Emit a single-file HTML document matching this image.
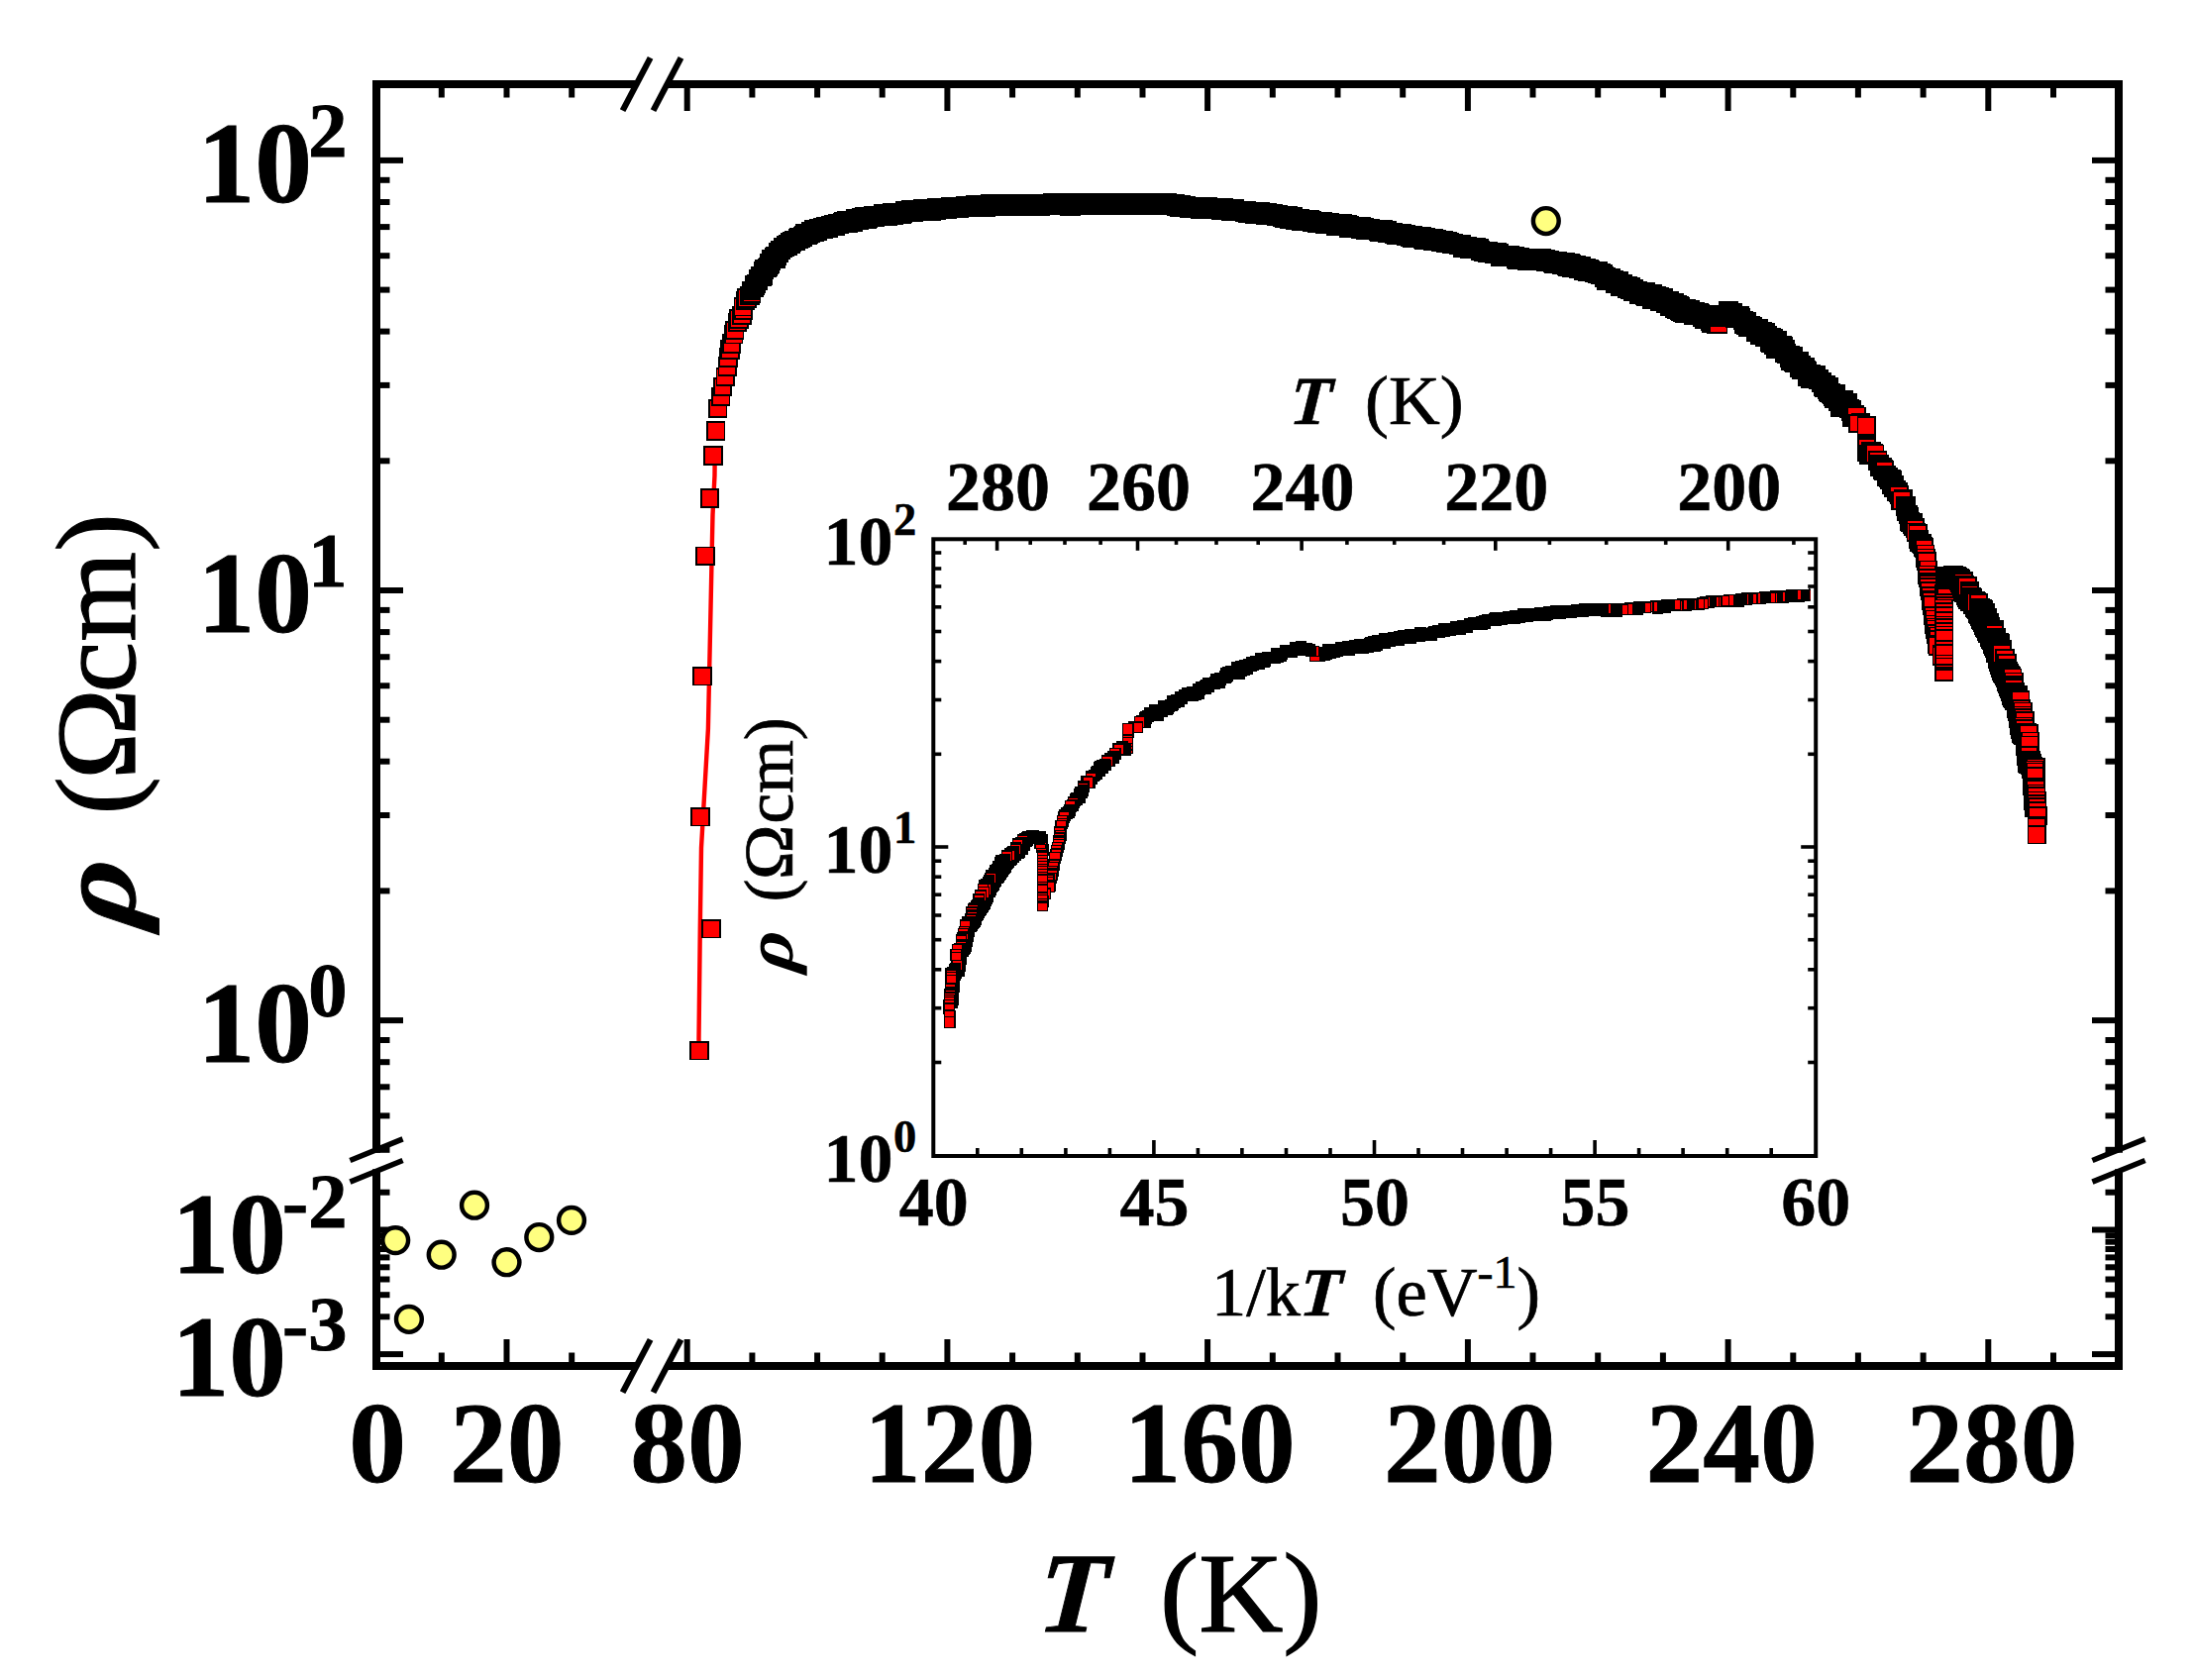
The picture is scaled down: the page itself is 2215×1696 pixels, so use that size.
<!DOCTYPE html>
<html lang="en"><head><meta charset="utf-8"><title>Resistivity versus temperature</title>
<style>html,body{margin:0;padding:0;background:#fff}svg{display:block}text{font-family:"Liberation Serif",serif;fill:#000}.b{font-weight:bold;stroke:#000;stroke-width:0.9px}.b2{font-weight:bold;stroke:#000;stroke-width:0.55px}.bi{font-weight:bold;font-style:italic}</style></head><body>
<svg width="2215" height="1696" viewBox="0 0 2215 1696">
<rect width="2215" height="1696" fill="#fff"/>
<g id="main-data">
<polyline fill="none" stroke="#f00" stroke-width="4.4" points="721.6,470 721.5,480 719.5,520 717.6,610 714.9,736 708,856 706.8,937 705.5,1049 705.8,1060"/>
<g fill="#f00" stroke="#000" stroke-width="1.8" shape-rendering="crispEdges">
<rect x="697.2" y="1052" width="17.5" height="17.5"/>
<rect x="709.2" y="929" width="17.5" height="17.5"/>
<rect x="698.2" y="816" width="17.5" height="17.5"/>
<rect x="700.2" y="674" width="17.5" height="17.5"/>
<rect x="703.2" y="552.4" width="17.5" height="17.5"/>
<rect x="707.8" y="494.1" width="17.5" height="17.5"/>
<rect x="711.2" y="451.2" width="17.5" height="17.5"/>
<rect x="714.1" y="426.1" width="17.5" height="17.5"/>
<rect x="716.1" y="403.6" width="17.5" height="17.5"/>
<rect x="719.1" y="391.9" width="17.5" height="17.5"/>
<rect x="720.7" y="381.9" width="17.5" height="17.5"/>
<rect x="723.5" y="371.8" width="17.5" height="17.5"/>
<rect x="725.5" y="361.4" width="17.5" height="17.5"/>
<rect x="726.5" y="352.3" width="17.5" height="17.5"/>
<rect x="728.2" y="344.4" width="17.5" height="17.5"/>
<rect x="729.8" y="338.3" width="17.5" height="17.5"/>
<rect x="732.1" y="329" width="17.5" height="17.5"/>
<rect x="732.9" y="324.9" width="17.5" height="17.5"/>
<rect x="735.7" y="316.8" width="17.5" height="17.5"/>
<rect x="737.3" y="313.4" width="17.5" height="17.5"/>
<rect x="740.2" y="309.7" width="17.5" height="17.5"/>
<rect x="741.7" y="304.3" width="17.5" height="17.5"/>
<rect x="741.6" y="301" width="17.5" height="17.5"/>
<rect x="743.7" y="294.9" width="17.5" height="17.5"/>
<rect x="745.2" y="292.3" width="17.5" height="17.5"/>
<rect x="748.3" y="289.8" width="17.5" height="17.5"/>
<rect x="749.9" y="287.7" width="17.5" height="17.5"/>
<rect x="750" y="284.8" width="17.5" height="17.5" fill="#000"/>
<rect x="752.9" y="281.8" width="17.5" height="17.5" fill="#000"/>
<rect x="753.3" y="279.1" width="17.5" height="17.5" fill="#000"/>
<rect x="754.9" y="277.8" width="17.5" height="17.5" fill="#000"/>
<rect x="757.1" y="274.3" width="17.5" height="17.5" fill="#000"/>
<rect x="756.9" y="272.5" width="17.5" height="17.5" fill="#000"/>
<rect x="758.7" y="270.1" width="17.5" height="17.5" fill="#000"/>
<rect x="760.3" y="270.4" width="17.5" height="17.5" fill="#000"/>
<rect x="762" y="269.4" width="17.5" height="17.5" fill="#000"/>
<rect x="761.6" y="265.9" width="17.5" height="17.5" fill="#000"/>
<rect x="761.9" y="265.3" width="17.5" height="17.5" fill="#000"/>
<rect x="762.7" y="263.2" width="17.5" height="17.5" fill="#000"/>
<rect x="765.6" y="261.8" width="17.5" height="17.5" fill="#000"/>
<rect x="767" y="261" width="17.5" height="17.5" fill="#000"/>
<rect x="767.5" y="258.5" width="17.5" height="17.5" fill="#000"/>
<rect x="768.3" y="257.3" width="17.5" height="17.5" fill="#000"/>
<rect x="770" y="254.1" width="17.5" height="17.5" fill="#000"/>
<rect x="770.1" y="253.5" width="17.5" height="17.5" fill="#000"/>
<rect x="770.1" y="252.5" width="17.5" height="17.5" fill="#000"/>
<rect x="772.7" y="250.7" width="17.5" height="17.5" fill="#000"/>
<rect x="774.2" y="252.1" width="17.5" height="17.5" fill="#000"/>
<rect x="774.1" y="250" width="17.5" height="17.5" fill="#000"/>
<rect x="774.2" y="249.7" width="17.5" height="17.5" fill="#000"/>
<rect x="775.6" y="249.5" width="17.5" height="17.5" fill="#000"/>
<rect x="776.4" y="246.3" width="17.5" height="17.5" fill="#000"/>
<rect x="777.6" y="246.7" width="17.5" height="17.5" fill="#000"/>
<rect x="779.3" y="243.6" width="17.5" height="17.5" fill="#000"/>
<rect x="779.6" y="243.7" width="17.5" height="17.5" fill="#000"/>
<rect x="781.9" y="241.3" width="17.5" height="17.5" fill="#000"/>
<rect x="783.6" y="240.4" width="17.5" height="17.5" fill="#000"/>
<rect x="783.3" y="240.9" width="17.5" height="17.5" fill="#000"/>
<rect x="784.5" y="238.4" width="17.5" height="17.5" fill="#000"/>
<rect x="787.1" y="239.7" width="17.5" height="17.5" fill="#000"/>
<rect x="786.1" y="238.8" width="17.5" height="17.5" fill="#000"/>
<rect x="787.3" y="237.4" width="17.5" height="17.5" fill="#000"/>
<rect x="789.3" y="237.4" width="17.5" height="17.5" fill="#000"/>
<rect x="788.8" y="236.3" width="17.5" height="17.5" fill="#000"/>
<rect x="790.8" y="235.2" width="17.5" height="17.5" fill="#000"/>
<rect x="793.4" y="234.2" width="17.5" height="17.5" fill="#000"/>
<rect x="793.3" y="233.8" width="17.5" height="17.5" fill="#000"/>
<rect x="794.8" y="234.9" width="17.5" height="17.5" fill="#000"/>
<rect x="796.4" y="232" width="17.5" height="17.5" fill="#000"/>
<rect x="797.4" y="231.4" width="17.5" height="17.5" fill="#000"/>
<rect x="797.2" y="232.1" width="17.5" height="17.5" fill="#000"/>
<rect x="797.5" y="230.8" width="17.5" height="17.5" fill="#000"/>
<rect x="798.4" y="232" width="17.5" height="17.5" fill="#000"/>
<rect x="799.9" y="231.1" width="17.5" height="17.5" fill="#000"/>
<rect x="801.3" y="230.9" width="17.5" height="17.5" fill="#000"/>
<rect x="801.4" y="230" width="17.5" height="17.5" fill="#000"/>
<rect x="802.7" y="228.9" width="17.5" height="17.5" fill="#000"/>
<rect x="803.6" y="226.8" width="17.5" height="17.5" fill="#000"/>
<rect x="806.2" y="228.6" width="17.5" height="17.5" fill="#000"/>
<rect x="806.3" y="227.5" width="17.5" height="17.5" fill="#000"/>
<rect x="807.6" y="227.7" width="17.5" height="17.5" fill="#000"/>
<rect x="809.9" y="224.5" width="17.5" height="17.5" fill="#000"/>
<rect x="810" y="225.6" width="17.5" height="17.5" fill="#000"/>
<rect x="810" y="226.3" width="17.5" height="17.5" fill="#000"/>
<rect x="811.8" y="225.3" width="17.5" height="17.5" fill="#000"/>
<rect x="814.1" y="225.3" width="17.5" height="17.5" fill="#000"/>
<rect x="813" y="222.5" width="17.5" height="17.5" fill="#000"/>
<rect x="815.4" y="224.8" width="17.5" height="17.5" fill="#000"/>
<rect x="816.5" y="224.9" width="17.5" height="17.5" fill="#000"/>
<rect x="817.5" y="221.6" width="17.5" height="17.5" fill="#000"/>
<rect x="819.4" y="222.2" width="17.5" height="17.5" fill="#000"/>
<rect x="818.9" y="222.9" width="17.5" height="17.5" fill="#000"/>
<rect x="819.7" y="221.4" width="17.5" height="17.5" fill="#000"/>
<rect x="821.7" y="221.1" width="17.5" height="17.5" fill="#000"/>
<rect x="822.2" y="222.5" width="17.5" height="17.5" fill="#000"/>
<rect x="824.6" y="219.9" width="17.5" height="17.5" fill="#000"/>
<rect x="825.7" y="220.2" width="17.5" height="17.5" fill="#000"/>
<rect x="826.7" y="220.1" width="17.5" height="17.5" fill="#000"/>
<rect x="826.2" y="220.5" width="17.5" height="17.5" fill="#000"/>
<rect x="827.6" y="221.7" width="17.5" height="17.5" fill="#000"/>
<rect x="827.7" y="220.7" width="17.5" height="17.5" fill="#000"/>
<rect x="829.4" y="219.1" width="17.5" height="17.5" fill="#000"/>
<rect x="832.3" y="219.6" width="17.5" height="17.5" fill="#000"/>
<rect x="833.3" y="217.6" width="17.5" height="17.5" fill="#000"/>
<rect x="834.4" y="219.3" width="17.5" height="17.5" fill="#000"/>
<rect x="833.5" y="219.4" width="17.5" height="17.5" fill="#000"/>
<rect x="834.5" y="219.3" width="17.5" height="17.5" fill="#000"/>
<rect x="836.7" y="216.8" width="17.5" height="17.5" fill="#000"/>
<rect x="838.3" y="217.9" width="17.5" height="17.5" fill="#000"/>
<rect x="838.8" y="216.6" width="17.5" height="17.5" fill="#000"/>
<rect x="838.4" y="216.8" width="17.5" height="17.5" fill="#000"/>
<rect x="841.6" y="216.1" width="17.5" height="17.5" fill="#000"/>
<rect x="842.2" y="216.8" width="17.5" height="17.5" fill="#000"/>
<rect x="841.8" y="215.5" width="17.5" height="17.5" fill="#000"/>
<rect x="843.2" y="215.2" width="17.5" height="17.5" fill="#000"/>
<rect x="846" y="216.2" width="17.5" height="17.5" fill="#000"/>
<rect x="845.5" y="214.3" width="17.5" height="17.5" fill="#000"/>
<rect x="847.4" y="216.4" width="17.5" height="17.5" fill="#000"/>
<rect x="846.9" y="216.2" width="17.5" height="17.5" fill="#000"/>
<rect x="850" y="213.9" width="17.5" height="17.5" fill="#000"/>
<rect x="849.1" y="213.6" width="17.5" height="17.5" fill="#000"/>
<rect x="852.3" y="213.8" width="17.5" height="17.5" fill="#000"/>
<rect x="851.7" y="213.9" width="17.5" height="17.5" fill="#000"/>
<rect x="852.2" y="215.3" width="17.5" height="17.5" fill="#000"/>
<rect x="855.4" y="213" width="17.5" height="17.5" fill="#000"/>
<rect x="855.3" y="211.9" width="17.5" height="17.5" fill="#000"/>
<rect x="856.1" y="211.8" width="17.5" height="17.5" fill="#000"/>
<rect x="858.2" y="213.6" width="17.5" height="17.5" fill="#000"/>
<rect x="857.7" y="213.1" width="17.5" height="17.5" fill="#000"/>
<rect x="858.8" y="211.9" width="17.5" height="17.5" fill="#000"/>
<rect x="859.9" y="212.1" width="17.5" height="17.5" fill="#000"/>
<rect x="860.6" y="210.4" width="17.5" height="17.5" fill="#000"/>
<rect x="862.2" y="211.7" width="17.5" height="17.5" fill="#000"/>
<rect x="863.9" y="210.1" width="17.5" height="17.5" fill="#000"/>
<rect x="864.5" y="209.9" width="17.5" height="17.5" fill="#000"/>
<rect x="865.7" y="211" width="17.5" height="17.5" fill="#000"/>
<rect x="866.8" y="212.4" width="17.5" height="17.5" fill="#000"/>
<rect x="867.7" y="211.8" width="17.5" height="17.5" fill="#000"/>
<rect x="867.6" y="209.7" width="17.5" height="17.5" fill="#000"/>
<rect x="869.1" y="210.6" width="17.5" height="17.5" fill="#000"/>
<rect x="871.6" y="210.1" width="17.5" height="17.5" fill="#000"/>
<rect x="871.6" y="210.1" width="17.5" height="17.5" fill="#000"/>
<rect x="873.2" y="209.1" width="17.5" height="17.5" fill="#000"/>
<rect x="873.1" y="209.7" width="17.5" height="17.5" fill="#000"/>
<rect x="874.5" y="210.4" width="17.5" height="17.5" fill="#000"/>
<rect x="876.9" y="209.5" width="17.5" height="17.5" fill="#000"/>
<rect x="877.4" y="208.6" width="17.5" height="17.5" fill="#000"/>
<rect x="879.4" y="209.4" width="17.5" height="17.5" fill="#000"/>
<rect x="879.7" y="209.1" width="17.5" height="17.5" fill="#000"/>
<rect x="880.5" y="208.4" width="17.5" height="17.5" fill="#000"/>
<rect x="881.4" y="208.7" width="17.5" height="17.5" fill="#000"/>
<rect x="882.5" y="207.3" width="17.5" height="17.5" fill="#000"/>
<rect x="884.1" y="207.3" width="17.5" height="17.5" fill="#000"/>
<rect x="885.8" y="209.1" width="17.5" height="17.5" fill="#000"/>
<rect x="885.8" y="206.8" width="17.5" height="17.5" fill="#000"/>
<rect x="887.6" y="209.2" width="17.5" height="17.5" fill="#000"/>
<rect x="886.8" y="208.1" width="17.5" height="17.5" fill="#000"/>
<rect x="887.7" y="208.6" width="17.5" height="17.5" fill="#000"/>
<rect x="888.8" y="207.1" width="17.5" height="17.5" fill="#000"/>
<rect x="891.7" y="206.2" width="17.5" height="17.5" fill="#000"/>
<rect x="891.1" y="206.6" width="17.5" height="17.5" fill="#000"/>
<rect x="893.5" y="208.3" width="17.5" height="17.5" fill="#000"/>
<rect x="895.1" y="205.5" width="17.5" height="17.5" fill="#000"/>
<rect x="894.4" y="205.4" width="17.5" height="17.5" fill="#000"/>
<rect x="895.9" y="206.7" width="17.5" height="17.5" fill="#000"/>
<rect x="898.5" y="205.5" width="17.5" height="17.5" fill="#000"/>
<rect x="897.4" y="206.6" width="17.5" height="17.5" fill="#000"/>
<rect x="899.4" y="206.7" width="17.5" height="17.5" fill="#000"/>
<rect x="899.6" y="206.7" width="17.5" height="17.5" fill="#000"/>
<rect x="902" y="207.4" width="17.5" height="17.5" fill="#000"/>
<rect x="902.6" y="206" width="17.5" height="17.5" fill="#000"/>
<rect x="902.3" y="206.2" width="17.5" height="17.5" fill="#000"/>
<rect x="904.9" y="205.4" width="17.5" height="17.5" fill="#000"/>
<rect x="904.5" y="203.8" width="17.5" height="17.5" fill="#000"/>
<rect x="907.4" y="203.7" width="17.5" height="17.5" fill="#000"/>
<rect x="906.7" y="205.8" width="17.5" height="17.5" fill="#000"/>
<rect x="907.6" y="204" width="17.5" height="17.5" fill="#000"/>
<rect x="909.2" y="205.9" width="17.5" height="17.5" fill="#000"/>
<rect x="910.7" y="203.3" width="17.5" height="17.5" fill="#000"/>
<rect x="912.8" y="205.2" width="17.5" height="17.5" fill="#000"/>
<rect x="912.1" y="203.1" width="17.5" height="17.5" fill="#000"/>
<rect x="914.2" y="203.7" width="17.5" height="17.5" fill="#000"/>
<rect x="914" y="205.6" width="17.5" height="17.5" fill="#000"/>
<rect x="916.6" y="204.3" width="17.5" height="17.5" fill="#000"/>
<rect x="916.1" y="202.7" width="17.5" height="17.5" fill="#000"/>
<rect x="918.6" y="203" width="17.5" height="17.5" fill="#000"/>
<rect x="918.2" y="202.7" width="17.5" height="17.5" fill="#000"/>
<rect x="919.2" y="202.6" width="17.5" height="17.5" fill="#000"/>
<rect x="921.3" y="204.2" width="17.5" height="17.5" fill="#000"/>
<rect x="922.6" y="202.2" width="17.5" height="17.5" fill="#000"/>
<rect x="922.9" y="204.6" width="17.5" height="17.5" fill="#000"/>
<rect x="924.6" y="204.2" width="17.5" height="17.5" fill="#000"/>
<rect x="924.6" y="204.4" width="17.5" height="17.5" fill="#000"/>
<rect x="925.5" y="204.1" width="17.5" height="17.5" fill="#000"/>
<rect x="927.2" y="203.7" width="17.5" height="17.5" fill="#000"/>
<rect x="929.4" y="203.7" width="17.5" height="17.5" fill="#000"/>
<rect x="929.8" y="203.9" width="17.5" height="17.5" fill="#000"/>
<rect x="930.4" y="204.4" width="17.5" height="17.5" fill="#000"/>
<rect x="931.2" y="204.3" width="17.5" height="17.5" fill="#000"/>
<rect x="933.5" y="202.5" width="17.5" height="17.5" fill="#000"/>
<rect x="933.2" y="202.7" width="17.5" height="17.5" fill="#000"/>
<rect x="936.2" y="203.7" width="17.5" height="17.5" fill="#000"/>
<rect x="936.9" y="202.6" width="17.5" height="17.5" fill="#000"/>
<rect x="937.1" y="201.3" width="17.5" height="17.5" fill="#000"/>
<rect x="937.9" y="202.2" width="17.5" height="17.5" fill="#000"/>
<rect x="939.7" y="200.6" width="17.5" height="17.5" fill="#000"/>
<rect x="939.9" y="201" width="17.5" height="17.5" fill="#000"/>
<rect x="941.9" y="201.5" width="17.5" height="17.5" fill="#000"/>
<rect x="942.1" y="202.3" width="17.5" height="17.5" fill="#000"/>
<rect x="942.3" y="202.9" width="17.5" height="17.5" fill="#000"/>
<rect x="943.4" y="200.9" width="17.5" height="17.5" fill="#000"/>
<rect x="944.9" y="202.6" width="17.5" height="17.5" fill="#000"/>
<rect x="945.5" y="200.4" width="17.5" height="17.5" fill="#000"/>
<rect x="948.6" y="200.9" width="17.5" height="17.5" fill="#000"/>
<rect x="948.1" y="202.1" width="17.5" height="17.5" fill="#000"/>
<rect x="949.2" y="201.4" width="17.5" height="17.5" fill="#000"/>
<rect x="949.9" y="201.3" width="17.5" height="17.5" fill="#000"/>
<rect x="951.2" y="199.6" width="17.5" height="17.5" fill="#000"/>
<rect x="954.1" y="200.8" width="17.5" height="17.5" fill="#000"/>
<rect x="953.3" y="199.4" width="17.5" height="17.5" fill="#000"/>
<rect x="954.5" y="201.2" width="17.5" height="17.5" fill="#000"/>
<rect x="954.7" y="201.1" width="17.5" height="17.5" fill="#000"/>
<rect x="957" y="200.6" width="17.5" height="17.5" fill="#000"/>
<rect x="957.3" y="200.5" width="17.5" height="17.5" fill="#000"/>
<rect x="957.9" y="201.1" width="17.5" height="17.5" fill="#000"/>
<rect x="959.2" y="200.6" width="17.5" height="17.5" fill="#000"/>
<rect x="960.1" y="201.7" width="17.5" height="17.5" fill="#000"/>
<rect x="961.8" y="201" width="17.5" height="17.5" fill="#000"/>
<rect x="963.6" y="200" width="17.5" height="17.5" fill="#000"/>
<rect x="965.1" y="199.6" width="17.5" height="17.5" fill="#000"/>
<rect x="966" y="198.8" width="17.5" height="17.5" fill="#000"/>
<rect x="966.2" y="200.5" width="17.5" height="17.5" fill="#000"/>
<rect x="968.9" y="201" width="17.5" height="17.5" fill="#000"/>
<rect x="969.2" y="199.4" width="17.5" height="17.5" fill="#000"/>
<rect x="968.5" y="198.7" width="17.5" height="17.5" fill="#000"/>
<rect x="971.8" y="199.3" width="17.5" height="17.5" fill="#000"/>
<rect x="972.4" y="198.7" width="17.5" height="17.5" fill="#000"/>
<rect x="971.9" y="199.5" width="17.5" height="17.5" fill="#000"/>
<rect x="973.9" y="198.5" width="17.5" height="17.5" fill="#000"/>
<rect x="975.7" y="198.5" width="17.5" height="17.5" fill="#000"/>
<rect x="976.2" y="198.2" width="17.5" height="17.5" fill="#000"/>
<rect x="977.5" y="198.8" width="17.5" height="17.5" fill="#000"/>
<rect x="977.4" y="200.8" width="17.5" height="17.5" fill="#000"/>
<rect x="978.2" y="199.7" width="17.5" height="17.5" fill="#000"/>
<rect x="979.1" y="198.2" width="17.5" height="17.5" fill="#000"/>
<rect x="981.4" y="198.8" width="17.5" height="17.5" fill="#000"/>
<rect x="982.6" y="198.5" width="17.5" height="17.5" fill="#000"/>
<rect x="983.3" y="200.6" width="17.5" height="17.5" fill="#000"/>
<rect x="985.2" y="198.2" width="17.5" height="17.5" fill="#000"/>
<rect x="985.4" y="198.8" width="17.5" height="17.5" fill="#000"/>
<rect x="986.9" y="200.2" width="17.5" height="17.5" fill="#000"/>
<rect x="988.2" y="199.6" width="17.5" height="17.5" fill="#000"/>
<rect x="987.5" y="199.5" width="17.5" height="17.5" fill="#000"/>
<rect x="990.2" y="199.6" width="17.5" height="17.5" fill="#000"/>
<rect x="991.3" y="197.2" width="17.5" height="17.5" fill="#000"/>
<rect x="991.7" y="199" width="17.5" height="17.5" fill="#000"/>
<rect x="992.7" y="198" width="17.5" height="17.5" fill="#000"/>
<rect x="994.5" y="198.1" width="17.5" height="17.5" fill="#000"/>
<rect x="995.3" y="199.8" width="17.5" height="17.5" fill="#000"/>
<rect x="995" y="199.2" width="17.5" height="17.5" fill="#000"/>
<rect x="997.6" y="199.1" width="17.5" height="17.5" fill="#000"/>
<rect x="998.2" y="200" width="17.5" height="17.5" fill="#000"/>
<rect x="997.9" y="199.2" width="17.5" height="17.5" fill="#000"/>
<rect x="1000.6" y="197.8" width="17.5" height="17.5" fill="#000"/>
<rect x="1001.6" y="199.1" width="17.5" height="17.5" fill="#000"/>
<rect x="1002.3" y="198.5" width="17.5" height="17.5" fill="#000"/>
<rect x="1003.2" y="199.6" width="17.5" height="17.5" fill="#000"/>
<rect x="1005.4" y="199.3" width="17.5" height="17.5" fill="#000"/>
<rect x="1006.6" y="197" width="17.5" height="17.5" fill="#000"/>
<rect x="1005.2" y="198.5" width="17.5" height="17.5" fill="#000"/>
<rect x="1008.3" y="196.9" width="17.5" height="17.5" fill="#000"/>
<rect x="1008.4" y="199" width="17.5" height="17.5" fill="#000"/>
<rect x="1008.8" y="196.9" width="17.5" height="17.5" fill="#000"/>
<rect x="1009.9" y="198" width="17.5" height="17.5" fill="#000"/>
<rect x="1010.7" y="198.2" width="17.5" height="17.5" fill="#000"/>
<rect x="1013.9" y="199.4" width="17.5" height="17.5" fill="#000"/>
<rect x="1014.6" y="198.2" width="17.5" height="17.5" fill="#000"/>
<rect x="1015.8" y="197.6" width="17.5" height="17.5" fill="#000"/>
<rect x="1015.2" y="197" width="17.5" height="17.5" fill="#000"/>
<rect x="1016.9" y="199.7" width="17.5" height="17.5" fill="#000"/>
<rect x="1016.7" y="198.2" width="17.5" height="17.5" fill="#000"/>
<rect x="1018.9" y="198.8" width="17.5" height="17.5" fill="#000"/>
<rect x="1019.1" y="198.6" width="17.5" height="17.5" fill="#000"/>
<rect x="1020.6" y="197.1" width="17.5" height="17.5" fill="#000"/>
<rect x="1020.9" y="197.3" width="17.5" height="17.5" fill="#000"/>
<rect x="1024.1" y="199.3" width="17.5" height="17.5" fill="#000"/>
<rect x="1025.4" y="197.4" width="17.5" height="17.5" fill="#000"/>
<rect x="1026.4" y="198.7" width="17.5" height="17.5" fill="#000"/>
<rect x="1026" y="198.4" width="17.5" height="17.5" fill="#000"/>
<rect x="1028.7" y="197.8" width="17.5" height="17.5" fill="#000"/>
<rect x="1028.1" y="198.3" width="17.5" height="17.5" fill="#000"/>
<rect x="1028.9" y="199.4" width="17.5" height="17.5" fill="#000"/>
<rect x="1029.5" y="197" width="17.5" height="17.5" fill="#000"/>
<rect x="1031.1" y="196.6" width="17.5" height="17.5" fill="#000"/>
<rect x="1032" y="198.7" width="17.5" height="17.5" fill="#000"/>
<rect x="1033.8" y="198.9" width="17.5" height="17.5" fill="#000"/>
<rect x="1034.4" y="196.5" width="17.5" height="17.5" fill="#000"/>
<rect x="1036.8" y="197" width="17.5" height="17.5" fill="#000"/>
<rect x="1037.2" y="196.6" width="17.5" height="17.5" fill="#000"/>
<rect x="1039.1" y="197.7" width="17.5" height="17.5" fill="#000"/>
<rect x="1039.6" y="199.3" width="17.5" height="17.5" fill="#000"/>
<rect x="1040.6" y="198" width="17.5" height="17.5" fill="#000"/>
<rect x="1041.7" y="197.4" width="17.5" height="17.5" fill="#000"/>
<rect x="1041.6" y="199.3" width="17.5" height="17.5" fill="#000"/>
<rect x="1044.3" y="199" width="17.5" height="17.5" fill="#000"/>
<rect x="1044.2" y="198.3" width="17.5" height="17.5" fill="#000"/>
<rect x="1044.8" y="197.1" width="17.5" height="17.5" fill="#000"/>
<rect x="1047.6" y="198.5" width="17.5" height="17.5" fill="#000"/>
<rect x="1047.8" y="198.4" width="17.5" height="17.5" fill="#000"/>
<rect x="1048.6" y="198.1" width="17.5" height="17.5" fill="#000"/>
<rect x="1048.6" y="198.8" width="17.5" height="17.5" fill="#000"/>
<rect x="1049.8" y="196.5" width="17.5" height="17.5" fill="#000"/>
<rect x="1051.6" y="198.6" width="17.5" height="17.5" fill="#000"/>
<rect x="1053.7" y="196.1" width="17.5" height="17.5" fill="#000"/>
<rect x="1053.6" y="198.8" width="17.5" height="17.5" fill="#000"/>
<rect x="1053.9" y="198.9" width="17.5" height="17.5" fill="#000"/>
<rect x="1055.4" y="198.9" width="17.5" height="17.5" fill="#000"/>
<rect x="1056.1" y="198.4" width="17.5" height="17.5" fill="#000"/>
<rect x="1058.1" y="196.4" width="17.5" height="17.5" fill="#000"/>
<rect x="1059.6" y="197.9" width="17.5" height="17.5" fill="#000"/>
<rect x="1059.8" y="197.6" width="17.5" height="17.5" fill="#000"/>
<rect x="1060.7" y="198.1" width="17.5" height="17.5" fill="#000"/>
<rect x="1060.9" y="198.3" width="17.5" height="17.5" fill="#000"/>
<rect x="1064.4" y="198.8" width="17.5" height="17.5" fill="#000"/>
<rect x="1064.2" y="197.2" width="17.5" height="17.5" fill="#000"/>
<rect x="1066.2" y="198.5" width="17.5" height="17.5" fill="#000"/>
<rect x="1065.7" y="198.4" width="17.5" height="17.5" fill="#000"/>
<rect x="1067.1" y="197.7" width="17.5" height="17.5" fill="#000"/>
<rect x="1069.6" y="196.5" width="17.5" height="17.5" fill="#000"/>
<rect x="1070.4" y="199.1" width="17.5" height="17.5" fill="#000"/>
<rect x="1069.3" y="196.9" width="17.5" height="17.5" fill="#000"/>
<rect x="1072.6" y="197.6" width="17.5" height="17.5" fill="#000"/>
<rect x="1072.8" y="199.1" width="17.5" height="17.5" fill="#000"/>
<rect x="1073.3" y="196.2" width="17.5" height="17.5" fill="#000"/>
<rect x="1075.5" y="196.4" width="17.5" height="17.5" fill="#000"/>
<rect x="1077" y="198.3" width="17.5" height="17.5" fill="#000"/>
<rect x="1075.8" y="198.6" width="17.5" height="17.5" fill="#000"/>
<rect x="1077.9" y="196.9" width="17.5" height="17.5" fill="#000"/>
<rect x="1080" y="196.8" width="17.5" height="17.5" fill="#000"/>
<rect x="1080.3" y="196.7" width="17.5" height="17.5" fill="#000"/>
<rect x="1080.9" y="197.3" width="17.5" height="17.5" fill="#000"/>
<rect x="1080.8" y="196.6" width="17.5" height="17.5" fill="#000"/>
<rect x="1082.4" y="196.2" width="17.5" height="17.5" fill="#000"/>
<rect x="1084.5" y="198.1" width="17.5" height="17.5" fill="#000"/>
<rect x="1084.2" y="198.2" width="17.5" height="17.5" fill="#000"/>
<rect x="1086.6" y="196.8" width="17.5" height="17.5" fill="#000"/>
<rect x="1086.3" y="198.8" width="17.5" height="17.5" fill="#000"/>
<rect x="1088.4" y="197.2" width="17.5" height="17.5" fill="#000"/>
<rect x="1089.1" y="198.3" width="17.5" height="17.5" fill="#000"/>
<rect x="1090.7" y="199" width="17.5" height="17.5" fill="#000"/>
<rect x="1091" y="197.5" width="17.5" height="17.5" fill="#000"/>
<rect x="1093.7" y="197" width="17.5" height="17.5" fill="#000"/>
<rect x="1094.6" y="197.5" width="17.5" height="17.5" fill="#000"/>
<rect x="1093.9" y="198.2" width="17.5" height="17.5" fill="#000"/>
<rect x="1096.9" y="196.8" width="17.5" height="17.5" fill="#000"/>
<rect x="1096.2" y="198.9" width="17.5" height="17.5" fill="#000"/>
<rect x="1097.8" y="196.8" width="17.5" height="17.5" fill="#000"/>
<rect x="1098.6" y="198.1" width="17.5" height="17.5" fill="#000"/>
<rect x="1100.3" y="196" width="17.5" height="17.5" fill="#000"/>
<rect x="1100.2" y="198.8" width="17.5" height="17.5" fill="#000"/>
<rect x="1101.6" y="197.6" width="17.5" height="17.5" fill="#000"/>
<rect x="1103.5" y="198.3" width="17.5" height="17.5" fill="#000"/>
<rect x="1104.9" y="196.6" width="17.5" height="17.5" fill="#000"/>
<rect x="1105.1" y="198.3" width="17.5" height="17.5" fill="#000"/>
<rect x="1107.4" y="197.9" width="17.5" height="17.5" fill="#000"/>
<rect x="1108.1" y="198.2" width="17.5" height="17.5" fill="#000"/>
<rect x="1107.6" y="196.5" width="17.5" height="17.5" fill="#000"/>
<rect x="1108.8" y="195.9" width="17.5" height="17.5" fill="#000"/>
<rect x="1110.4" y="198.3" width="17.5" height="17.5" fill="#000"/>
<rect x="1110.7" y="197.6" width="17.5" height="17.5" fill="#000"/>
<rect x="1112.9" y="195.9" width="17.5" height="17.5" fill="#000"/>
<rect x="1112.6" y="197.6" width="17.5" height="17.5" fill="#000"/>
<rect x="1113.8" y="195.8" width="17.5" height="17.5" fill="#000"/>
<rect x="1114.7" y="198.7" width="17.5" height="17.5" fill="#000"/>
<rect x="1115.5" y="197.6" width="17.5" height="17.5" fill="#000"/>
<rect x="1118.8" y="196.1" width="17.5" height="17.5" fill="#000"/>
<rect x="1119.4" y="195.7" width="17.5" height="17.5" fill="#000"/>
<rect x="1121" y="197.8" width="17.5" height="17.5" fill="#000"/>
<rect x="1120.1" y="195.9" width="17.5" height="17.5" fill="#000"/>
<rect x="1122.6" y="198.7" width="17.5" height="17.5" fill="#000"/>
<rect x="1123.4" y="197.6" width="17.5" height="17.5" fill="#000"/>
<rect x="1123.7" y="197.8" width="17.5" height="17.5" fill="#000"/>
<rect x="1124.2" y="198.8" width="17.5" height="17.5" fill="#000"/>
<rect x="1125.6" y="197.7" width="17.5" height="17.5" fill="#000"/>
<rect x="1128.4" y="198.4" width="17.5" height="17.5" fill="#000"/>
<rect x="1129.5" y="198.2" width="17.5" height="17.5" fill="#000"/>
<rect x="1128.9" y="196.2" width="17.5" height="17.5" fill="#000"/>
<rect x="1131.2" y="197.5" width="17.5" height="17.5" fill="#000"/>
<rect x="1130.2" y="197.3" width="17.5" height="17.5" fill="#000"/>
<rect x="1132.1" y="195.9" width="17.5" height="17.5" fill="#000"/>
<rect x="1132.7" y="197.7" width="17.5" height="17.5" fill="#000"/>
<rect x="1135.6" y="198.7" width="17.5" height="17.5" fill="#000"/>
<rect x="1135.3" y="196.3" width="17.5" height="17.5" fill="#000"/>
<rect x="1137.3" y="198.7" width="17.5" height="17.5" fill="#000"/>
<rect x="1136.5" y="198.6" width="17.5" height="17.5" fill="#000"/>
<rect x="1139.8" y="198" width="17.5" height="17.5" fill="#000"/>
<rect x="1140.4" y="196" width="17.5" height="17.5" fill="#000"/>
<rect x="1140.4" y="198" width="17.5" height="17.5" fill="#000"/>
<rect x="1143.1" y="196.9" width="17.5" height="17.5" fill="#000"/>
<rect x="1142.3" y="196.6" width="17.5" height="17.5" fill="#000"/>
<rect x="1143.5" y="198" width="17.5" height="17.5" fill="#000"/>
<rect x="1143.7" y="196.5" width="17.5" height="17.5" fill="#000"/>
<rect x="1147.2" y="196.8" width="17.5" height="17.5" fill="#000"/>
<rect x="1148.3" y="198.7" width="17.5" height="17.5" fill="#000"/>
<rect x="1147.5" y="197.3" width="17.5" height="17.5" fill="#000"/>
<rect x="1150.4" y="195.8" width="17.5" height="17.5" fill="#000"/>
<rect x="1150" y="198" width="17.5" height="17.5" fill="#000"/>
<rect x="1151.1" y="197.3" width="17.5" height="17.5" fill="#000"/>
<rect x="1153.5" y="198.2" width="17.5" height="17.5" fill="#000"/>
<rect x="1154.2" y="196.5" width="17.5" height="17.5" fill="#000"/>
<rect x="1155.3" y="196.4" width="17.5" height="17.5" fill="#000"/>
<rect x="1155.8" y="197.8" width="17.5" height="17.5" fill="#000"/>
<rect x="1156.1" y="197.7" width="17.5" height="17.5" fill="#000"/>
<rect x="1158.4" y="198.6" width="17.5" height="17.5" fill="#000"/>
<rect x="1157.9" y="196.5" width="17.5" height="17.5" fill="#000"/>
<rect x="1159.1" y="198.6" width="17.5" height="17.5" fill="#000"/>
<rect x="1159.6" y="197.1" width="17.5" height="17.5" fill="#000"/>
<rect x="1161.4" y="195.7" width="17.5" height="17.5" fill="#000"/>
<rect x="1163.9" y="195.7" width="17.5" height="17.5" fill="#000"/>
<rect x="1163.3" y="198.5" width="17.5" height="17.5" fill="#000"/>
<rect x="1163.9" y="197.3" width="17.5" height="17.5" fill="#000"/>
<rect x="1166.6" y="197.4" width="17.5" height="17.5" fill="#000"/>
<rect x="1166.4" y="197.5" width="17.5" height="17.5" fill="#000"/>
<rect x="1168.4" y="196.7" width="17.5" height="17.5" fill="#000"/>
<rect x="1169.8" y="196.2" width="17.5" height="17.5" fill="#000"/>
<rect x="1170.7" y="198.7" width="17.5" height="17.5" fill="#000"/>
<rect x="1172.2" y="198.3" width="17.5" height="17.5" fill="#000"/>
<rect x="1172.5" y="198.2" width="17.5" height="17.5" fill="#000"/>
<rect x="1174" y="198.9" width="17.5" height="17.5" fill="#000"/>
<rect x="1173.8" y="199" width="17.5" height="17.5" fill="#000"/>
<rect x="1174.6" y="197.1" width="17.5" height="17.5" fill="#000"/>
<rect x="1176.7" y="199" width="17.5" height="17.5" fill="#000"/>
<rect x="1177.3" y="197.1" width="17.5" height="17.5" fill="#000"/>
<rect x="1178.7" y="199.7" width="17.5" height="17.5" fill="#000"/>
<rect x="1180.5" y="198.5" width="17.5" height="17.5" fill="#000"/>
<rect x="1182" y="200.4" width="17.5" height="17.5" fill="#000"/>
<rect x="1181.7" y="198.3" width="17.5" height="17.5" fill="#000"/>
<rect x="1183.7" y="198.1" width="17.5" height="17.5" fill="#000"/>
<rect x="1182.7" y="200.1" width="17.5" height="17.5" fill="#000"/>
<rect x="1183.9" y="200.5" width="17.5" height="17.5" fill="#000"/>
<rect x="1187.2" y="199.3" width="17.5" height="17.5" fill="#000"/>
<rect x="1188.2" y="200.1" width="17.5" height="17.5" fill="#000"/>
<rect x="1189" y="199.9" width="17.5" height="17.5" fill="#000"/>
<rect x="1188.5" y="199" width="17.5" height="17.5" fill="#000"/>
<rect x="1191.4" y="201.1" width="17.5" height="17.5" fill="#000"/>
<rect x="1191.5" y="199.6" width="17.5" height="17.5" fill="#000"/>
<rect x="1191.5" y="200.5" width="17.5" height="17.5" fill="#000"/>
<rect x="1192.4" y="201.1" width="17.5" height="17.5" fill="#000"/>
<rect x="1193.7" y="199.9" width="17.5" height="17.5" fill="#000"/>
<rect x="1195.8" y="201.2" width="17.5" height="17.5" fill="#000"/>
<rect x="1195.2" y="200.9" width="17.5" height="17.5" fill="#000"/>
<rect x="1198" y="201.4" width="17.5" height="17.5" fill="#000"/>
<rect x="1198.1" y="201.5" width="17.5" height="17.5" fill="#000"/>
<rect x="1200.4" y="200.5" width="17.5" height="17.5" fill="#000"/>
<rect x="1199.5" y="201.9" width="17.5" height="17.5" fill="#000"/>
<rect x="1201.5" y="200.6" width="17.5" height="17.5" fill="#000"/>
<rect x="1203.1" y="202.1" width="17.5" height="17.5" fill="#000"/>
<rect x="1202.9" y="200.3" width="17.5" height="17.5" fill="#000"/>
<rect x="1204.6" y="201.7" width="17.5" height="17.5" fill="#000"/>
<rect x="1205.4" y="199.7" width="17.5" height="17.5" fill="#000"/>
<rect x="1206.5" y="200.9" width="17.5" height="17.5" fill="#000"/>
<rect x="1207.7" y="201.5" width="17.5" height="17.5" fill="#000"/>
<rect x="1210" y="199.7" width="17.5" height="17.5" fill="#000"/>
<rect x="1209.8" y="202.3" width="17.5" height="17.5" fill="#000"/>
<rect x="1211.8" y="202.4" width="17.5" height="17.5" fill="#000"/>
<rect x="1210.9" y="200.3" width="17.5" height="17.5" fill="#000"/>
<rect x="1213.1" y="200.6" width="17.5" height="17.5" fill="#000"/>
<rect x="1214.1" y="200.5" width="17.5" height="17.5" fill="#000"/>
<rect x="1215.3" y="202.8" width="17.5" height="17.5" fill="#000"/>
<rect x="1215.2" y="201.7" width="17.5" height="17.5" fill="#000"/>
<rect x="1217.9" y="200.6" width="17.5" height="17.5" fill="#000"/>
<rect x="1217.5" y="201.6" width="17.5" height="17.5" fill="#000"/>
<rect x="1219.2" y="202.1" width="17.5" height="17.5" fill="#000"/>
<rect x="1219.7" y="202.8" width="17.5" height="17.5" fill="#000"/>
<rect x="1221.7" y="200.9" width="17.5" height="17.5" fill="#000"/>
<rect x="1221.7" y="202.3" width="17.5" height="17.5" fill="#000"/>
<rect x="1224.6" y="200.9" width="17.5" height="17.5" fill="#000"/>
<rect x="1224" y="203.6" width="17.5" height="17.5" fill="#000"/>
<rect x="1227" y="201" width="17.5" height="17.5" fill="#000"/>
<rect x="1226.9" y="204" width="17.5" height="17.5" fill="#000"/>
<rect x="1229.1" y="203" width="17.5" height="17.5" fill="#000"/>
<rect x="1230.1" y="202.4" width="17.5" height="17.5" fill="#000"/>
<rect x="1230.9" y="203.9" width="17.5" height="17.5" fill="#000"/>
<rect x="1231.9" y="203.8" width="17.5" height="17.5" fill="#000"/>
<rect x="1231.9" y="201.9" width="17.5" height="17.5" fill="#000"/>
<rect x="1234.1" y="204.1" width="17.5" height="17.5" fill="#000"/>
<rect x="1233.5" y="203.5" width="17.5" height="17.5" fill="#000"/>
<rect x="1235.4" y="203.6" width="17.5" height="17.5" fill="#000"/>
<rect x="1235.4" y="204.1" width="17.5" height="17.5" fill="#000"/>
<rect x="1238" y="202.1" width="17.5" height="17.5" fill="#000"/>
<rect x="1237.3" y="203.3" width="17.5" height="17.5" fill="#000"/>
<rect x="1240.2" y="205" width="17.5" height="17.5" fill="#000"/>
<rect x="1241.5" y="204.8" width="17.5" height="17.5" fill="#000"/>
<rect x="1241.9" y="203.5" width="17.5" height="17.5" fill="#000"/>
<rect x="1243" y="204.4" width="17.5" height="17.5" fill="#000"/>
<rect x="1243.5" y="203.6" width="17.5" height="17.5" fill="#000"/>
<rect x="1244.6" y="203.5" width="17.5" height="17.5" fill="#000"/>
<rect x="1245.7" y="204.3" width="17.5" height="17.5" fill="#000"/>
<rect x="1245.6" y="203.9" width="17.5" height="17.5" fill="#000"/>
<rect x="1247.9" y="205.3" width="17.5" height="17.5" fill="#000"/>
<rect x="1249.7" y="203.7" width="17.5" height="17.5" fill="#000"/>
<rect x="1249.9" y="205.7" width="17.5" height="17.5" fill="#000"/>
<rect x="1251" y="206.1" width="17.5" height="17.5" fill="#000"/>
<rect x="1251.2" y="205.2" width="17.5" height="17.5" fill="#000"/>
<rect x="1252.1" y="205.3" width="17.5" height="17.5" fill="#000"/>
<rect x="1254.3" y="206.7" width="17.5" height="17.5" fill="#000"/>
<rect x="1255.6" y="206.7" width="17.5" height="17.5" fill="#000"/>
<rect x="1256.9" y="204.7" width="17.5" height="17.5" fill="#000"/>
<rect x="1257.4" y="207.1" width="17.5" height="17.5" fill="#000"/>
<rect x="1258.4" y="206.2" width="17.5" height="17.5" fill="#000"/>
<rect x="1260.7" y="207.1" width="17.5" height="17.5" fill="#000"/>
<rect x="1261.5" y="204.6" width="17.5" height="17.5" fill="#000"/>
<rect x="1262.2" y="205.3" width="17.5" height="17.5" fill="#000"/>
<rect x="1261.8" y="204.9" width="17.5" height="17.5" fill="#000"/>
<rect x="1263.7" y="205.2" width="17.5" height="17.5" fill="#000"/>
<rect x="1265.8" y="207.8" width="17.5" height="17.5" fill="#000"/>
<rect x="1266.5" y="205.5" width="17.5" height="17.5" fill="#000"/>
<rect x="1265.7" y="207.5" width="17.5" height="17.5" fill="#000"/>
<rect x="1268.6" y="208.2" width="17.5" height="17.5" fill="#000"/>
<rect x="1270" y="208" width="17.5" height="17.5" fill="#000"/>
<rect x="1270.8" y="208.6" width="17.5" height="17.5" fill="#000"/>
<rect x="1271" y="206.3" width="17.5" height="17.5" fill="#000"/>
<rect x="1271.3" y="208.5" width="17.5" height="17.5" fill="#000"/>
<rect x="1273.1" y="208.5" width="17.5" height="17.5" fill="#000"/>
<rect x="1273" y="209" width="17.5" height="17.5" fill="#000"/>
<rect x="1274.3" y="206.8" width="17.5" height="17.5" fill="#000"/>
<rect x="1276.8" y="207.1" width="17.5" height="17.5" fill="#000"/>
<rect x="1276.5" y="207.6" width="17.5" height="17.5" fill="#000"/>
<rect x="1277.4" y="208.5" width="17.5" height="17.5" fill="#000"/>
<rect x="1279.8" y="209.2" width="17.5" height="17.5" fill="#000"/>
<rect x="1281.5" y="208.7" width="17.5" height="17.5" fill="#000"/>
<rect x="1281.7" y="207.9" width="17.5" height="17.5" fill="#000"/>
<rect x="1281.5" y="207.7" width="17.5" height="17.5" fill="#000"/>
<rect x="1284" y="209.7" width="17.5" height="17.5" fill="#000"/>
<rect x="1285.5" y="210.3" width="17.5" height="17.5" fill="#000"/>
<rect x="1287" y="209.5" width="17.5" height="17.5" fill="#000"/>
<rect x="1286.4" y="209.1" width="17.5" height="17.5" fill="#000"/>
<rect x="1287.7" y="211.1" width="17.5" height="17.5" fill="#000"/>
<rect x="1289.5" y="211.7" width="17.5" height="17.5" fill="#000"/>
<rect x="1290.8" y="211.2" width="17.5" height="17.5" fill="#000"/>
<rect x="1291.3" y="209.1" width="17.5" height="17.5" fill="#000"/>
<rect x="1292.3" y="210.3" width="17.5" height="17.5" fill="#000"/>
<rect x="1292.6" y="212.5" width="17.5" height="17.5" fill="#000"/>
<rect x="1292.9" y="212.2" width="17.5" height="17.5" fill="#000"/>
<rect x="1295.5" y="211.5" width="17.5" height="17.5" fill="#000"/>
<rect x="1296.3" y="210.3" width="17.5" height="17.5" fill="#000"/>
<rect x="1296.3" y="212.5" width="17.5" height="17.5" fill="#000"/>
<rect x="1298.7" y="213.3" width="17.5" height="17.5" fill="#000"/>
<rect x="1298.1" y="212.5" width="17.5" height="17.5" fill="#000"/>
<rect x="1299.4" y="212.6" width="17.5" height="17.5" fill="#000"/>
<rect x="1300.8" y="212.1" width="17.5" height="17.5" fill="#000"/>
<rect x="1302.8" y="213.5" width="17.5" height="17.5" fill="#000"/>
<rect x="1303.9" y="212.8" width="17.5" height="17.5" fill="#000"/>
<rect x="1303.7" y="211.5" width="17.5" height="17.5" fill="#000"/>
<rect x="1305" y="214.2" width="17.5" height="17.5" fill="#000"/>
<rect x="1305.7" y="212.8" width="17.5" height="17.5" fill="#000"/>
<rect x="1308.8" y="212.5" width="17.5" height="17.5" fill="#000"/>
<rect x="1308.6" y="214.2" width="17.5" height="17.5" fill="#000"/>
<rect x="1308.6" y="213.2" width="17.5" height="17.5" fill="#000"/>
<rect x="1311.1" y="214.3" width="17.5" height="17.5" fill="#000"/>
<rect x="1312.4" y="214.1" width="17.5" height="17.5" fill="#000"/>
<rect x="1314.2" y="213.4" width="17.5" height="17.5" fill="#000"/>
<rect x="1313.4" y="213" width="17.5" height="17.5" fill="#000"/>
<rect x="1313.9" y="214.3" width="17.5" height="17.5" fill="#000"/>
<rect x="1315.9" y="215.3" width="17.5" height="17.5" fill="#000"/>
<rect x="1316.1" y="213.8" width="17.5" height="17.5" fill="#000"/>
<rect x="1317" y="214.6" width="17.5" height="17.5" fill="#000"/>
<rect x="1320.5" y="216.1" width="17.5" height="17.5" fill="#000"/>
<rect x="1319.6" y="214.8" width="17.5" height="17.5" fill="#000"/>
<rect x="1321.5" y="214.8" width="17.5" height="17.5" fill="#000"/>
<rect x="1323.3" y="216.4" width="17.5" height="17.5" fill="#000"/>
<rect x="1323" y="216.2" width="17.5" height="17.5" fill="#000"/>
<rect x="1323.4" y="214.5" width="17.5" height="17.5" fill="#000"/>
<rect x="1326.4" y="215.1" width="17.5" height="17.5" fill="#000"/>
<rect x="1325.4" y="214.9" width="17.5" height="17.5" fill="#000"/>
<rect x="1328.4" y="216.2" width="17.5" height="17.5" fill="#000"/>
<rect x="1329.4" y="216.4" width="17.5" height="17.5" fill="#000"/>
<rect x="1329.1" y="217.6" width="17.5" height="17.5" fill="#000"/>
<rect x="1330.2" y="218" width="17.5" height="17.5" fill="#000"/>
<rect x="1331.5" y="215.9" width="17.5" height="17.5" fill="#000"/>
<rect x="1333.5" y="215.7" width="17.5" height="17.5" fill="#000"/>
<rect x="1334.6" y="217.7" width="17.5" height="17.5" fill="#000"/>
<rect x="1335.2" y="217.3" width="17.5" height="17.5" fill="#000"/>
<rect x="1336.9" y="217.2" width="17.5" height="17.5" fill="#000"/>
<rect x="1336.6" y="217" width="17.5" height="17.5" fill="#000"/>
<rect x="1339.5" y="218.4" width="17.5" height="17.5" fill="#000"/>
<rect x="1340.3" y="219.2" width="17.5" height="17.5" fill="#000"/>
<rect x="1339.7" y="218.7" width="17.5" height="17.5" fill="#000"/>
<rect x="1342" y="216.6" width="17.5" height="17.5" fill="#000"/>
<rect x="1343.1" y="218.7" width="17.5" height="17.5" fill="#000"/>
<rect x="1344.5" y="218.8" width="17.5" height="17.5" fill="#000"/>
<rect x="1343.8" y="217.1" width="17.5" height="17.5" fill="#000"/>
<rect x="1345.9" y="218" width="17.5" height="17.5" fill="#000"/>
<rect x="1347.1" y="217.2" width="17.5" height="17.5" fill="#000"/>
<rect x="1347.6" y="217.8" width="17.5" height="17.5" fill="#000"/>
<rect x="1349.3" y="217.9" width="17.5" height="17.5" fill="#000"/>
<rect x="1349.6" y="218.4" width="17.5" height="17.5" fill="#000"/>
<rect x="1351" y="219.9" width="17.5" height="17.5" fill="#000"/>
<rect x="1351.1" y="219" width="17.5" height="17.5" fill="#000"/>
<rect x="1351.8" y="218.3" width="17.5" height="17.5" fill="#000"/>
<rect x="1353" y="221.2" width="17.5" height="17.5" fill="#000"/>
<rect x="1354" y="218.5" width="17.5" height="17.5" fill="#000"/>
<rect x="1355.7" y="221.1" width="17.5" height="17.5" fill="#000"/>
<rect x="1355.9" y="221.6" width="17.5" height="17.5" fill="#000"/>
<rect x="1358.7" y="219.9" width="17.5" height="17.5" fill="#000"/>
<rect x="1359.8" y="219.7" width="17.5" height="17.5" fill="#000"/>
<rect x="1359.1" y="220.3" width="17.5" height="17.5" fill="#000"/>
<rect x="1361" y="219.7" width="17.5" height="17.5" fill="#000"/>
<rect x="1363.2" y="219.7" width="17.5" height="17.5" fill="#000"/>
<rect x="1362.3" y="219.9" width="17.5" height="17.5" fill="#000"/>
<rect x="1365.6" y="219.8" width="17.5" height="17.5" fill="#000"/>
<rect x="1364.5" y="222.2" width="17.5" height="17.5" fill="#000"/>
<rect x="1365.6" y="222.9" width="17.5" height="17.5" fill="#000"/>
<rect x="1368.5" y="220.6" width="17.5" height="17.5" fill="#000"/>
<rect x="1369" y="220.7" width="17.5" height="17.5" fill="#000"/>
<rect x="1370.1" y="222.6" width="17.5" height="17.5" fill="#000"/>
<rect x="1369.7" y="223.3" width="17.5" height="17.5" fill="#000"/>
<rect x="1372.5" y="223.2" width="17.5" height="17.5" fill="#000"/>
<rect x="1372.4" y="222.7" width="17.5" height="17.5" fill="#000"/>
<rect x="1372.7" y="223.4" width="17.5" height="17.5" fill="#000"/>
<rect x="1374.4" y="222.1" width="17.5" height="17.5" fill="#000"/>
<rect x="1375.7" y="223.5" width="17.5" height="17.5" fill="#000"/>
<rect x="1378.3" y="223.1" width="17.5" height="17.5" fill="#000"/>
<rect x="1379.1" y="223" width="17.5" height="17.5" fill="#000"/>
<rect x="1378" y="223.8" width="17.5" height="17.5" fill="#000"/>
<rect x="1380.1" y="222.8" width="17.5" height="17.5" fill="#000"/>
<rect x="1380.9" y="223.2" width="17.5" height="17.5" fill="#000"/>
<rect x="1382.4" y="224.9" width="17.5" height="17.5" fill="#000"/>
<rect x="1384.3" y="225.5" width="17.5" height="17.5" fill="#000"/>
<rect x="1385.3" y="225.4" width="17.5" height="17.5" fill="#000"/>
<rect x="1384.2" y="225.5" width="17.5" height="17.5" fill="#000"/>
<rect x="1387.2" y="223.2" width="17.5" height="17.5" fill="#000"/>
<rect x="1386.3" y="224.9" width="17.5" height="17.5" fill="#000"/>
<rect x="1388.6" y="224.2" width="17.5" height="17.5" fill="#000"/>
<rect x="1388.9" y="225.3" width="17.5" height="17.5" fill="#000"/>
<rect x="1390.3" y="224.4" width="17.5" height="17.5" fill="#000"/>
<rect x="1391.2" y="224.2" width="17.5" height="17.5" fill="#000"/>
<rect x="1392.3" y="226.7" width="17.5" height="17.5" fill="#000"/>
<rect x="1394.4" y="226" width="17.5" height="17.5" fill="#000"/>
<rect x="1393.9" y="225.7" width="17.5" height="17.5" fill="#000"/>
<rect x="1394.9" y="225.4" width="17.5" height="17.5" fill="#000"/>
<rect x="1397.6" y="225.6" width="17.5" height="17.5" fill="#000"/>
<rect x="1398.4" y="227.1" width="17.5" height="17.5" fill="#000"/>
<rect x="1398.9" y="227.2" width="17.5" height="17.5" fill="#000"/>
<rect x="1401.2" y="228.3" width="17.5" height="17.5" fill="#000"/>
<rect x="1402.3" y="228.7" width="17.5" height="17.5" fill="#000"/>
<rect x="1401.5" y="228.1" width="17.5" height="17.5" fill="#000"/>
<rect x="1404.4" y="227.6" width="17.5" height="17.5" fill="#000"/>
<rect x="1404.1" y="226.5" width="17.5" height="17.5" fill="#000"/>
<rect x="1404.7" y="228" width="17.5" height="17.5" fill="#000"/>
<rect x="1406.6" y="227.3" width="17.5" height="17.5" fill="#000"/>
<rect x="1408.2" y="227.8" width="17.5" height="17.5" fill="#000"/>
<rect x="1408.2" y="229" width="17.5" height="17.5" fill="#000"/>
<rect x="1408.7" y="227.5" width="17.5" height="17.5" fill="#000"/>
<rect x="1411.1" y="228" width="17.5" height="17.5" fill="#000"/>
<rect x="1410.9" y="229.2" width="17.5" height="17.5" fill="#000"/>
<rect x="1413.5" y="228.9" width="17.5" height="17.5" fill="#000"/>
<rect x="1412.9" y="229.4" width="17.5" height="17.5" fill="#000"/>
<rect x="1415.9" y="230.3" width="17.5" height="17.5" fill="#000"/>
<rect x="1415.1" y="230.3" width="17.5" height="17.5" fill="#000"/>
<rect x="1417.5" y="228.8" width="17.5" height="17.5" fill="#000"/>
<rect x="1417.1" y="231.1" width="17.5" height="17.5" fill="#000"/>
<rect x="1418.4" y="230.7" width="17.5" height="17.5" fill="#000"/>
<rect x="1420.2" y="231.4" width="17.5" height="17.5" fill="#000"/>
<rect x="1420.7" y="231.5" width="17.5" height="17.5" fill="#000"/>
<rect x="1423.5" y="230" width="17.5" height="17.5" fill="#000"/>
<rect x="1422.2" y="229.5" width="17.5" height="17.5" fill="#000"/>
<rect x="1423.3" y="231.4" width="17.5" height="17.5" fill="#000"/>
<rect x="1426.7" y="230.3" width="17.5" height="17.5" fill="#000"/>
<rect x="1427" y="231.6" width="17.5" height="17.5" fill="#000"/>
<rect x="1426.7" y="231.2" width="17.5" height="17.5" fill="#000"/>
<rect x="1427.5" y="232.7" width="17.5" height="17.5" fill="#000"/>
<rect x="1429.3" y="233.4" width="17.5" height="17.5" fill="#000"/>
<rect x="1430.4" y="231.2" width="17.5" height="17.5" fill="#000"/>
<rect x="1431.8" y="232.2" width="17.5" height="17.5" fill="#000"/>
<rect x="1433" y="232.8" width="17.5" height="17.5" fill="#000"/>
<rect x="1432.5" y="232.5" width="17.5" height="17.5" fill="#000"/>
<rect x="1435.2" y="232.3" width="17.5" height="17.5" fill="#000"/>
<rect x="1437.3" y="233.4" width="17.5" height="17.5" fill="#000"/>
<rect x="1437.2" y="232.5" width="17.5" height="17.5" fill="#000"/>
<rect x="1437.6" y="234.2" width="17.5" height="17.5" fill="#000"/>
<rect x="1439.1" y="232.3" width="17.5" height="17.5" fill="#000"/>
<rect x="1441.3" y="233.3" width="17.5" height="17.5" fill="#000"/>
<rect x="1442.3" y="233.5" width="17.5" height="17.5" fill="#000"/>
<rect x="1442.5" y="234.4" width="17.5" height="17.5" fill="#000"/>
<rect x="1442.3" y="234" width="17.5" height="17.5" fill="#000"/>
<rect x="1442.5" y="234.8" width="17.5" height="17.5" fill="#000"/>
<rect x="1445.1" y="234.1" width="17.5" height="17.5" fill="#000"/>
<rect x="1445.4" y="235.7" width="17.5" height="17.5" fill="#000"/>
<rect x="1445.6" y="235.2" width="17.5" height="17.5" fill="#000"/>
<rect x="1446.9" y="235.5" width="17.5" height="17.5" fill="#000"/>
<rect x="1449.1" y="234.3" width="17.5" height="17.5" fill="#000"/>
<rect x="1448.6" y="235.3" width="17.5" height="17.5" fill="#000"/>
<rect x="1450.9" y="236.3" width="17.5" height="17.5" fill="#000"/>
<rect x="1452.3" y="234.9" width="17.5" height="17.5" fill="#000"/>
<rect x="1451.8" y="236.5" width="17.5" height="17.5" fill="#000"/>
<rect x="1454.3" y="236.2" width="17.5" height="17.5" fill="#000"/>
<rect x="1457.1" y="237.1" width="17.5" height="17.5" fill="#000"/>
<rect x="1457" y="237.4" width="17.5" height="17.5" fill="#000"/>
<rect x="1458.9" y="237.1" width="17.5" height="17.5" fill="#000"/>
<rect x="1461" y="237.8" width="17.5" height="17.5" fill="#000"/>
<rect x="1463.9" y="238.6" width="17.5" height="17.5" fill="#000"/>
<rect x="1463.5" y="237.4" width="17.5" height="17.5" fill="#000"/>
<rect x="1463.7" y="238.4" width="17.5" height="17.5" fill="#000"/>
<rect x="1465" y="238.3" width="17.5" height="17.5" fill="#000"/>
<rect x="1466.3" y="238.1" width="17.5" height="17.5" fill="#000"/>
<rect x="1467.7" y="241.1" width="17.5" height="17.5" fill="#000"/>
<rect x="1468.2" y="240.2" width="17.5" height="17.5" fill="#000"/>
<rect x="1468.3" y="240.3" width="17.5" height="17.5" fill="#000"/>
<rect x="1470.1" y="239.6" width="17.5" height="17.5" fill="#000"/>
<rect x="1470.7" y="241.1" width="17.5" height="17.5" fill="#000"/>
<rect x="1471.1" y="239.7" width="17.5" height="17.5" fill="#000"/>
<rect x="1473.8" y="240.6" width="17.5" height="17.5" fill="#000"/>
<rect x="1472.6" y="239.9" width="17.5" height="17.5" fill="#000"/>
<rect x="1475.2" y="242.1" width="17.5" height="17.5" fill="#000"/>
<rect x="1475.3" y="240.5" width="17.5" height="17.5" fill="#000"/>
<rect x="1479.2" y="241.4" width="17.5" height="17.5" fill="#000"/>
<rect x="1480.4" y="242.1" width="17.5" height="17.5" fill="#000"/>
<rect x="1481.9" y="241.2" width="17.5" height="17.5" fill="#000"/>
<rect x="1483" y="242.4" width="17.5" height="17.5" fill="#000"/>
<rect x="1485" y="242" width="17.5" height="17.5" fill="#000"/>
<rect x="1486.1" y="244.2" width="17.5" height="17.5" fill="#000"/>
<rect x="1488.4" y="245.3" width="17.5" height="17.5" fill="#000"/>
<rect x="1491.2" y="245.1" width="17.5" height="17.5" fill="#000"/>
<rect x="1492" y="245.6" width="17.5" height="17.5" fill="#000"/>
<rect x="1491.5" y="245.8" width="17.5" height="17.5" fill="#000"/>
<rect x="1492.4" y="246.2" width="17.5" height="17.5" fill="#000"/>
<rect x="1493.4" y="245.1" width="17.5" height="17.5" fill="#000"/>
<rect x="1494.9" y="246.8" width="17.5" height="17.5" fill="#000"/>
<rect x="1495.7" y="246.2" width="17.5" height="17.5" fill="#000"/>
<rect x="1496.8" y="245.9" width="17.5" height="17.5" fill="#000"/>
<rect x="1499.5" y="247.3" width="17.5" height="17.5" fill="#000"/>
<rect x="1502.3" y="246.3" width="17.5" height="17.5" fill="#000"/>
<rect x="1500.8" y="246.6" width="17.5" height="17.5" fill="#000"/>
<rect x="1505.1" y="247.3" width="17.5" height="17.5" fill="#000"/>
<rect x="1503.9" y="247.3" width="17.5" height="17.5" fill="#000"/>
<rect x="1506" y="250.1" width="17.5" height="17.5" fill="#000"/>
<rect x="1505.1" y="247.3" width="17.5" height="17.5" fill="#000"/>
<rect x="1507.6" y="249.7" width="17.5" height="17.5" fill="#000"/>
<rect x="1508.2" y="250.4" width="17.5" height="17.5" fill="#000"/>
<rect x="1509.3" y="248.6" width="17.5" height="17.5" fill="#000"/>
<rect x="1510.3" y="250.7" width="17.5" height="17.5" fill="#000"/>
<rect x="1512.5" y="248.8" width="17.5" height="17.5" fill="#000"/>
<rect x="1511.3" y="248.6" width="17.5" height="17.5" fill="#000"/>
<rect x="1513.2" y="249.1" width="17.5" height="17.5" fill="#000"/>
<rect x="1515.5" y="249.1" width="17.5" height="17.5" fill="#000"/>
<rect x="1517.9" y="249.6" width="17.5" height="17.5" fill="#000"/>
<rect x="1517.1" y="250.3" width="17.5" height="17.5" fill="#000"/>
<rect x="1520.1" y="250.5" width="17.5" height="17.5" fill="#000"/>
<rect x="1520.6" y="250.1" width="17.5" height="17.5" fill="#000"/>
<rect x="1521.6" y="252.3" width="17.5" height="17.5" fill="#000"/>
<rect x="1521.6" y="252.9" width="17.5" height="17.5" fill="#000"/>
<rect x="1523" y="253.3" width="17.5" height="17.5" fill="#000"/>
<rect x="1523.7" y="253.1" width="17.5" height="17.5" fill="#000"/>
<rect x="1524.5" y="252.1" width="17.5" height="17.5" fill="#000"/>
<rect x="1525.4" y="251" width="17.5" height="17.5" fill="#000"/>
<rect x="1524.8" y="251.2" width="17.5" height="17.5" fill="#000"/>
<rect x="1526.7" y="252.3" width="17.5" height="17.5" fill="#000"/>
<rect x="1529.4" y="251.7" width="17.5" height="17.5" fill="#000"/>
<rect x="1529.4" y="253.3" width="17.5" height="17.5" fill="#000"/>
<rect x="1533.1" y="254.9" width="17.5" height="17.5" fill="#000"/>
<rect x="1534.3" y="252.9" width="17.5" height="17.5" fill="#000"/>
<rect x="1533.4" y="253" width="17.5" height="17.5" fill="#000"/>
<rect x="1535.9" y="251.8" width="17.5" height="17.5" fill="#000"/>
<rect x="1535.7" y="251.6" width="17.5" height="17.5" fill="#000"/>
<rect x="1537" y="253.3" width="17.5" height="17.5" fill="#000"/>
<rect x="1538.7" y="254.9" width="17.5" height="17.5" fill="#000"/>
<rect x="1539" y="252.8" width="17.5" height="17.5" fill="#000"/>
<rect x="1538.8" y="251.9" width="17.5" height="17.5" fill="#000"/>
<rect x="1541" y="253.2" width="17.5" height="17.5" fill="#000"/>
<rect x="1542.1" y="252.1" width="17.5" height="17.5" fill="#000"/>
<rect x="1542.1" y="253.3" width="17.5" height="17.5" fill="#000"/>
<rect x="1543.4" y="252.9" width="17.5" height="17.5" fill="#000"/>
<rect x="1545.2" y="253.8" width="17.5" height="17.5" fill="#000"/>
<rect x="1546" y="253.4" width="17.5" height="17.5" fill="#000"/>
<rect x="1547.2" y="254.2" width="17.5" height="17.5" fill="#000"/>
<rect x="1548" y="251.8" width="17.5" height="17.5" fill="#000"/>
<rect x="1549.1" y="252.6" width="17.5" height="17.5" fill="#000"/>
<rect x="1549" y="254.4" width="17.5" height="17.5" fill="#000"/>
<rect x="1549.7" y="253.6" width="17.5" height="17.5" fill="#000"/>
<rect x="1551.3" y="252.9" width="17.5" height="17.5" fill="#000"/>
<rect x="1550.5" y="253.3" width="17.5" height="17.5" fill="#000"/>
<rect x="1553.5" y="254.1" width="17.5" height="17.5" fill="#000"/>
<rect x="1552.1" y="255.1" width="17.5" height="17.5" fill="#000"/>
<rect x="1552.7" y="255.6" width="17.5" height="17.5" fill="#000"/>
<rect x="1555.9" y="254.2" width="17.5" height="17.5" fill="#000"/>
<rect x="1555.9" y="253.6" width="17.5" height="17.5" fill="#000"/>
<rect x="1557.4" y="254.4" width="17.5" height="17.5" fill="#000"/>
<rect x="1557.3" y="254.5" width="17.5" height="17.5" fill="#000"/>
<rect x="1558.3" y="254.7" width="17.5" height="17.5" fill="#000"/>
<rect x="1559" y="256.3" width="17.5" height="17.5" fill="#000"/>
<rect x="1559.7" y="255.6" width="17.5" height="17.5" fill="#000"/>
<rect x="1560.7" y="257.1" width="17.5" height="17.5" fill="#000"/>
<rect x="1559.9" y="257.5" width="17.5" height="17.5" fill="#000"/>
<rect x="1563.6" y="254.5" width="17.5" height="17.5" fill="#000"/>
<rect x="1564" y="256.8" width="17.5" height="17.5" fill="#000"/>
<rect x="1565.2" y="255.4" width="17.5" height="17.5" fill="#000"/>
<rect x="1565.3" y="257.6" width="17.5" height="17.5" fill="#000"/>
<rect x="1565.3" y="257.1" width="17.5" height="17.5" fill="#000"/>
<rect x="1566.1" y="257.2" width="17.5" height="17.5" fill="#000"/>
<rect x="1567.7" y="255.4" width="17.5" height="17.5" fill="#000"/>
<rect x="1566.9" y="257" width="17.5" height="17.5" fill="#000"/>
<rect x="1567.6" y="258.9" width="17.5" height="17.5" fill="#000"/>
<rect x="1570.4" y="257.3" width="17.5" height="17.5" fill="#000"/>
<rect x="1571.5" y="257.9" width="17.5" height="17.5" fill="#000"/>
<rect x="1569.8" y="258.3" width="17.5" height="17.5" fill="#000"/>
<rect x="1572.1" y="256.3" width="17.5" height="17.5" fill="#000"/>
<rect x="1573.9" y="258.3" width="17.5" height="17.5" fill="#000"/>
<rect x="1573.2" y="259.9" width="17.5" height="17.5" fill="#000"/>
<rect x="1574.5" y="259.7" width="17.5" height="17.5" fill="#000"/>
<rect x="1574" y="260.6" width="17.5" height="17.5" fill="#000"/>
<rect x="1575.7" y="258.4" width="17.5" height="17.5" fill="#000"/>
<rect x="1576.8" y="257.4" width="17.5" height="17.5" fill="#000"/>
<rect x="1577.5" y="257.9" width="17.5" height="17.5" fill="#000"/>
<rect x="1578.3" y="261.5" width="17.5" height="17.5" fill="#000"/>
<rect x="1580.7" y="260.8" width="17.5" height="17.5" fill="#000"/>
<rect x="1581.5" y="261.2" width="17.5" height="17.5" fill="#000"/>
<rect x="1580.4" y="258.9" width="17.5" height="17.5" fill="#000"/>
<rect x="1582.9" y="258.7" width="17.5" height="17.5" fill="#000"/>
<rect x="1585.1" y="262.4" width="17.5" height="17.5" fill="#000"/>
<rect x="1585.6" y="260" width="17.5" height="17.5" fill="#000"/>
<rect x="1587.2" y="259.7" width="17.5" height="17.5" fill="#000"/>
<rect x="1587.4" y="259.8" width="17.5" height="17.5" fill="#000"/>
<rect x="1589.4" y="264.1" width="17.5" height="17.5" fill="#000"/>
<rect x="1588.3" y="261.6" width="17.5" height="17.5" fill="#000"/>
<rect x="1592.5" y="264.7" width="17.5" height="17.5" fill="#000"/>
<rect x="1591.9" y="262.2" width="17.5" height="17.5" fill="#000"/>
<rect x="1592.3" y="261.9" width="17.5" height="17.5" fill="#000"/>
<rect x="1593.9" y="265.6" width="17.5" height="17.5" fill="#000"/>
<rect x="1594.3" y="263.6" width="17.5" height="17.5" fill="#000"/>
<rect x="1595.3" y="263.4" width="17.5" height="17.5" fill="#000"/>
<rect x="1596.6" y="263.6" width="17.5" height="17.5" fill="#000"/>
<rect x="1599.3" y="264.9" width="17.5" height="17.5" fill="#000"/>
<rect x="1600.8" y="266.1" width="17.5" height="17.5" fill="#000"/>
<rect x="1600.9" y="264.8" width="17.5" height="17.5" fill="#000"/>
<rect x="1604.5" y="265.4" width="17.5" height="17.5" fill="#000"/>
<rect x="1604.2" y="267.8" width="17.5" height="17.5" fill="#000"/>
<rect x="1605" y="265.8" width="17.5" height="17.5" fill="#000"/>
<rect x="1607.5" y="266.9" width="17.5" height="17.5" fill="#000"/>
<rect x="1607.3" y="268.4" width="17.5" height="17.5" fill="#000"/>
<rect x="1609.7" y="267.9" width="17.5" height="17.5" fill="#000"/>
<rect x="1610.8" y="271.7" width="17.5" height="17.5" fill="#000"/>
<rect x="1611.1" y="269.7" width="17.5" height="17.5" fill="#000"/>
<rect x="1611.7" y="271.1" width="17.5" height="17.5" fill="#000"/>
<rect x="1613.1" y="270.6" width="17.5" height="17.5" fill="#000"/>
<rect x="1614.4" y="273.7" width="17.5" height="17.5" fill="#000"/>
<rect x="1613" y="274.1" width="17.5" height="17.5" fill="#000"/>
<rect x="1616.2" y="273.5" width="17.5" height="17.5" fill="#000"/>
<rect x="1617.9" y="272.4" width="17.5" height="17.5" fill="#000"/>
<rect x="1616.7" y="273" width="17.5" height="17.5" fill="#000"/>
<rect x="1620.8" y="273.6" width="17.5" height="17.5" fill="#000"/>
<rect x="1622.2" y="277.2" width="17.5" height="17.5" fill="#000"/>
<rect x="1625" y="275.6" width="17.5" height="17.5" fill="#000"/>
<rect x="1625.4" y="275.4" width="17.5" height="17.5" fill="#000"/>
<rect x="1626.6" y="280.2" width="17.5" height="17.5" fill="#000"/>
<rect x="1629.2" y="277.7" width="17.5" height="17.5" fill="#000"/>
<rect x="1629" y="278.2" width="17.5" height="17.5" fill="#000"/>
<rect x="1631.7" y="281" width="17.5" height="17.5" fill="#000"/>
<rect x="1633" y="279.7" width="17.5" height="17.5" fill="#000"/>
<rect x="1633.4" y="282.3" width="17.5" height="17.5" fill="#000"/>
<rect x="1633.6" y="280" width="17.5" height="17.5" fill="#000"/>
<rect x="1635.8" y="281.7" width="17.5" height="17.5" fill="#000"/>
<rect x="1634.7" y="280.4" width="17.5" height="17.5" fill="#000"/>
<rect x="1637.2" y="283.4" width="17.5" height="17.5" fill="#000"/>
<rect x="1637.5" y="280.5" width="17.5" height="17.5" fill="#000"/>
<rect x="1639.1" y="282.6" width="17.5" height="17.5" fill="#000"/>
<rect x="1638.8" y="282.6" width="17.5" height="17.5" fill="#000"/>
<rect x="1640.1" y="285.4" width="17.5" height="17.5" fill="#000"/>
<rect x="1640.9" y="283.2" width="17.5" height="17.5" fill="#000"/>
<rect x="1643.4" y="284.7" width="17.5" height="17.5" fill="#000"/>
<rect x="1644.3" y="285.2" width="17.5" height="17.5" fill="#000"/>
<rect x="1645.7" y="288.3" width="17.5" height="17.5" fill="#000"/>
<rect x="1650" y="287.4" width="17.5" height="17.5" fill="#000"/>
<rect x="1649.7" y="286.9" width="17.5" height="17.5" fill="#000"/>
<rect x="1652.3" y="289.6" width="17.5" height="17.5" fill="#000"/>
<rect x="1652.5" y="288.9" width="17.5" height="17.5" fill="#000"/>
<rect x="1653.1" y="290.8" width="17.5" height="17.5" fill="#000"/>
<rect x="1652.5" y="286.2" width="17.5" height="17.5" fill="#000"/>
<rect x="1655.5" y="289" width="17.5" height="17.5" fill="#000"/>
<rect x="1655.4" y="290.4" width="17.5" height="17.5" fill="#000"/>
<rect x="1656.8" y="289.9" width="17.5" height="17.5" fill="#000"/>
<rect x="1657.9" y="288.4" width="17.5" height="17.5" fill="#000"/>
<rect x="1659.7" y="288.2" width="17.5" height="17.5" fill="#000"/>
<rect x="1659" y="293.2" width="17.5" height="17.5" fill="#000"/>
<rect x="1659.6" y="292.7" width="17.5" height="17.5" fill="#000"/>
<rect x="1660.1" y="293.7" width="17.5" height="17.5" fill="#000"/>
<rect x="1663.4" y="290.2" width="17.5" height="17.5" fill="#000"/>
<rect x="1663.9" y="290.1" width="17.5" height="17.5" fill="#000"/>
<rect x="1667.2" y="295.5" width="17.5" height="17.5" fill="#000"/>
<rect x="1667.2" y="294" width="17.5" height="17.5" fill="#000"/>
<rect x="1666.7" y="291.4" width="17.5" height="17.5" fill="#000"/>
<rect x="1667.8" y="293.7" width="17.5" height="17.5" fill="#000"/>
<rect x="1671" y="292.4" width="17.5" height="17.5" fill="#000"/>
<rect x="1671.8" y="295.6" width="17.5" height="17.5" fill="#000"/>
<rect x="1673.3" y="297.9" width="17.5" height="17.5" fill="#000"/>
<rect x="1676.8" y="294.5" width="17.5" height="17.5" fill="#000"/>
<rect x="1676.9" y="300.6" width="17.5" height="17.5" fill="#000"/>
<rect x="1679.1" y="300" width="17.5" height="17.5" fill="#000"/>
<rect x="1681.5" y="297.4" width="17.5" height="17.5" fill="#000"/>
<rect x="1682.1" y="302.4" width="17.5" height="17.5" fill="#000"/>
<rect x="1684.1" y="299.8" width="17.5" height="17.5" fill="#000"/>
<rect x="1684.5" y="298.7" width="17.5" height="17.5" fill="#000"/>
<rect x="1683.7" y="303.7" width="17.5" height="17.5" fill="#000"/>
<rect x="1686.3" y="299.7" width="17.5" height="17.5" fill="#000"/>
<rect x="1686.8" y="303.6" width="17.5" height="17.5" fill="#000"/>
<rect x="1687.4" y="301.4" width="17.5" height="17.5" fill="#000"/>
<rect x="1686.9" y="304.2" width="17.5" height="17.5" fill="#000"/>
<rect x="1688" y="305.7" width="17.5" height="17.5" fill="#000"/>
<rect x="1689.4" y="305.8" width="17.5" height="17.5" fill="#000"/>
<rect x="1689.5" y="306.2" width="17.5" height="17.5" fill="#000"/>
<rect x="1691.4" y="307.1" width="17.5" height="17.5" fill="#000"/>
<rect x="1692.3" y="306.3" width="17.5" height="17.5" fill="#000"/>
<rect x="1691.2" y="302.5" width="17.5" height="17.5" fill="#000"/>
<rect x="1693.8" y="303" width="17.5" height="17.5" fill="#000"/>
<rect x="1697.6" y="303.8" width="17.5" height="17.5" fill="#000"/>
<rect x="1696.4" y="306.4" width="17.5" height="17.5" fill="#000"/>
<rect x="1697.1" y="304" width="17.5" height="17.5" fill="#000"/>
<rect x="1699.8" y="305.8" width="17.5" height="17.5" fill="#000"/>
<rect x="1699.5" y="307.7" width="17.5" height="17.5" fill="#000"/>
<rect x="1701.3" y="307.1" width="17.5" height="17.5" fill="#000"/>
<rect x="1701.5" y="309.2" width="17.5" height="17.5" fill="#000"/>
<rect x="1701.2" y="309.9" width="17.5" height="17.5" fill="#000"/>
<rect x="1703.3" y="307.3" width="17.5" height="17.5" fill="#000"/>
<rect x="1702.5" y="305.8" width="17.5" height="17.5" fill="#000"/>
<rect x="1703.6" y="308.7" width="17.5" height="17.5" fill="#000"/>
<rect x="1704.1" y="309.8" width="17.5" height="17.5" fill="#000"/>
<rect x="1706.6" y="309.7" width="17.5" height="17.5" fill="#000"/>
<rect x="1705.6" y="309.1" width="17.5" height="17.5" fill="#000"/>
<rect x="1706.7" y="307" width="17.5" height="17.5" fill="#000"/>
<rect x="1707" y="306.9" width="17.5" height="17.5" fill="#000"/>
<rect x="1707.6" y="307.7" width="17.5" height="17.5" fill="#000"/>
<rect x="1709.9" y="311.9" width="17.5" height="17.5" fill="#000"/>
<rect x="1710.2" y="311.8" width="17.5" height="17.5" fill="#000"/>
<rect x="1711.7" y="313.1" width="17.5" height="17.5" fill="#000"/>
<rect x="1712.7" y="308.8" width="17.5" height="17.5" fill="#000"/>
<rect x="1716.5" y="310" width="17.5" height="17.5" fill="#000"/>
<rect x="1714.9" y="314" width="17.5" height="17.5" fill="#000"/>
<rect x="1717.8" y="315.7" width="17.5" height="17.5" fill="#000"/>
<rect x="1718.1" y="314.6" width="17.5" height="17.5" fill="#000"/>
<rect x="1719.5" y="316.5" width="17.5" height="17.5" fill="#000"/>
<rect x="1719.8" y="314.9" width="17.5" height="17.5" fill="#000"/>
<rect x="1718.8" y="317.2" width="17.5" height="17.5" fill="#000"/>
<rect x="1721.4" y="314.5" width="17.5" height="17.5" fill="#000"/>
<rect x="1720.4" y="315.3" width="17.5" height="17.5" fill="#000"/>
<rect x="1723.1" y="316.9" width="17.5" height="17.5" fill="#000"/>
<rect x="1723" y="317.7" width="17.5" height="17.5" fill="#000"/>
<rect x="1722.7" y="314.3" width="17.5" height="17.5" fill="#000"/>
<rect x="1724.8" y="318" width="17.5" height="17.5" fill="#000"/>
<rect x="1723.9" y="318.9" width="17.5" height="17.5" fill="#000"/>
<rect x="1726.1" y="316.8" width="17.5" height="17.5" fill="#000"/>
<rect x="1725.9" y="318.8" width="17.5" height="17.5"/>
<rect x="1727.1" y="311.9" width="17.5" height="17.5"/>
<rect x="1729.7" y="308.8" width="17.5" height="17.5" fill="#000"/>
<rect x="1728.9" y="311.6" width="17.5" height="17.5" fill="#000"/>
<rect x="1732.4" y="308.6" width="17.5" height="17.5" fill="#000"/>
<rect x="1734.5" y="310.3" width="17.5" height="17.5" fill="#000"/>
<rect x="1735.5" y="308.6" width="17.5" height="17.5" fill="#000"/>
<rect x="1736.3" y="305.3" width="17.5" height="17.5" fill="#000"/>
<rect x="1736.1" y="310.5" width="17.5" height="17.5" fill="#000"/>
<rect x="1739.3" y="307.8" width="17.5" height="17.5" fill="#000"/>
<rect x="1740" y="309.5" width="17.5" height="17.5" fill="#000"/>
<rect x="1740.3" y="307.1" width="17.5" height="17.5" fill="#000"/>
<rect x="1742.9" y="312.4" width="17.5" height="17.5" fill="#000"/>
<rect x="1743.6" y="310.2" width="17.5" height="17.5" fill="#000"/>
<rect x="1743.4" y="311.1" width="17.5" height="17.5" fill="#000"/>
<rect x="1745.3" y="311.6" width="17.5" height="17.5" fill="#000"/>
<rect x="1745.2" y="310.9" width="17.5" height="17.5" fill="#000"/>
<rect x="1747.8" y="310.4" width="17.5" height="17.5" fill="#000"/>
<rect x="1747.3" y="311.8" width="17.5" height="17.5" fill="#000"/>
<rect x="1748.2" y="312" width="17.5" height="17.5" fill="#000"/>
<rect x="1748.1" y="311.8" width="17.5" height="17.5" fill="#000"/>
<rect x="1751.2" y="314.6" width="17.5" height="17.5" fill="#000"/>
<rect x="1750.8" y="314.8" width="17.5" height="17.5" fill="#000"/>
<rect x="1751.6" y="318.5" width="17.5" height="17.5" fill="#000"/>
<rect x="1754.8" y="318.5" width="17.5" height="17.5" fill="#000"/>
<rect x="1753.5" y="319.7" width="17.5" height="17.5" fill="#000"/>
<rect x="1754.4" y="315.7" width="17.5" height="17.5" fill="#000"/>
<rect x="1755.9" y="321.5" width="17.5" height="17.5" fill="#000"/>
<rect x="1758.5" y="321.4" width="17.5" height="17.5" fill="#000"/>
<rect x="1758.5" y="320.1" width="17.5" height="17.5" fill="#000"/>
<rect x="1761.1" y="321" width="17.5" height="17.5" fill="#000"/>
<rect x="1763.7" y="325" width="17.5" height="17.5" fill="#000"/>
<rect x="1766.4" y="322.5" width="17.5" height="17.5" fill="#000"/>
<rect x="1764" y="327" width="17.5" height="17.5" fill="#000"/>
<rect x="1767.8" y="326.2" width="17.5" height="17.5" fill="#000"/>
<rect x="1767.7" y="329.3" width="17.5" height="17.5" fill="#000"/>
<rect x="1769" y="329.8" width="17.5" height="17.5" fill="#000"/>
<rect x="1770.5" y="325.6" width="17.5" height="17.5" fill="#000"/>
<rect x="1769.3" y="328.1" width="17.5" height="17.5" fill="#000"/>
<rect x="1772.8" y="331.4" width="17.5" height="17.5" fill="#000"/>
<rect x="1773.9" y="326.9" width="17.5" height="17.5" fill="#000"/>
<rect x="1774" y="332" width="17.5" height="17.5" fill="#000"/>
<rect x="1777" y="331.9" width="17.5" height="17.5" fill="#000"/>
<rect x="1775.5" y="329.8" width="17.5" height="17.5" fill="#000"/>
<rect x="1778.2" y="334.4" width="17.5" height="17.5" fill="#000"/>
<rect x="1777.5" y="336.1" width="17.5" height="17.5" fill="#000"/>
<rect x="1779.3" y="332.4" width="17.5" height="17.5" fill="#000"/>
<rect x="1782.1" y="333.4" width="17.5" height="17.5" fill="#000"/>
<rect x="1783" y="334.5" width="17.5" height="17.5" fill="#000"/>
<rect x="1779.3" y="337.3" width="17.5" height="17.5" fill="#000"/>
<rect x="1785.4" y="335.1" width="17.5" height="17.5" fill="#000"/>
<rect x="1781.9" y="339.1" width="17.5" height="17.5" fill="#000"/>
<rect x="1785" y="340.1" width="17.5" height="17.5" fill="#000"/>
<rect x="1785.1" y="342.7" width="17.5" height="17.5" fill="#000"/>
<rect x="1785.3" y="340.4" width="17.5" height="17.5" fill="#000"/>
<rect x="1783.4" y="343.5" width="17.5" height="17.5" fill="#000"/>
<rect x="1790.2" y="339.8" width="17.5" height="17.5" fill="#000"/>
<rect x="1790.8" y="341.3" width="17.5" height="17.5" fill="#000"/>
<rect x="1792.1" y="341.3" width="17.5" height="17.5" fill="#000"/>
<rect x="1793.3" y="347.7" width="17.5" height="17.5" fill="#000"/>
<rect x="1792.5" y="346.7" width="17.5" height="17.5" fill="#000"/>
<rect x="1793.5" y="347.3" width="17.5" height="17.5" fill="#000"/>
<rect x="1793.4" y="343.5" width="17.5" height="17.5" fill="#000"/>
<rect x="1794.6" y="348.7" width="17.5" height="17.5" fill="#000"/>
<rect x="1794.7" y="348" width="17.5" height="17.5" fill="#000"/>
<rect x="1798.3" y="349.7" width="17.5" height="17.5" fill="#000"/>
<rect x="1794.8" y="347.8" width="17.5" height="17.5" fill="#000"/>
<rect x="1794.4" y="348.8" width="17.5" height="17.5" fill="#000"/>
<rect x="1802" y="351.2" width="17.5" height="17.5" fill="#000"/>
<rect x="1798.2" y="352.2" width="17.5" height="17.5" fill="#000"/>
<rect x="1800.7" y="355" width="17.5" height="17.5" fill="#000"/>
<rect x="1798.7" y="355.8" width="17.5" height="17.5" fill="#000"/>
<rect x="1802" y="355.7" width="17.5" height="17.5" fill="#000"/>
<rect x="1802.7" y="357.5" width="17.5" height="17.5" fill="#000"/>
<rect x="1802.1" y="356.1" width="17.5" height="17.5" fill="#000"/>
<rect x="1807.8" y="356.3" width="17.5" height="17.5" fill="#000"/>
<rect x="1806.8" y="356.7" width="17.5" height="17.5" fill="#000"/>
<rect x="1805.1" y="356.9" width="17.5" height="17.5" fill="#000"/>
<rect x="1807.6" y="358.7" width="17.5" height="17.5" fill="#000"/>
<rect x="1809.4" y="359.9" width="17.5" height="17.5" fill="#000"/>
<rect x="1808.1" y="362.2" width="17.5" height="17.5" fill="#000"/>
<rect x="1808.3" y="361" width="17.5" height="17.5" fill="#000"/>
<rect x="1810.1" y="361.1" width="17.5" height="17.5" fill="#000"/>
<rect x="1809.8" y="364.6" width="17.5" height="17.5" fill="#000"/>
<rect x="1816.1" y="366.1" width="17.5" height="17.5" fill="#000"/>
<rect x="1814.9" y="365" width="17.5" height="17.5" fill="#000"/>
<rect x="1813.8" y="362.3" width="17.5" height="17.5" fill="#000"/>
<rect x="1816" y="365.7" width="17.5" height="17.5" fill="#000"/>
<rect x="1815.9" y="371.3" width="17.5" height="17.5" fill="#000"/>
<rect x="1821.3" y="369.5" width="17.5" height="17.5" fill="#000"/>
<rect x="1816.7" y="370.5" width="17.5" height="17.5" fill="#000"/>
<rect x="1820" y="368.8" width="17.5" height="17.5" fill="#000"/>
<rect x="1818.5" y="373.1" width="17.5" height="17.5" fill="#000"/>
<rect x="1824.9" y="370.2" width="17.5" height="17.5" fill="#000"/>
<rect x="1820.4" y="373.7" width="17.5" height="17.5" fill="#000"/>
<rect x="1822.4" y="372.1" width="17.5" height="17.5" fill="#000"/>
<rect x="1824.9" y="371.6" width="17.5" height="17.5" fill="#000"/>
<rect x="1827" y="374.6" width="17.5" height="17.5" fill="#000"/>
<rect x="1827.2" y="373.7" width="17.5" height="17.5" fill="#000"/>
<rect x="1829.5" y="377.6" width="17.5" height="17.5" fill="#000"/>
<rect x="1830.4" y="376.7" width="17.5" height="17.5" fill="#000"/>
<rect x="1832" y="381.4" width="17.5" height="17.5" fill="#000"/>
<rect x="1832.5" y="383" width="17.5" height="17.5" fill="#000"/>
<rect x="1833.9" y="380.8" width="17.5" height="17.5" fill="#000"/>
<rect x="1834.2" y="380" width="17.5" height="17.5" fill="#000"/>
<rect x="1835.5" y="384.5" width="17.5" height="17.5" fill="#000"/>
<rect x="1837.6" y="382" width="17.5" height="17.5" fill="#000"/>
<rect x="1837.2" y="386.1" width="17.5" height="17.5" fill="#000"/>
<rect x="1838.3" y="387.4" width="17.5" height="17.5" fill="#000"/>
<rect x="1840.8" y="389.2" width="17.5" height="17.5" fill="#000"/>
<rect x="1839.4" y="388.1" width="17.5" height="17.5" fill="#000"/>
<rect x="1841.4" y="391.5" width="17.5" height="17.5" fill="#000"/>
<rect x="1844.8" y="388.5" width="17.5" height="17.5" fill="#000"/>
<rect x="1843.7" y="392" width="17.5" height="17.5" fill="#000"/>
<rect x="1842.4" y="393.7" width="17.5" height="17.5" fill="#000"/>
<rect x="1842.9" y="392.4" width="17.5" height="17.5" fill="#000"/>
<rect x="1846.5" y="396.5" width="17.5" height="17.5" fill="#000"/>
<rect x="1850.9" y="396.7" width="17.5" height="17.5" fill="#000"/>
<rect x="1852.5" y="394.8" width="17.5" height="17.5" fill="#000"/>
<rect x="1854" y="399.8" width="17.5" height="17.5" fill="#000"/>
<rect x="1851.2" y="395.5" width="17.5" height="17.5" fill="#000"/>
<rect x="1849.3" y="402.1" width="17.5" height="17.5" fill="#000"/>
<rect x="1853.7" y="399.6" width="17.5" height="17.5" fill="#000"/>
<rect x="1856.7" y="398.3" width="17.5" height="17.5" fill="#000"/>
<rect x="1856.3" y="398.4" width="17.5" height="17.5" fill="#000"/>
<rect x="1858.3" y="403.5" width="17.5" height="17.5" fill="#000"/>
<rect x="1860.2" y="405" width="17.5" height="17.5"/>
<rect x="1860.1" y="406.3" width="17.5" height="17.5" fill="#000"/>
<rect x="1860.8" y="405.3" width="17.5" height="17.5" fill="#000"/>
<rect x="1863.7" y="409.6" width="17.5" height="17.5" fill="#000"/>
<rect x="1860.7" y="412.1" width="17.5" height="17.5" fill="#000"/>
<rect x="1863.4" y="412.2" width="17.5" height="17.5" fill="#000"/>
<rect x="1865.3" y="411.4" width="17.5" height="17.5"/>
<rect x="1870" y="418.1" width="17.5" height="17.5" fill="#000"/>
<rect x="1867.3" y="418.6" width="17.5" height="17.5"/>
<rect x="1876.1" y="447.1" width="17.5" height="17.5"/>
<rect x="1876" y="448" width="17.5" height="17.5"/>
<rect x="1875.9" y="443.1" width="17.5" height="17.5"/>
<rect x="1875.9" y="437.6" width="17.5" height="17.5"/>
<rect x="1875.8" y="438.4" width="17.5" height="17.5"/>
<rect x="1875.7" y="433.8" width="17.5" height="17.5"/>
<rect x="1875.7" y="425.6" width="17.5" height="17.5"/>
<rect x="1875.6" y="423.1" width="17.5" height="17.5"/>
<rect x="1875.6" y="421.7" width="17.5" height="17.5"/>
<rect x="1875.5" y="421.3" width="17.5" height="17.5"/>
<rect x="1880.2" y="447.1" width="17.5" height="17.5" fill="#000"/>
<rect x="1880.5" y="446.8" width="17.5" height="17.5" fill="#000"/>
<rect x="1881.7" y="448.9" width="17.5" height="17.5" fill="#000"/>
<rect x="1877.6" y="450.2" width="17.5" height="17.5" fill="#000"/>
<rect x="1880.7" y="448.8" width="17.5" height="17.5" fill="#000"/>
<rect x="1880.6" y="450" width="17.5" height="17.5" fill="#000"/>
<rect x="1882.5" y="448.7" width="17.5" height="17.5" fill="#000"/>
<rect x="1883.9" y="449.5" width="17.5" height="17.5"/>
<rect x="1886.7" y="456.9" width="17.5" height="17.5" fill="#000"/>
<rect x="1886.9" y="455.8" width="17.5" height="17.5"/>
<rect x="1888.7" y="459.9" width="17.5" height="17.5" fill="#000"/>
<rect x="1888.6" y="462.4" width="17.5" height="17.5" fill="#000"/>
<rect x="1891.6" y="462.6" width="17.5" height="17.5" fill="#000"/>
<rect x="1891.9" y="465.2" width="17.5" height="17.5" fill="#000"/>
<rect x="1892.2" y="465.2" width="17.5" height="17.5" fill="#000"/>
<rect x="1892.4" y="466.1" width="17.5" height="17.5" fill="#000"/>
<rect x="1893.8" y="466" width="17.5" height="17.5"/>
<rect x="1896" y="470.7" width="17.5" height="17.5" fill="#000"/>
<rect x="1895.6" y="472.3" width="17.5" height="17.5" fill="#000"/>
<rect x="1898" y="473.2" width="17.5" height="17.5"/>
<rect x="1898.4" y="475.4" width="17.5" height="17.5" fill="#000"/>
<rect x="1900.3" y="474.6" width="17.5" height="17.5" fill="#000"/>
<rect x="1901.2" y="476.1" width="17.5" height="17.5" fill="#000"/>
<rect x="1900.6" y="480.2" width="17.5" height="17.5" fill="#000"/>
<rect x="1903.2" y="480.6" width="17.5" height="17.5" fill="#000"/>
<rect x="1903.8" y="481.9" width="17.5" height="17.5" fill="#000"/>
<rect x="1903.1" y="483.6" width="17.5" height="17.5" fill="#000"/>
<rect x="1903.7" y="482.8" width="17.5" height="17.5" fill="#000"/>
<rect x="1905.7" y="486.2" width="17.5" height="17.5" fill="#000"/>
<rect x="1906.1" y="487.5" width="17.5" height="17.5" fill="#000"/>
<rect x="1905.8" y="487.2" width="17.5" height="17.5" fill="#000"/>
<rect x="1908" y="488.3" width="17.5" height="17.5" fill="#000"/>
<rect x="1908.4" y="490.9" width="17.5" height="17.5"/>
<rect x="1910" y="496.7" width="17.5" height="17.5" fill="#000"/>
<rect x="1912.5" y="495.2" width="17.5" height="17.5" fill="#000"/>
<rect x="1911.6" y="496.4" width="17.5" height="17.5"/>
<rect x="1915.1" y="502.3" width="17.5" height="17.5" fill="#000"/>
<rect x="1915.3" y="501.4" width="17.5" height="17.5" fill="#000"/>
<rect x="1915.7" y="503.7" width="17.5" height="17.5" fill="#000"/>
<rect x="1915.8" y="507.9" width="17.5" height="17.5" fill="#000"/>
<rect x="1917.8" y="510.8" width="17.5" height="17.5" fill="#000"/>
<rect x="1917.5" y="510.8" width="17.5" height="17.5" fill="#000"/>
<rect x="1918.7" y="513.3" width="17.5" height="17.5" fill="#000"/>
<rect x="1918.8" y="517.2" width="17.5" height="17.5" fill="#000"/>
<rect x="1919.9" y="518.2" width="17.5" height="17.5" fill="#000"/>
<rect x="1922.3" y="518.8" width="17.5" height="17.5" fill="#000"/>
<rect x="1921.9" y="520.4" width="17.5" height="17.5" fill="#000"/>
<rect x="1922.6" y="520.4" width="17.5" height="17.5" fill="#000"/>
<rect x="1923" y="522.5" width="17.5" height="17.5" fill="#000"/>
<rect x="1923.1" y="520.9" width="17.5" height="17.5" fill="#000"/>
<rect x="1924.4" y="523.9" width="17.5" height="17.5" fill="#000"/>
<rect x="1924.8" y="525" width="17.5" height="17.5"/>
<rect x="1925.6" y="528.5" width="17.5" height="17.5"/>
<rect x="1927.5" y="530.1" width="17.5" height="17.5"/>
<rect x="1928.3" y="535.6" width="17.5" height="17.5" fill="#000"/>
<rect x="1928.9" y="538.6" width="17.5" height="17.5" fill="#000"/>
<rect x="1931.6" y="540.6" width="17.5" height="17.5" fill="#000"/>
<rect x="1931.3" y="539.6" width="17.5" height="17.5" fill="#000"/>
<rect x="1933" y="543.4" width="17.5" height="17.5" fill="#000"/>
<rect x="1932.6" y="542.9" width="17.5" height="17.5" fill="#000"/>
<rect x="1933.4" y="543.6" width="17.5" height="17.5" fill="#000"/>
<rect x="1933.7" y="545.1" width="17.5" height="17.5"/>
<rect x="1935" y="550.6" width="17.5" height="17.5"/>
<rect x="1935.3" y="554.6" width="17.5" height="17.5"/>
<rect x="1936.3" y="557.7" width="17.5" height="17.5"/>
<rect x="1937.8" y="566.6" width="17.5" height="17.5"/>
<rect x="1936.7" y="571.4" width="17.5" height="17.5"/>
<rect x="1937.6" y="575.1" width="17.5" height="17.5"/>
<rect x="1938.7" y="579" width="17.5" height="17.5"/>
<rect x="1938.4" y="581.1" width="17.5" height="17.5"/>
<rect x="1938.4" y="583.9" width="17.5" height="17.5"/>
<rect x="1939.4" y="587.9" width="17.5" height="17.5"/>
<rect x="1940.6" y="592.7" width="17.5" height="17.5"/>
<rect x="1940.8" y="597.1" width="17.5" height="17.5"/>
<rect x="1941" y="598.1" width="17.5" height="17.5"/>
<rect x="1942.1" y="602.3" width="17.5" height="17.5"/>
<rect x="1942.9" y="612.7" width="17.5" height="17.5"/>
<rect x="1944" y="616.5" width="17.5" height="17.5"/>
<rect x="1944.2" y="621.6" width="17.5" height="17.5"/>
<rect x="1944.7" y="624.6" width="17.5" height="17.5"/>
<rect x="1944.8" y="626.5" width="17.5" height="17.5"/>
<rect x="1945.7" y="631.2" width="17.5" height="17.5"/>
<rect x="1948" y="633.5" width="17.5" height="17.5"/>
<rect x="1948.4" y="636.8" width="17.5" height="17.5"/>
<rect x="1947.1" y="642.1" width="17.5" height="17.5"/>
<rect x="1947.6" y="643.4" width="17.5" height="17.5"/>
<rect x="1951.4" y="652" width="17.5" height="17.5"/>
<rect x="1951.5" y="653.6" width="17.5" height="17.5"/>
<rect x="1953.7" y="664" width="17.5" height="17.5"/>
<rect x="1953.9" y="668.1" width="17.5" height="17.5" fill="#000"/>
<rect x="1953.9" y="669.8" width="17.5" height="17.5"/>
<rect x="1953.9" y="658.8" width="17.5" height="17.5"/>
<rect x="1953.9" y="656.8" width="17.5" height="17.5"/>
<rect x="1953.9" y="653.4" width="17.5" height="17.5"/>
<rect x="1953.9" y="647" width="17.5" height="17.5"/>
<rect x="1953.9" y="644.1" width="17.5" height="17.5"/>
<rect x="1953.9" y="634.1" width="17.5" height="17.5"/>
<rect x="1953.9" y="632.9" width="17.5" height="17.5"/>
<rect x="1953.9" y="629.3" width="17.5" height="17.5"/>
<rect x="1953.9" y="618.8" width="17.5" height="17.5"/>
<rect x="1953.9" y="615.1" width="17.5" height="17.5"/>
<rect x="1953.9" y="611.2" width="17.5" height="17.5"/>
<rect x="1953.9" y="607.3" width="17.5" height="17.5"/>
<rect x="1953.9" y="604.9" width="17.5" height="17.5"/>
<rect x="1953.9" y="600.3" width="17.5" height="17.5"/>
<rect x="1954" y="595.6" width="17.5" height="17.5"/>
<rect x="1953.6" y="591.3" width="17.5" height="17.5"/>
<rect x="1955" y="588.1" width="17.5" height="17.5"/>
<rect x="1954.6" y="585.5" width="17.5" height="17.5"/>
<rect x="1956.1" y="582.2" width="17.5" height="17.5"/>
<rect x="1954.7" y="576.9" width="17.5" height="17.5"/>
<rect x="1957.2" y="575.4" width="17.5" height="17.5" fill="#000"/>
<rect x="1956" y="573" width="17.5" height="17.5" fill="#000"/>
<rect x="1958.2" y="575.3" width="17.5" height="17.5" fill="#000"/>
<rect x="1958" y="574.7" width="17.5" height="17.5" fill="#000"/>
<rect x="1960.2" y="573.9" width="17.5" height="17.5" fill="#000"/>
<rect x="1962.7" y="571.6" width="17.5" height="17.5" fill="#000"/>
<rect x="1962.6" y="571.8" width="17.5" height="17.5" fill="#000"/>
<rect x="1964.1" y="571.6" width="17.5" height="17.5" fill="#000"/>
<rect x="1967.4" y="574.4" width="17.5" height="17.5" fill="#000"/>
<rect x="1966.2" y="572.7" width="17.5" height="17.5" fill="#000"/>
<rect x="1967.8" y="574.9" width="17.5" height="17.5" fill="#000"/>
<rect x="1968.1" y="575.5" width="17.5" height="17.5" fill="#000"/>
<rect x="1968.4" y="576.1" width="17.5" height="17.5" fill="#000"/>
<rect x="1968.8" y="576.7" width="17.5" height="17.5" fill="#000"/>
<rect x="1969.1" y="577.4" width="17.5" height="17.5" fill="#000"/>
<rect x="1969.9" y="579.1" width="17.5" height="17.5" fill="#000"/>
<rect x="1970.2" y="579.7" width="17.5" height="17.5" fill="#000"/>
<rect x="1971.1" y="582.5" width="17.5" height="17.5" fill="#000"/>
<rect x="1971.4" y="583.7" width="17.5" height="17.5" fill="#000"/>
<rect x="1971.7" y="585" width="17.5" height="17.5" fill="#000"/>
<rect x="1973" y="588.4" width="17.5" height="17.5" fill="#000"/>
<rect x="1973.8" y="589.7" width="17.5" height="17.5" fill="#000"/>
<rect x="1975.9" y="593.1" width="17.5" height="17.5" fill="#000"/>
<rect x="1976.7" y="594.4" width="17.5" height="17.5" fill="#000"/>
<rect x="1977.4" y="595.5" width="17.5" height="17.5" fill="#000"/>
<rect x="1978.2" y="596.4" width="17.5" height="17.5" fill="#000"/>
<rect x="1980.3" y="599" width="17.5" height="17.5" fill="#000"/>
<rect x="1982.4" y="601.5" width="17.5" height="17.5" fill="#000"/>
<rect x="1984.5" y="604" width="17.5" height="17.5" fill="#000"/>
<rect x="1985.2" y="604.9" width="17.5" height="17.5" fill="#000"/>
<rect x="1986" y="605.8" width="17.5" height="17.5" fill="#000"/>
<rect x="1986.8" y="607" width="17.5" height="17.5" fill="#000"/>
<rect x="1987.5" y="608.6" width="17.5" height="17.5" fill="#000"/>
<rect x="1988.3" y="610.2" width="17.5" height="17.5" fill="#000"/>
<rect x="1989" y="611.8" width="17.5" height="17.5" fill="#000"/>
<rect x="1989.8" y="613.4" width="17.5" height="17.5" fill="#000"/>
<rect x="1990.5" y="615" width="17.5" height="17.5" fill="#000"/>
<rect x="1991.3" y="616.6" width="17.5" height="17.5" fill="#000"/>
<rect x="1992" y="618.1" width="17.5" height="17.5" fill="#000"/>
<rect x="1992.8" y="619.7" width="17.5" height="17.5" fill="#000"/>
<rect x="1993.5" y="621.3" width="17.5" height="17.5" fill="#000"/>
<rect x="1994.3" y="622.9" width="17.5" height="17.5" fill="#000"/>
<rect x="1995.1" y="624.5" width="17.5" height="17.5" fill="#000"/>
<rect x="1995.8" y="626.1" width="17.5" height="17.5" fill="#000"/>
<rect x="1996.6" y="627.6" width="17.5" height="17.5" fill="#000"/>
<rect x="1997.3" y="628.9" width="17.5" height="17.5" fill="#000"/>
<rect x="1998.1" y="630.2" width="17.5" height="17.5" fill="#000"/>
<rect x="2000.2" y="634.5" width="17.5" height="17.5" fill="#000"/>
<rect x="2000.9" y="636.3" width="17.5" height="17.5" fill="#000"/>
<rect x="2001.7" y="638.1" width="17.5" height="17.5" fill="#000"/>
<rect x="2002.5" y="639.9" width="17.5" height="17.5" fill="#000"/>
<rect x="2003.2" y="641.7" width="17.5" height="17.5" fill="#000"/>
<rect x="2004" y="643.5" width="17.5" height="17.5" fill="#000"/>
<rect x="2004.7" y="645.6" width="17.5" height="17.5" fill="#000"/>
<rect x="2005.5" y="647.9" width="17.5" height="17.5" fill="#000"/>
<rect x="2006.2" y="650.2" width="17.5" height="17.5" fill="#000"/>
<rect x="2008.3" y="656.9" width="17.5" height="17.5" fill="#000"/>
<rect x="2009.1" y="659.7" width="17.5" height="17.5" fill="#000"/>
<rect x="2009.9" y="662.5" width="17.5" height="17.5" fill="#000"/>
<rect x="2010.6" y="665.3" width="17.5" height="17.5" fill="#000"/>
<rect x="2011.4" y="667.2" width="17.5" height="17.5" fill="#000"/>
<rect x="2012.2" y="668.9" width="17.5" height="17.5" fill="#000"/>
<rect x="2013" y="670.5" width="17.5" height="17.5" fill="#000"/>
<rect x="2013.9" y="672.1" width="17.5" height="17.5" fill="#000"/>
<rect x="2014.7" y="673.8" width="17.5" height="17.5" fill="#000"/>
<rect x="2015.6" y="675.4" width="17.5" height="17.5" fill="#000"/>
<rect x="2016.4" y="677" width="17.5" height="17.5" fill="#000"/>
<rect x="2017.3" y="679.4" width="17.5" height="17.5" fill="#000"/>
<rect x="2018.1" y="681.9" width="17.5" height="17.5" fill="#000"/>
<rect x="2018.9" y="684.3" width="17.5" height="17.5" fill="#000"/>
<rect x="2019.8" y="686.8" width="17.5" height="17.5" fill="#000"/>
<rect x="2020.6" y="689.2" width="17.5" height="17.5" fill="#000"/>
<rect x="2021.5" y="691.5" width="17.5" height="17.5" fill="#000"/>
<rect x="2022.3" y="693.3" width="17.5" height="17.5" fill="#000"/>
<rect x="2023.2" y="695.2" width="17.5" height="17.5" fill="#000"/>
<rect x="2024" y="697" width="17.5" height="17.5" fill="#000"/>
<rect x="2024.9" y="698.8" width="17.5" height="17.5" fill="#000"/>
<rect x="2027.2" y="706.4" width="17.5" height="17.5" fill="#000"/>
<rect x="2028.1" y="709.5" width="17.5" height="17.5" fill="#000"/>
<rect x="2028.7" y="713" width="17.5" height="17.5" fill="#000"/>
<rect x="2029.2" y="716.6" width="17.5" height="17.5" fill="#000"/>
<rect x="2029.7" y="720.2" width="17.5" height="17.5" fill="#000"/>
<rect x="2030.3" y="723.8" width="17.5" height="17.5" fill="#000"/>
<rect x="2030.8" y="727.4" width="17.5" height="17.5" fill="#000"/>
<rect x="2031.5" y="730.2" width="17.5" height="17.5" fill="#000"/>
<rect x="2032.3" y="731.3" width="17.5" height="17.5" fill="#000"/>
<rect x="2033.2" y="732.5" width="17.5" height="17.5" fill="#000"/>
<rect x="2034" y="733.6" width="17.5" height="17.5" fill="#000"/>
<rect x="2035.6" y="741" width="17.5" height="17.5" fill="#000"/>
<rect x="2036" y="744.6" width="17.5" height="17.5" fill="#000"/>
<rect x="2037.1" y="754.6" width="17.5" height="17.5" fill="#000"/>
<rect x="2037.5" y="758.2" width="17.5" height="17.5" fill="#000"/>
<rect x="2037.8" y="761.8" width="17.5" height="17.5" fill="#000"/>
<rect x="2038.7" y="762.3" width="17.5" height="17.5" fill="#000"/>
<rect x="2041" y="764" width="17.5" height="17.5" fill="#000"/>
<rect x="2041.9" y="764.6" width="17.5" height="17.5" fill="#000"/>
<rect x="2042.2" y="767.6" width="17.5" height="17.5" fill="#000"/>
<rect x="2042.4" y="771.2" width="17.5" height="17.5" fill="#000"/>
<rect x="2042.7" y="774.8" width="17.5" height="17.5" fill="#000"/>
<rect x="2043.2" y="784.8" width="17.5" height="17.5" fill="#000"/>
<rect x="2043.5" y="788.4" width="17.5" height="17.5" fill="#000"/>
<rect x="2043.7" y="792" width="17.5" height="17.5" fill="#000"/>
<rect x="2043.9" y="795.6" width="17.5" height="17.5" fill="#000"/>
<rect x="2044.2" y="799.2" width="17.5" height="17.5" fill="#000"/>
<rect x="2044.5" y="802.8" width="17.5" height="17.5" fill="#000"/>
<rect x="2044.7" y="806.4" width="17.5" height="17.5" fill="#000"/>
<rect x="1967.8" y="573.4" width="17.5" height="17.5" fill="#000"/>
<rect x="1969.3" y="574.7" width="17.5" height="17.5" fill="#000"/>
<rect x="1970.4" y="575.7" width="17.5" height="17.5" fill="#000"/>
<rect x="1970.2" y="578.3" width="17.5" height="17.5" fill="#000"/>
<rect x="1971.6" y="577.6" width="17.5" height="17.5" fill="#000"/>
<rect x="1973.2" y="577.6" width="17.5" height="17.5" fill="#000"/>
<rect x="1972.9" y="578.8" width="17.5" height="17.5"/>
<rect x="1974.8" y="581.8" width="17.5" height="17.5" fill="#000"/>
<rect x="1977.6" y="584.6" width="17.5" height="17.5" fill="#000"/>
<rect x="1977.6" y="583.3" width="17.5" height="17.5"/>
<rect x="1980" y="588.3" width="17.5" height="17.5" fill="#000"/>
<rect x="1979.7" y="591.2" width="17.5" height="17.5"/>
<rect x="1982.1" y="593.4" width="17.5" height="17.5" fill="#000"/>
<rect x="1982.5" y="595" width="17.5" height="17.5" fill="#000"/>
<rect x="1983" y="594.8" width="17.5" height="17.5" fill="#000"/>
<rect x="1985.2" y="597.4" width="17.5" height="17.5"/>
<rect x="1986.2" y="598.9" width="17.5" height="17.5"/>
<rect x="1988.8" y="600" width="17.5" height="17.5"/>
<rect x="1990.7" y="604.7" width="17.5" height="17.5" fill="#000"/>
<rect x="1992.8" y="606.2" width="17.5" height="17.5" fill="#000"/>
<rect x="1992.7" y="606.4" width="17.5" height="17.5" fill="#000"/>
<rect x="1994.1" y="606.9" width="17.5" height="17.5" fill="#000"/>
<rect x="1994.8" y="609.8" width="17.5" height="17.5" fill="#000"/>
<rect x="1995.3" y="609.9" width="17.5" height="17.5" fill="#000"/>
<rect x="1995.5" y="610.9" width="17.5" height="17.5" fill="#000"/>
<rect x="1997.2" y="614.7" width="17.5" height="17.5" fill="#000"/>
<rect x="1996.5" y="615.5" width="17.5" height="17.5" fill="#000"/>
<rect x="1997.1" y="618.1" width="17.5" height="17.5" fill="#000"/>
<rect x="1998" y="619.2" width="17.5" height="17.5" fill="#000"/>
<rect x="1999.9" y="619.9" width="17.5" height="17.5" fill="#000"/>
<rect x="1999.1" y="621.9" width="17.5" height="17.5" fill="#000"/>
<rect x="2000.8" y="623.4" width="17.5" height="17.5" fill="#000"/>
<rect x="2000.8" y="626" width="17.5" height="17.5" fill="#000"/>
<rect x="2001.1" y="624.4" width="17.5" height="17.5" fill="#000"/>
<rect x="2003.8" y="629.1" width="17.5" height="17.5" fill="#000"/>
<rect x="2004.5" y="627.3" width="17.5" height="17.5" fill="#000"/>
<rect x="2004.8" y="631.6" width="17.5" height="17.5"/>
<rect x="2006.7" y="634.8" width="17.5" height="17.5" fill="#000"/>
<rect x="2006.7" y="636.2" width="17.5" height="17.5" fill="#000"/>
<rect x="2007" y="636.7" width="17.5" height="17.5" fill="#000"/>
<rect x="2009.4" y="639.5" width="17.5" height="17.5" fill="#000"/>
<rect x="2010.9" y="641.2" width="17.5" height="17.5" fill="#000"/>
<rect x="2009.9" y="644.4" width="17.5" height="17.5" fill="#000"/>
<rect x="2010.3" y="647.3" width="17.5" height="17.5" fill="#000"/>
<rect x="2012.8" y="646.8" width="17.5" height="17.5" fill="#000"/>
<rect x="2012.3" y="651.3" width="17.5" height="17.5"/>
<rect x="2015.3" y="655.7" width="17.5" height="17.5"/>
<rect x="2016.8" y="660.8" width="17.5" height="17.5"/>
<rect x="2017.2" y="661.3" width="17.5" height="17.5"/>
<rect x="2017.8" y="665.9" width="17.5" height="17.5" fill="#000"/>
<rect x="2017.1" y="666.1" width="17.5" height="17.5" fill="#000"/>
<rect x="2018.2" y="669.3" width="17.5" height="17.5" fill="#000"/>
<rect x="2019.6" y="670.9" width="17.5" height="17.5" fill="#000"/>
<rect x="2021.1" y="673" width="17.5" height="17.5" fill="#000"/>
<rect x="2019.7" y="673.5" width="17.5" height="17.5" fill="#000"/>
<rect x="2022" y="674.3" width="17.5" height="17.5" fill="#000"/>
<rect x="2023" y="675.6" width="17.5" height="17.5"/>
<rect x="2024.4" y="679.5" width="17.5" height="17.5"/>
<rect x="2024" y="683.1" width="17.5" height="17.5"/>
<rect x="2024.2" y="684.1" width="17.5" height="17.5"/>
<rect x="2024.4" y="686.1" width="17.5" height="17.5"/>
<rect x="2025.4" y="689.4" width="17.5" height="17.5" fill="#000"/>
<rect x="2028.2" y="692.9" width="17.5" height="17.5" fill="#000"/>
<rect x="2026.5" y="693.6" width="17.5" height="17.5" fill="#000"/>
<rect x="2027.7" y="694.4" width="17.5" height="17.5" fill="#000"/>
<rect x="2028" y="695.8" width="17.5" height="17.5" fill="#000"/>
<rect x="2031" y="697.8" width="17.5" height="17.5"/>
<rect x="2031.9" y="707.2" width="17.5" height="17.5"/>
<rect x="2033.3" y="709.4" width="17.5" height="17.5"/>
<rect x="2033.2" y="713.5" width="17.5" height="17.5"/>
<rect x="2033.7" y="716" width="17.5" height="17.5"/>
<rect x="2035.2" y="718.8" width="17.5" height="17.5"/>
<rect x="2034" y="724.5" width="17.5" height="17.5"/>
<rect x="2035.2" y="727.2" width="17.5" height="17.5"/>
<rect x="2035.5" y="731.2" width="17.5" height="17.5" fill="#000"/>
<rect x="2035.6" y="731.9" width="17.5" height="17.5" fill="#000"/>
<rect x="2037.3" y="730.8" width="17.5" height="17.5" fill="#000"/>
<rect x="2039.3" y="732.3" width="17.5" height="17.5"/>
<rect x="2040.8" y="739.4" width="17.5" height="17.5"/>
<rect x="2040.3" y="743.5" width="17.5" height="17.5"/>
<rect x="2039.8" y="753.9" width="17.5" height="17.5"/>
<rect x="2041.6" y="758.9" width="17.5" height="17.5"/>
<rect x="2041.8" y="760.2" width="17.5" height="17.5" fill="#000"/>
<rect x="2042.3" y="761.8" width="17.5" height="17.5" fill="#000"/>
<rect x="2043.9" y="764.5" width="17.5" height="17.5" fill="#000"/>
<rect x="2046.2" y="766.2" width="17.5" height="17.5"/>
<rect x="2045.5" y="768.6" width="17.5" height="17.5"/>
<rect x="2045.7" y="770.5" width="17.5" height="17.5"/>
<rect x="2045.9" y="774.9" width="17.5" height="17.5"/>
<rect x="2046.4" y="786.2" width="17.5" height="17.5"/>
<rect x="2046.6" y="787.8" width="17.5" height="17.5"/>
<rect x="2046.8" y="792.4" width="17.5" height="17.5"/>
<rect x="2047" y="795.3" width="17.5" height="17.5"/>
<rect x="2047.3" y="799.4" width="17.5" height="17.5"/>
<rect x="2047.5" y="802.7" width="17.5" height="17.5"/>
<rect x="2047.8" y="806.1" width="17.5" height="17.5"/>
<rect x="2048" y="810.3" width="17.5" height="17.5"/>
<rect x="2048.2" y="814.9" width="17.5" height="17.5"/>
<rect x="2047.8" y="824.7" width="17.5" height="17.5"/>
<rect x="2047.5" y="825.8" width="17.5" height="17.5"/>
<rect x="2047.5" y="834.1" width="17.5" height="17.5"/>
</g></g>
<g id="main-axes" stroke="#000" fill="none">
<line x1="376" y1="85" x2="642.6" y2="85" stroke="#000" stroke-width="8"/>
<line x1="673.5" y1="85" x2="2143" y2="85" stroke="#000" stroke-width="8"/>
<line x1="376" y1="1379" x2="642.6" y2="1379" stroke="#000" stroke-width="8"/>
<line x1="673.5" y1="1379" x2="2143" y2="1379" stroke="#000" stroke-width="8"/>
<line x1="380" y1="81" x2="380" y2="1163.7" stroke="#000" stroke-width="8"/>
<line x1="380" y1="1180.3" x2="380" y2="1383" stroke="#000" stroke-width="8"/>
<line x1="2139" y1="81" x2="2139" y2="1163.7" stroke="#000" stroke-width="8"/>
<line x1="2139" y1="1180.3" x2="2139" y2="1383" stroke="#000" stroke-width="8"/>
<line x1="628.6" y1="111.6" x2="656.6" y2="58.4" stroke="#000" stroke-width="6.2"/>
<line x1="659.5" y1="111.6" x2="687.5" y2="58.4" stroke="#000" stroke-width="6.2"/>
<line x1="628.6" y1="1405.6" x2="656.6" y2="1352.4" stroke="#000" stroke-width="6.2"/>
<line x1="659.5" y1="1405.6" x2="687.5" y2="1352.4" stroke="#000" stroke-width="6.2"/>
<line x1="353.4" y1="1171.5" x2="406.6" y2="1149.9" stroke="#000" stroke-width="5.6"/>
<line x1="353.4" y1="1193.1" x2="406.6" y2="1171.5" stroke="#000" stroke-width="5.6"/>
<line x1="2112.4" y1="1171.5" x2="2165.6" y2="1149.9" stroke="#000" stroke-width="5.6"/>
<line x1="2112.4" y1="1193.1" x2="2165.6" y2="1171.5" stroke="#000" stroke-width="5.6"/>
<line x1="445.8" y1="85" x2="445.8" y2="98.5" stroke="#000" stroke-width="6"/>
<line x1="445.8" y1="1379" x2="445.8" y2="1365.5" stroke="#000" stroke-width="6"/>
<line x1="511.5" y1="85" x2="511.5" y2="98.5" stroke="#000" stroke-width="6"/>
<line x1="511.5" y1="1379" x2="511.5" y2="1352" stroke="#000" stroke-width="6"/>
<line x1="577.2" y1="85" x2="577.2" y2="98.5" stroke="#000" stroke-width="6"/>
<line x1="577.2" y1="1379" x2="577.2" y2="1365.5" stroke="#000" stroke-width="6"/>
<line x1="693.7" y1="85" x2="693.7" y2="112" stroke="#000" stroke-width="6"/>
<line x1="693.7" y1="1379" x2="693.7" y2="1352" stroke="#000" stroke-width="6"/>
<line x1="759.4" y1="85" x2="759.4" y2="98.5" stroke="#000" stroke-width="6"/>
<line x1="759.4" y1="1379" x2="759.4" y2="1365.5" stroke="#000" stroke-width="6"/>
<line x1="825.1" y1="85" x2="825.1" y2="98.5" stroke="#000" stroke-width="6"/>
<line x1="825.1" y1="1379" x2="825.1" y2="1365.5" stroke="#000" stroke-width="6"/>
<line x1="890.7" y1="85" x2="890.7" y2="98.5" stroke="#000" stroke-width="6"/>
<line x1="890.7" y1="1379" x2="890.7" y2="1365.5" stroke="#000" stroke-width="6"/>
<line x1="956.4" y1="85" x2="956.4" y2="112" stroke="#000" stroke-width="6"/>
<line x1="956.4" y1="1379" x2="956.4" y2="1352" stroke="#000" stroke-width="6"/>
<line x1="1022.1" y1="85" x2="1022.1" y2="98.5" stroke="#000" stroke-width="6"/>
<line x1="1022.1" y1="1379" x2="1022.1" y2="1365.5" stroke="#000" stroke-width="6"/>
<line x1="1087.8" y1="85" x2="1087.8" y2="98.5" stroke="#000" stroke-width="6"/>
<line x1="1087.8" y1="1379" x2="1087.8" y2="1365.5" stroke="#000" stroke-width="6"/>
<line x1="1153.5" y1="85" x2="1153.5" y2="98.5" stroke="#000" stroke-width="6"/>
<line x1="1153.5" y1="1379" x2="1153.5" y2="1365.5" stroke="#000" stroke-width="6"/>
<line x1="1219.1" y1="85" x2="1219.1" y2="112" stroke="#000" stroke-width="6"/>
<line x1="1219.1" y1="1379" x2="1219.1" y2="1352" stroke="#000" stroke-width="6"/>
<line x1="1284.8" y1="85" x2="1284.8" y2="98.5" stroke="#000" stroke-width="6"/>
<line x1="1284.8" y1="1379" x2="1284.8" y2="1365.5" stroke="#000" stroke-width="6"/>
<line x1="1350.5" y1="85" x2="1350.5" y2="98.5" stroke="#000" stroke-width="6"/>
<line x1="1350.5" y1="1379" x2="1350.5" y2="1365.5" stroke="#000" stroke-width="6"/>
<line x1="1416.2" y1="85" x2="1416.2" y2="98.5" stroke="#000" stroke-width="6"/>
<line x1="1416.2" y1="1379" x2="1416.2" y2="1365.5" stroke="#000" stroke-width="6"/>
<line x1="1481.9" y1="85" x2="1481.9" y2="112" stroke="#000" stroke-width="6"/>
<line x1="1481.9" y1="1379" x2="1481.9" y2="1352" stroke="#000" stroke-width="6"/>
<line x1="1547.5" y1="85" x2="1547.5" y2="98.5" stroke="#000" stroke-width="6"/>
<line x1="1547.5" y1="1379" x2="1547.5" y2="1365.5" stroke="#000" stroke-width="6"/>
<line x1="1613.2" y1="85" x2="1613.2" y2="98.5" stroke="#000" stroke-width="6"/>
<line x1="1613.2" y1="1379" x2="1613.2" y2="1365.5" stroke="#000" stroke-width="6"/>
<line x1="1678.9" y1="85" x2="1678.9" y2="98.5" stroke="#000" stroke-width="6"/>
<line x1="1678.9" y1="1379" x2="1678.9" y2="1365.5" stroke="#000" stroke-width="6"/>
<line x1="1744.6" y1="85" x2="1744.6" y2="112" stroke="#000" stroke-width="6"/>
<line x1="1744.6" y1="1379" x2="1744.6" y2="1352" stroke="#000" stroke-width="6"/>
<line x1="1810.3" y1="85" x2="1810.3" y2="98.5" stroke="#000" stroke-width="6"/>
<line x1="1810.3" y1="1379" x2="1810.3" y2="1365.5" stroke="#000" stroke-width="6"/>
<line x1="1875.9" y1="85" x2="1875.9" y2="98.5" stroke="#000" stroke-width="6"/>
<line x1="1875.9" y1="1379" x2="1875.9" y2="1365.5" stroke="#000" stroke-width="6"/>
<line x1="1941.6" y1="85" x2="1941.6" y2="98.5" stroke="#000" stroke-width="6"/>
<line x1="1941.6" y1="1379" x2="1941.6" y2="1365.5" stroke="#000" stroke-width="6"/>
<line x1="2007.3" y1="85" x2="2007.3" y2="112" stroke="#000" stroke-width="6"/>
<line x1="2007.3" y1="1379" x2="2007.3" y2="1352" stroke="#000" stroke-width="6"/>
<line x1="2073" y1="85" x2="2073" y2="98.5" stroke="#000" stroke-width="6"/>
<line x1="2073" y1="1379" x2="2073" y2="1365.5" stroke="#000" stroke-width="6"/>
<line x1="380" y1="161.9" x2="407" y2="161.9" stroke="#000" stroke-width="6"/>
<line x1="2139" y1="161.9" x2="2112" y2="161.9" stroke="#000" stroke-width="6"/>
<line x1="380" y1="596" x2="407" y2="596" stroke="#000" stroke-width="6"/>
<line x1="2139" y1="596" x2="2112" y2="596" stroke="#000" stroke-width="6"/>
<line x1="380" y1="465.3" x2="393.5" y2="465.3" stroke="#000" stroke-width="6"/>
<line x1="2139" y1="465.3" x2="2125.5" y2="465.3" stroke="#000" stroke-width="6"/>
<line x1="380" y1="388.9" x2="393.5" y2="388.9" stroke="#000" stroke-width="6"/>
<line x1="2139" y1="388.9" x2="2125.5" y2="388.9" stroke="#000" stroke-width="6"/>
<line x1="380" y1="334.6" x2="393.5" y2="334.6" stroke="#000" stroke-width="6"/>
<line x1="2139" y1="334.6" x2="2125.5" y2="334.6" stroke="#000" stroke-width="6"/>
<line x1="380" y1="292.6" x2="393.5" y2="292.6" stroke="#000" stroke-width="6"/>
<line x1="2139" y1="292.6" x2="2125.5" y2="292.6" stroke="#000" stroke-width="6"/>
<line x1="380" y1="258.2" x2="393.5" y2="258.2" stroke="#000" stroke-width="6"/>
<line x1="2139" y1="258.2" x2="2125.5" y2="258.2" stroke="#000" stroke-width="6"/>
<line x1="380" y1="229.1" x2="393.5" y2="229.1" stroke="#000" stroke-width="6"/>
<line x1="2139" y1="229.1" x2="2125.5" y2="229.1" stroke="#000" stroke-width="6"/>
<line x1="380" y1="204" x2="393.5" y2="204" stroke="#000" stroke-width="6"/>
<line x1="2139" y1="204" x2="2125.5" y2="204" stroke="#000" stroke-width="6"/>
<line x1="380" y1="181.8" x2="393.5" y2="181.8" stroke="#000" stroke-width="6"/>
<line x1="2139" y1="181.8" x2="2125.5" y2="181.8" stroke="#000" stroke-width="6"/>
<line x1="380" y1="1030.1" x2="407" y2="1030.1" stroke="#000" stroke-width="6"/>
<line x1="2139" y1="1030.1" x2="2112" y2="1030.1" stroke="#000" stroke-width="6"/>
<line x1="380" y1="899.4" x2="393.5" y2="899.4" stroke="#000" stroke-width="6"/>
<line x1="2139" y1="899.4" x2="2125.5" y2="899.4" stroke="#000" stroke-width="6"/>
<line x1="380" y1="823" x2="393.5" y2="823" stroke="#000" stroke-width="6"/>
<line x1="2139" y1="823" x2="2125.5" y2="823" stroke="#000" stroke-width="6"/>
<line x1="380" y1="768.7" x2="393.5" y2="768.7" stroke="#000" stroke-width="6"/>
<line x1="2139" y1="768.7" x2="2125.5" y2="768.7" stroke="#000" stroke-width="6"/>
<line x1="380" y1="726.7" x2="393.5" y2="726.7" stroke="#000" stroke-width="6"/>
<line x1="2139" y1="726.7" x2="2125.5" y2="726.7" stroke="#000" stroke-width="6"/>
<line x1="380" y1="692.3" x2="393.5" y2="692.3" stroke="#000" stroke-width="6"/>
<line x1="2139" y1="692.3" x2="2125.5" y2="692.3" stroke="#000" stroke-width="6"/>
<line x1="380" y1="663.2" x2="393.5" y2="663.2" stroke="#000" stroke-width="6"/>
<line x1="2139" y1="663.2" x2="2125.5" y2="663.2" stroke="#000" stroke-width="6"/>
<line x1="380" y1="638.1" x2="393.5" y2="638.1" stroke="#000" stroke-width="6"/>
<line x1="2139" y1="638.1" x2="2125.5" y2="638.1" stroke="#000" stroke-width="6"/>
<line x1="380" y1="615.9" x2="393.5" y2="615.9" stroke="#000" stroke-width="6"/>
<line x1="2139" y1="615.9" x2="2125.5" y2="615.9" stroke="#000" stroke-width="6"/>
<line x1="380" y1="1160.8" x2="393.5" y2="1160.8" stroke="#000" stroke-width="6"/>
<line x1="2139" y1="1160.8" x2="2125.5" y2="1160.8" stroke="#000" stroke-width="6"/>
<line x1="380" y1="1126.4" x2="393.5" y2="1126.4" stroke="#000" stroke-width="6"/>
<line x1="2139" y1="1126.4" x2="2125.5" y2="1126.4" stroke="#000" stroke-width="6"/>
<line x1="380" y1="1097.3" x2="393.5" y2="1097.3" stroke="#000" stroke-width="6"/>
<line x1="2139" y1="1097.3" x2="2125.5" y2="1097.3" stroke="#000" stroke-width="6"/>
<line x1="380" y1="1072.2" x2="393.5" y2="1072.2" stroke="#000" stroke-width="6"/>
<line x1="2139" y1="1072.2" x2="2125.5" y2="1072.2" stroke="#000" stroke-width="6"/>
<line x1="380" y1="1050" x2="393.5" y2="1050" stroke="#000" stroke-width="6"/>
<line x1="2139" y1="1050" x2="2125.5" y2="1050" stroke="#000" stroke-width="6"/>
<line x1="380" y1="1241.5" x2="407" y2="1241.5" stroke="#000" stroke-width="6"/>
<line x1="2139" y1="1241.5" x2="2112" y2="1241.5" stroke="#000" stroke-width="6"/>
<line x1="380" y1="1203.7" x2="393.5" y2="1203.7" stroke="#000" stroke-width="6"/>
<line x1="2139" y1="1203.7" x2="2125.5" y2="1203.7" stroke="#000" stroke-width="6"/>
<line x1="380" y1="1367.1" x2="407" y2="1367.1" stroke="#000" stroke-width="6"/>
<line x1="2139" y1="1367.1" x2="2112" y2="1367.1" stroke="#000" stroke-width="6"/>
<line x1="380" y1="1329.3" x2="393.5" y2="1329.3" stroke="#000" stroke-width="6"/>
<line x1="2139" y1="1329.3" x2="2125.5" y2="1329.3" stroke="#000" stroke-width="6"/>
<line x1="380" y1="1307.2" x2="393.5" y2="1307.2" stroke="#000" stroke-width="6"/>
<line x1="2139" y1="1307.2" x2="2125.5" y2="1307.2" stroke="#000" stroke-width="6"/>
<line x1="380" y1="1291.5" x2="393.5" y2="1291.5" stroke="#000" stroke-width="6"/>
<line x1="2139" y1="1291.5" x2="2125.5" y2="1291.5" stroke="#000" stroke-width="6"/>
<line x1="380" y1="1279.3" x2="393.5" y2="1279.3" stroke="#000" stroke-width="6"/>
<line x1="2139" y1="1279.3" x2="2125.5" y2="1279.3" stroke="#000" stroke-width="6"/>
<line x1="380" y1="1269.4" x2="393.5" y2="1269.4" stroke="#000" stroke-width="6"/>
<line x1="2139" y1="1269.4" x2="2125.5" y2="1269.4" stroke="#000" stroke-width="6"/>
<line x1="380" y1="1261" x2="393.5" y2="1261" stroke="#000" stroke-width="6"/>
<line x1="2139" y1="1261" x2="2125.5" y2="1261" stroke="#000" stroke-width="6"/>
<line x1="380" y1="1253.7" x2="393.5" y2="1253.7" stroke="#000" stroke-width="6"/>
<line x1="2139" y1="1253.7" x2="2125.5" y2="1253.7" stroke="#000" stroke-width="6"/>
<line x1="380" y1="1247.2" x2="393.5" y2="1247.2" stroke="#000" stroke-width="6"/>
<line x1="2139" y1="1247.2" x2="2125.5" y2="1247.2" stroke="#000" stroke-width="6"/>
</g>
<g fill="#ffff80" stroke="#000" stroke-width="4.45">
<circle cx="399.2" cy="1252.1" r="12.9"/>
<circle cx="412.9" cy="1331.8" r="12.9"/>
<circle cx="445.7" cy="1266.7" r="12.9"/>
<circle cx="479" cy="1216.7" r="12.9"/>
<circle cx="511.5" cy="1274.2" r="12.9"/>
<circle cx="544.3" cy="1249" r="12.9"/>
<circle cx="577" cy="1231.9" r="12.9"/>
<circle cx="1560.8" cy="223" r="12.9"/>
</g>
<g id="main-labels" class="b">
<text x="315" y="203.9" font-size="115.5" text-anchor="end">10</text>
<text x="350.5" y="157.9" font-size="78.5" text-anchor="end">2</text>
<text x="315" y="638" font-size="115.5" text-anchor="end">10</text>
<text x="350.5" y="592" font-size="78.5" text-anchor="end">1</text>
<text x="315" y="1072.1" font-size="115.5" text-anchor="end">10</text>
<text x="350.5" y="1026.1" font-size="78.5" text-anchor="end">0</text>
<text x="289" y="1285" font-size="115.5" text-anchor="end">10</text>
<text x="350.5" y="1239" font-size="78.5" text-anchor="end">-2</text>
<text x="289" y="1408.5" font-size="115.5" text-anchor="end">10</text>
<text x="350.5" y="1362.5" font-size="78.5" text-anchor="end">-3</text>
<text x="381" y="1495.5" font-size="115.5" text-anchor="middle">0</text>
<text x="511.7" y="1495.5" font-size="115.5" text-anchor="middle">20</text>
<text x="694" y="1495.5" font-size="115.5" text-anchor="middle">80</text>
<text x="958.5" y="1495.5" font-size="115.5" text-anchor="middle">120</text>
<text x="1221" y="1495.5" font-size="115.5" text-anchor="middle">160</text>
<text x="1483.7" y="1495.5" font-size="115.5" text-anchor="middle">200</text>
<text x="1748" y="1495.5" font-size="115.5" text-anchor="middle">240</text>
<text x="2010.9" y="1495.5" font-size="115.5" text-anchor="middle">280</text>
</g>
<text transform="translate(1046 1647) skewX(-4)" font-size="115" class="bi" stroke="#000" stroke-width="0.92">T</text>
<text transform="translate(1171 1647) scale(1.025 1)" font-size="115" stroke="#000" stroke-width="1.21">(K)</text>
<g transform="translate(135.5 947) rotate(-90)">
<text transform="translate(9.7 0) skewX(-8) scale(1.1 1)" font-size="115" class="bi" stroke="#000" stroke-width="0.92">ρ</text>
<text transform="translate(124.5 0) scale(1.0 1)" font-size="115" stroke="#000" stroke-width="1.21">(</text>
<text transform="translate(159.7 0) scale(1.083 1)" font-size="115" stroke="#000" stroke-width="1.21">Ω</text>
<text transform="translate(247.5 0) scale(1.015 1)" font-size="115" stroke="#000" stroke-width="1.21">cm)</text>
</g>
<g id="inset">
<clipPath id="ic"><rect x="942.3" y="544.3" width="885.3" height="622.7"/></clipPath>
<g clip-path="url(#ic)"><g fill="#f00" stroke="#000" stroke-width="1.2" shape-rendering="crispEdges">
<rect x="1873.7" y="592.1" width="10.4" height="10.4" fill="#000"/>
<rect x="1873.8" y="593" width="10.4" height="10.4" fill="#000"/>
<rect x="1872.6" y="591.9" width="10.4" height="10.4" fill="#000"/>
<rect x="1867.4" y="592.3" width="10.4" height="10.4" fill="#000"/>
<rect x="1868" y="593.1" width="10.4" height="10.4" fill="#000"/>
<rect x="1862.3" y="592.9" width="10.4" height="10.4" fill="#000"/>
<rect x="1863.7" y="593.3" width="10.4" height="10.4" fill="#000"/>
<rect x="1857.1" y="593.9" width="10.4" height="10.4" fill="#000"/>
<rect x="1858.8" y="593.9" width="10.4" height="10.4" fill="#000"/>
<rect x="1853.6" y="592.8" width="10.4" height="10.4" fill="#000"/>
<rect x="1854.5" y="594.5" width="10.4" height="10.4" fill="#000"/>
<rect x="1851.7" y="594.2" width="10.4" height="10.4" fill="#000"/>
<rect x="1847.9" y="594.7" width="10.4" height="10.4" fill="#000"/>
<rect x="1846.7" y="594.8" width="10.4" height="10.4" fill="#000"/>
<rect x="1840.9" y="593.7" width="10.4" height="10.4" fill="#000"/>
<rect x="1843.5" y="593.3" width="10.4" height="10.4" fill="#000"/>
<rect x="1841.3" y="594.7" width="10.4" height="10.4" fill="#000"/>
<rect x="1834.2" y="593.9" width="10.4" height="10.4" fill="#000"/>
<rect x="1833.3" y="594.9" width="10.4" height="10.4" fill="#000"/>
<rect x="1834.1" y="594.5" width="10.4" height="10.4" fill="#000"/>
<rect x="1832.4" y="595.6" width="10.4" height="10.4" fill="#000"/>
<rect x="1828.6" y="596.1" width="10.4" height="10.4" fill="#000"/>
<rect x="1826.3" y="594.6" width="10.4" height="10.4" fill="#000"/>
<rect x="1823.4" y="595.3" width="10.4" height="10.4" fill="#000"/>
<rect x="1820.8" y="595.7" width="10.4" height="10.4" fill="#000"/>
<rect x="1822" y="595.5" width="10.4" height="10.4"/>
<rect x="1816.1" y="595.3" width="10.4" height="10.4" fill="#000"/>
<rect x="1811.8" y="596.1" width="10.4" height="10.4" fill="#000"/>
<rect x="1812.1" y="595.5" width="10.4" height="10.4" fill="#000"/>
<rect x="1811.3" y="596.7" width="10.4" height="10.4" fill="#000"/>
<rect x="1808.1" y="595.3" width="10.4" height="10.4"/>
<rect x="1803.6" y="596.1" width="10.4" height="10.4" fill="#000"/>
<rect x="1801.6" y="596.2" width="10.4" height="10.4" fill="#000"/>
<rect x="1801.2" y="596.8" width="10.4" height="10.4" fill="#000"/>
<rect x="1801.4" y="596.6" width="10.4" height="10.4" fill="#000"/>
<rect x="1801.1" y="597.2" width="10.4" height="10.4" fill="#000"/>
<rect x="1795.8" y="596.6" width="10.4" height="10.4" fill="#000"/>
<rect x="1795.1" y="597.8" width="10.4" height="10.4" fill="#000"/>
<rect x="1794.7" y="597.4" width="10.4" height="10.4" fill="#000"/>
<rect x="1792.1" y="597.6" width="10.4" height="10.4"/>
<rect x="1787.5" y="596.8" width="10.4" height="10.4" fill="#000"/>
<rect x="1788.6" y="597.5" width="10.4" height="10.4" fill="#000"/>
<rect x="1783.8" y="598.2" width="10.4" height="10.4"/>
<rect x="1781.1" y="597.2" width="10.4" height="10.4" fill="#000"/>
<rect x="1782" y="598.3" width="10.4" height="10.4"/>
<rect x="1777" y="598.1" width="10.4" height="10.4" fill="#000"/>
<rect x="1771.3" y="598.8" width="10.4" height="10.4"/>
<rect x="1771.5" y="599" width="10.4" height="10.4" fill="#000"/>
<rect x="1767.6" y="598.8" width="10.4" height="10.4"/>
<rect x="1763.5" y="599.3" width="10.4" height="10.4"/>
<rect x="1757.8" y="599.9" width="10.4" height="10.4" fill="#000"/>
<rect x="1758.5" y="599" width="10.4" height="10.4" fill="#000"/>
<rect x="1758" y="599.7" width="10.4" height="10.4" fill="#000"/>
<rect x="1755.6" y="599.7" width="10.4" height="10.4"/>
<rect x="1752.8" y="599.5" width="10.4" height="10.4" fill="#000"/>
<rect x="1750.1" y="601.7" width="10.4" height="10.4" fill="#000"/>
<rect x="1749.1" y="601" width="10.4" height="10.4" fill="#000"/>
<rect x="1748.9" y="601.1" width="10.4" height="10.4" fill="#000"/>
<rect x="1745.3" y="600.6" width="10.4" height="10.4" fill="#000"/>
<rect x="1744.2" y="601.6" width="10.4" height="10.4" fill="#000"/>
<rect x="1743.4" y="600.7" width="10.4" height="10.4" fill="#000"/>
<rect x="1738.2" y="601.3" width="10.4" height="10.4" fill="#000"/>
<rect x="1740.4" y="600.8" width="10.4" height="10.4"/>
<rect x="1735.4" y="602.4" width="10.4" height="10.4" fill="#000"/>
<rect x="1735.2" y="601.2" width="10.4" height="10.4"/>
<rect x="1727.6" y="601.9" width="10.4" height="10.4"/>
<rect x="1725.2" y="602.3" width="10.4" height="10.4"/>
<rect x="1722.3" y="601.7" width="10.4" height="10.4" fill="#000"/>
<rect x="1720.2" y="602.6" width="10.4" height="10.4" fill="#000"/>
<rect x="1716.4" y="602.3" width="10.4" height="10.4"/>
<rect x="1714.1" y="603.9" width="10.4" height="10.4"/>
<rect x="1709.8" y="604.6" width="10.4" height="10.4"/>
<rect x="1704.3" y="604.5" width="10.4" height="10.4" fill="#000"/>
<rect x="1702.8" y="604.9" width="10.4" height="10.4" fill="#000"/>
<rect x="1703.7" y="605" width="10.4" height="10.4" fill="#000"/>
<rect x="1702.1" y="605.3" width="10.4" height="10.4"/>
<rect x="1700.2" y="604.5" width="10.4" height="10.4" fill="#000"/>
<rect x="1697.4" y="605.7" width="10.4" height="10.4" fill="#000"/>
<rect x="1695.8" y="605.3" width="10.4" height="10.4" fill="#000"/>
<rect x="1693.7" y="605.1" width="10.4" height="10.4"/>
<rect x="1688.6" y="606.1" width="10.4" height="10.4"/>
<rect x="1683.3" y="605.4" width="10.4" height="10.4" fill="#000"/>
<rect x="1686.2" y="605.6" width="10.4" height="10.4"/>
<rect x="1678" y="606.1" width="10.4" height="10.4" fill="#000"/>
<rect x="1680.3" y="606.1" width="10.4" height="10.4" fill="#000"/>
<rect x="1676.4" y="608.1" width="10.4" height="10.4" fill="#000"/>
<rect x="1678.1" y="606.1" width="10.4" height="10.4" fill="#000"/>
<rect x="1673.4" y="607.8" width="10.4" height="10.4"/>
<rect x="1672.3" y="608.4" width="10.4" height="10.4" fill="#000"/>
<rect x="1670.3" y="607" width="10.4" height="10.4" fill="#000"/>
<rect x="1668.3" y="608.5" width="10.4" height="10.4" fill="#000"/>
<rect x="1664.2" y="607.2" width="10.4" height="10.4" fill="#000"/>
<rect x="1666.4" y="607" width="10.4" height="10.4" fill="#000"/>
<rect x="1662.9" y="607.4" width="10.4" height="10.4"/>
<rect x="1658.7" y="607.4" width="10.4" height="10.4"/>
<rect x="1654.3" y="607.8" width="10.4" height="10.4" fill="#000"/>
<rect x="1655.8" y="608.2" width="10.4" height="10.4"/>
<rect x="1650.3" y="608.4" width="10.4" height="10.4" fill="#000"/>
<rect x="1649.4" y="608.1" width="10.4" height="10.4" fill="#000"/>
<rect x="1647.4" y="609.7" width="10.4" height="10.4" fill="#000"/>
<rect x="1647.6" y="610.1" width="10.4" height="10.4" fill="#000"/>
<rect x="1645" y="610.4" width="10.4" height="10.4" fill="#000"/>
<rect x="1643.7" y="610.3" width="10.4" height="10.4" fill="#000"/>
<rect x="1642.2" y="609.5" width="10.4" height="10.4" fill="#000"/>
<rect x="1640.6" y="608.7" width="10.4" height="10.4" fill="#000"/>
<rect x="1641.7" y="608.9" width="10.4" height="10.4" fill="#000"/>
<rect x="1638.1" y="609.7" width="10.4" height="10.4"/>
<rect x="1633.4" y="609.3" width="10.4" height="10.4" fill="#000"/>
<rect x="1633.4" y="610.4" width="10.4" height="10.4"/>
<rect x="1626.7" y="611.5" width="10.4" height="10.4"/>
<rect x="1624.5" y="610.1" width="10.4" height="10.4" fill="#000"/>
<rect x="1626" y="610.2" width="10.4" height="10.4" fill="#000"/>
<rect x="1621.6" y="609.3" width="10.4" height="10.4" fill="#000"/>
<rect x="1621.9" y="609.2" width="10.4" height="10.4" fill="#000"/>
<rect x="1619.7" y="610.4" width="10.4" height="10.4" fill="#000"/>
<rect x="1616.5" y="611.6" width="10.4" height="10.4" fill="#000"/>
<rect x="1616" y="610" width="10.4" height="10.4" fill="#000"/>
<rect x="1616.5" y="609.4" width="10.4" height="10.4"/>
<rect x="1612.6" y="610.4" width="10.4" height="10.4" fill="#000"/>
<rect x="1610.5" y="609.6" width="10.4" height="10.4" fill="#000"/>
<rect x="1610.6" y="610.4" width="10.4" height="10.4" fill="#000"/>
<rect x="1608.3" y="610.1" width="10.4" height="10.4" fill="#000"/>
<rect x="1605" y="610.8" width="10.4" height="10.4" fill="#000"/>
<rect x="1603.7" y="610.5" width="10.4" height="10.4" fill="#000"/>
<rect x="1601.5" y="611.1" width="10.4" height="10.4" fill="#000"/>
<rect x="1600.2" y="609.3" width="10.4" height="10.4" fill="#000"/>
<rect x="1598.2" y="609.9" width="10.4" height="10.4" fill="#000"/>
<rect x="1598.3" y="611.2" width="10.4" height="10.4" fill="#000"/>
<rect x="1597.2" y="610.6" width="10.4" height="10.4" fill="#000"/>
<rect x="1594.3" y="610.1" width="10.4" height="10.4" fill="#000"/>
<rect x="1595.7" y="610.4" width="10.4" height="10.4" fill="#000"/>
<rect x="1590.5" y="610.9" width="10.4" height="10.4" fill="#000"/>
<rect x="1593" y="611.7" width="10.4" height="10.4" fill="#000"/>
<rect x="1591.9" y="612.1" width="10.4" height="10.4" fill="#000"/>
<rect x="1586.4" y="611" width="10.4" height="10.4" fill="#000"/>
<rect x="1586.3" y="610.6" width="10.4" height="10.4" fill="#000"/>
<rect x="1583.8" y="611.2" width="10.4" height="10.4" fill="#000"/>
<rect x="1583.8" y="611.2" width="10.4" height="10.4" fill="#000"/>
<rect x="1582.1" y="611.4" width="10.4" height="10.4" fill="#000"/>
<rect x="1580.9" y="612.6" width="10.4" height="10.4" fill="#000"/>
<rect x="1579.7" y="612" width="10.4" height="10.4" fill="#000"/>
<rect x="1577.9" y="613.1" width="10.4" height="10.4" fill="#000"/>
<rect x="1579.3" y="613.4" width="10.4" height="10.4" fill="#000"/>
<rect x="1573" y="611.3" width="10.4" height="10.4" fill="#000"/>
<rect x="1572.3" y="612.9" width="10.4" height="10.4" fill="#000"/>
<rect x="1570.2" y="611.9" width="10.4" height="10.4" fill="#000"/>
<rect x="1570.1" y="613.5" width="10.4" height="10.4" fill="#000"/>
<rect x="1570" y="613.1" width="10.4" height="10.4" fill="#000"/>
<rect x="1568.7" y="613.2" width="10.4" height="10.4" fill="#000"/>
<rect x="1565.9" y="611.9" width="10.4" height="10.4" fill="#000"/>
<rect x="1567.3" y="613" width="10.4" height="10.4" fill="#000"/>
<rect x="1566" y="614.4" width="10.4" height="10.4" fill="#000"/>
<rect x="1561.3" y="613.2" width="10.4" height="10.4" fill="#000"/>
<rect x="1559.5" y="613.7" width="10.4" height="10.4" fill="#000"/>
<rect x="1562.3" y="614" width="10.4" height="10.4" fill="#000"/>
<rect x="1558.4" y="612.5" width="10.4" height="10.4" fill="#000"/>
<rect x="1555.4" y="614" width="10.4" height="10.4" fill="#000"/>
<rect x="1556.6" y="615.2" width="10.4" height="10.4" fill="#000"/>
<rect x="1554.3" y="615" width="10.4" height="10.4" fill="#000"/>
<rect x="1555.2" y="615.6" width="10.4" height="10.4" fill="#000"/>
<rect x="1552.3" y="614" width="10.4" height="10.4" fill="#000"/>
<rect x="1550.5" y="613.3" width="10.4" height="10.4" fill="#000"/>
<rect x="1549.4" y="613.7" width="10.4" height="10.4" fill="#000"/>
<rect x="1547.9" y="616.3" width="10.4" height="10.4" fill="#000"/>
<rect x="1544" y="615.8" width="10.4" height="10.4" fill="#000"/>
<rect x="1542.6" y="616" width="10.4" height="10.4" fill="#000"/>
<rect x="1544.4" y="614.4" width="10.4" height="10.4" fill="#000"/>
<rect x="1540.2" y="614.3" width="10.4" height="10.4" fill="#000"/>
<rect x="1536.5" y="616.9" width="10.4" height="10.4" fill="#000"/>
<rect x="1535.7" y="615.2" width="10.4" height="10.4" fill="#000"/>
<rect x="1533" y="615" width="10.4" height="10.4" fill="#000"/>
<rect x="1532.6" y="615.1" width="10.4" height="10.4" fill="#000"/>
<rect x="1529.4" y="618.1" width="10.4" height="10.4" fill="#000"/>
<rect x="1531.2" y="616.4" width="10.4" height="10.4" fill="#000"/>
<rect x="1524.2" y="618.6" width="10.4" height="10.4" fill="#000"/>
<rect x="1525.2" y="616.8" width="10.4" height="10.4" fill="#000"/>
<rect x="1524.6" y="616.6" width="10.4" height="10.4" fill="#000"/>
<rect x="1521.9" y="619.2" width="10.4" height="10.4" fill="#000"/>
<rect x="1521.2" y="617.8" width="10.4" height="10.4" fill="#000"/>
<rect x="1519.7" y="617.6" width="10.4" height="10.4" fill="#000"/>
<rect x="1517.5" y="617.8" width="10.4" height="10.4" fill="#000"/>
<rect x="1513.1" y="618.7" width="10.4" height="10.4" fill="#000"/>
<rect x="1510.7" y="619.6" width="10.4" height="10.4" fill="#000"/>
<rect x="1510.5" y="618.6" width="10.4" height="10.4" fill="#000"/>
<rect x="1504.6" y="619.1" width="10.4" height="10.4" fill="#000"/>
<rect x="1505" y="620.8" width="10.4" height="10.4" fill="#000"/>
<rect x="1503.7" y="619.3" width="10.4" height="10.4" fill="#000"/>
<rect x="1499.8" y="620.2" width="10.4" height="10.4" fill="#000"/>
<rect x="1500.1" y="621.2" width="10.4" height="10.4" fill="#000"/>
<rect x="1496.2" y="620.9" width="10.4" height="10.4" fill="#000"/>
<rect x="1494.4" y="623.6" width="10.4" height="10.4" fill="#000"/>
<rect x="1493.9" y="622.1" width="10.4" height="10.4" fill="#000"/>
<rect x="1492.9" y="623.1" width="10.4" height="10.4" fill="#000"/>
<rect x="1490.7" y="622.8" width="10.4" height="10.4" fill="#000"/>
<rect x="1488.6" y="625" width="10.4" height="10.4" fill="#000"/>
<rect x="1490.9" y="625.3" width="10.4" height="10.4" fill="#000"/>
<rect x="1485.8" y="624.8" width="10.4" height="10.4" fill="#000"/>
<rect x="1482.9" y="624.1" width="10.4" height="10.4" fill="#000"/>
<rect x="1485" y="624.5" width="10.4" height="10.4" fill="#000"/>
<rect x="1478.4" y="625" width="10.4" height="10.4" fill="#000"/>
<rect x="1476.1" y="627.6" width="10.4" height="10.4" fill="#000"/>
<rect x="1471.7" y="626.4" width="10.4" height="10.4" fill="#000"/>
<rect x="1471.2" y="626.3" width="10.4" height="10.4" fill="#000"/>
<rect x="1469.3" y="629.7" width="10.4" height="10.4" fill="#000"/>
<rect x="1465.1" y="627.9" width="10.4" height="10.4" fill="#000"/>
<rect x="1465.4" y="628.3" width="10.4" height="10.4" fill="#000"/>
<rect x="1461.2" y="630.2" width="10.4" height="10.4" fill="#000"/>
<rect x="1459.2" y="629.3" width="10.4" height="10.4" fill="#000"/>
<rect x="1458.6" y="631.2" width="10.4" height="10.4" fill="#000"/>
<rect x="1458.3" y="629.5" width="10.4" height="10.4" fill="#000"/>
<rect x="1454.9" y="630.8" width="10.4" height="10.4" fill="#000"/>
<rect x="1456.6" y="629.8" width="10.4" height="10.4" fill="#000"/>
<rect x="1452.6" y="632" width="10.4" height="10.4" fill="#000"/>
<rect x="1452.2" y="629.9" width="10.4" height="10.4" fill="#000"/>
<rect x="1449.7" y="631.4" width="10.4" height="10.4" fill="#000"/>
<rect x="1450.2" y="631.4" width="10.4" height="10.4" fill="#000"/>
<rect x="1448.1" y="633.4" width="10.4" height="10.4" fill="#000"/>
<rect x="1446.9" y="631.9" width="10.4" height="10.4" fill="#000"/>
<rect x="1443" y="632.9" width="10.4" height="10.4" fill="#000"/>
<rect x="1441.7" y="633.3" width="10.4" height="10.4" fill="#000"/>
<rect x="1439.5" y="635.5" width="10.4" height="10.4" fill="#000"/>
<rect x="1432.9" y="634.9" width="10.4" height="10.4" fill="#000"/>
<rect x="1433.3" y="634.5" width="10.4" height="10.4" fill="#000"/>
<rect x="1429.5" y="636.4" width="10.4" height="10.4" fill="#000"/>
<rect x="1429.1" y="635.9" width="10.4" height="10.4" fill="#000"/>
<rect x="1428.2" y="637.3" width="10.4" height="10.4" fill="#000"/>
<rect x="1429" y="634" width="10.4" height="10.4" fill="#000"/>
<rect x="1424.6" y="636" width="10.4" height="10.4" fill="#000"/>
<rect x="1424.6" y="637" width="10.4" height="10.4" fill="#000"/>
<rect x="1422.6" y="636.6" width="10.4" height="10.4" fill="#000"/>
<rect x="1420.8" y="635.6" width="10.4" height="10.4" fill="#000"/>
<rect x="1418.2" y="635.4" width="10.4" height="10.4" fill="#000"/>
<rect x="1419.2" y="639" width="10.4" height="10.4" fill="#000"/>
<rect x="1418.3" y="638.7" width="10.4" height="10.4" fill="#000"/>
<rect x="1417.6" y="639.3" width="10.4" height="10.4" fill="#000"/>
<rect x="1412.6" y="636.9" width="10.4" height="10.4" fill="#000"/>
<rect x="1411.8" y="636.8" width="10.4" height="10.4" fill="#000"/>
<rect x="1406.9" y="640.6" width="10.4" height="10.4" fill="#000"/>
<rect x="1406.9" y="639.6" width="10.4" height="10.4" fill="#000"/>
<rect x="1407.7" y="637.7" width="10.4" height="10.4" fill="#000"/>
<rect x="1406" y="639.4" width="10.4" height="10.4" fill="#000"/>
<rect x="1401.3" y="638.4" width="10.4" height="10.4" fill="#000"/>
<rect x="1400.1" y="640.7" width="10.4" height="10.4" fill="#000"/>
<rect x="1397.8" y="642.4" width="10.4" height="10.4" fill="#000"/>
<rect x="1392.7" y="639.9" width="10.4" height="10.4" fill="#000"/>
<rect x="1392.5" y="644.3" width="10.4" height="10.4" fill="#000"/>
<rect x="1389.3" y="643.9" width="10.4" height="10.4" fill="#000"/>
<rect x="1385.7" y="642" width="10.4" height="10.4" fill="#000"/>
<rect x="1384.9" y="645.6" width="10.4" height="10.4" fill="#000"/>
<rect x="1382" y="643.8" width="10.4" height="10.4" fill="#000"/>
<rect x="1381.4" y="643" width="10.4" height="10.4" fill="#000"/>
<rect x="1382.6" y="646.5" width="10.4" height="10.4" fill="#000"/>
<rect x="1378.8" y="643.7" width="10.4" height="10.4" fill="#000"/>
<rect x="1378" y="646.4" width="10.4" height="10.4" fill="#000"/>
<rect x="1377.2" y="644.9" width="10.4" height="10.4" fill="#000"/>
<rect x="1377.9" y="646.9" width="10.4" height="10.4" fill="#000"/>
<rect x="1376.3" y="647.9" width="10.4" height="10.4" fill="#000"/>
<rect x="1374.3" y="648" width="10.4" height="10.4" fill="#000"/>
<rect x="1374.1" y="648.3" width="10.4" height="10.4" fill="#000"/>
<rect x="1371.4" y="649" width="10.4" height="10.4" fill="#000"/>
<rect x="1370.1" y="648.4" width="10.4" height="10.4" fill="#000"/>
<rect x="1371.6" y="645.6" width="10.4" height="10.4" fill="#000"/>
<rect x="1367.9" y="646" width="10.4" height="10.4" fill="#000"/>
<rect x="1362.4" y="646.6" width="10.4" height="10.4" fill="#000"/>
<rect x="1364.1" y="648.5" width="10.4" height="10.4" fill="#000"/>
<rect x="1363.2" y="646.7" width="10.4" height="10.4" fill="#000"/>
<rect x="1359.3" y="648.1" width="10.4" height="10.4" fill="#000"/>
<rect x="1359.7" y="649.4" width="10.4" height="10.4" fill="#000"/>
<rect x="1357.2" y="649" width="10.4" height="10.4" fill="#000"/>
<rect x="1356.8" y="650.5" width="10.4" height="10.4" fill="#000"/>
<rect x="1357.3" y="650.9" width="10.4" height="10.4" fill="#000"/>
<rect x="1354.3" y="649.1" width="10.4" height="10.4" fill="#000"/>
<rect x="1355.4" y="648" width="10.4" height="10.4" fill="#000"/>
<rect x="1353.9" y="650.1" width="10.4" height="10.4" fill="#000"/>
<rect x="1353.2" y="650.9" width="10.4" height="10.4" fill="#000"/>
<rect x="1349.6" y="650.8" width="10.4" height="10.4" fill="#000"/>
<rect x="1351" y="650.4" width="10.4" height="10.4" fill="#000"/>
<rect x="1349.4" y="648.9" width="10.4" height="10.4" fill="#000"/>
<rect x="1349.1" y="648.8" width="10.4" height="10.4" fill="#000"/>
<rect x="1348.3" y="649.4" width="10.4" height="10.4" fill="#000"/>
<rect x="1344.9" y="652.4" width="10.4" height="10.4" fill="#000"/>
<rect x="1344.6" y="652.3" width="10.4" height="10.4" fill="#000"/>
<rect x="1342.4" y="653.3" width="10.4" height="10.4" fill="#000"/>
<rect x="1340.9" y="650.2" width="10.4" height="10.4" fill="#000"/>
<rect x="1335.6" y="651" width="10.4" height="10.4" fill="#000"/>
<rect x="1337.9" y="653.9" width="10.4" height="10.4" fill="#000"/>
<rect x="1333.9" y="655.1" width="10.4" height="10.4" fill="#000"/>
<rect x="1333.4" y="654.3" width="10.4" height="10.4" fill="#000"/>
<rect x="1331.5" y="655.7" width="10.4" height="10.4" fill="#000"/>
<rect x="1331" y="654.6" width="10.4" height="10.4" fill="#000"/>
<rect x="1332.4" y="656.2" width="10.4" height="10.4" fill="#000"/>
<rect x="1328.9" y="654.2" width="10.4" height="10.4" fill="#000"/>
<rect x="1330.2" y="654.8" width="10.4" height="10.4" fill="#000"/>
<rect x="1326.5" y="656" width="10.4" height="10.4" fill="#000"/>
<rect x="1326.7" y="656.6" width="10.4" height="10.4" fill="#000"/>
<rect x="1327" y="654.1" width="10.4" height="10.4" fill="#000"/>
<rect x="1324" y="656.8" width="10.4" height="10.4" fill="#000"/>
<rect x="1325.3" y="657.4" width="10.4" height="10.4" fill="#000"/>
<rect x="1322.3" y="655.9" width="10.4" height="10.4" fill="#000"/>
<rect x="1322.6" y="657.4" width="10.4" height="10.4"/>
<rect x="1320.9" y="652.4" width="10.4" height="10.4"/>
<rect x="1317.3" y="650.2" width="10.4" height="10.4" fill="#000"/>
<rect x="1318.4" y="652.2" width="10.4" height="10.4" fill="#000"/>
<rect x="1313.6" y="650.1" width="10.4" height="10.4" fill="#000"/>
<rect x="1310.8" y="651.2" width="10.4" height="10.4" fill="#000"/>
<rect x="1309.5" y="650" width="10.4" height="10.4" fill="#000"/>
<rect x="1308.3" y="647.7" width="10.4" height="10.4" fill="#000"/>
<rect x="1308.5" y="651.4" width="10.4" height="10.4" fill="#000"/>
<rect x="1304.2" y="649.5" width="10.4" height="10.4" fill="#000"/>
<rect x="1303.3" y="650.7" width="10.4" height="10.4" fill="#000"/>
<rect x="1302.9" y="649" width="10.4" height="10.4" fill="#000"/>
<rect x="1299.4" y="652.8" width="10.4" height="10.4" fill="#000"/>
<rect x="1298.3" y="651.2" width="10.4" height="10.4" fill="#000"/>
<rect x="1298.6" y="651.9" width="10.4" height="10.4" fill="#000"/>
<rect x="1296" y="652.2" width="10.4" height="10.4" fill="#000"/>
<rect x="1296.2" y="651.7" width="10.4" height="10.4" fill="#000"/>
<rect x="1292.7" y="651.3" width="10.4" height="10.4" fill="#000"/>
<rect x="1293.4" y="652.4" width="10.4" height="10.4" fill="#000"/>
<rect x="1292.2" y="652.5" width="10.4" height="10.4" fill="#000"/>
<rect x="1292.3" y="652.3" width="10.4" height="10.4" fill="#000"/>
<rect x="1288.2" y="654.3" width="10.4" height="10.4" fill="#000"/>
<rect x="1288.7" y="654.5" width="10.4" height="10.4" fill="#000"/>
<rect x="1287.6" y="657.1" width="10.4" height="10.4" fill="#000"/>
<rect x="1283.3" y="657.1" width="10.4" height="10.4" fill="#000"/>
<rect x="1285.1" y="658" width="10.4" height="10.4" fill="#000"/>
<rect x="1283.8" y="655.1" width="10.4" height="10.4" fill="#000"/>
<rect x="1281.9" y="659.3" width="10.4" height="10.4" fill="#000"/>
<rect x="1278.4" y="659.2" width="10.4" height="10.4" fill="#000"/>
<rect x="1278.4" y="658.3" width="10.4" height="10.4" fill="#000"/>
<rect x="1275" y="658.9" width="10.4" height="10.4" fill="#000"/>
<rect x="1271.6" y="661.8" width="10.4" height="10.4" fill="#000"/>
<rect x="1267.9" y="660" width="10.4" height="10.4" fill="#000"/>
<rect x="1271.1" y="663.2" width="10.4" height="10.4" fill="#000"/>
<rect x="1266.1" y="662.7" width="10.4" height="10.4" fill="#000"/>
<rect x="1266.3" y="664.9" width="10.4" height="10.4" fill="#000"/>
<rect x="1264.6" y="665.2" width="10.4" height="10.4" fill="#000"/>
<rect x="1262.6" y="662.3" width="10.4" height="10.4" fill="#000"/>
<rect x="1264.2" y="664" width="10.4" height="10.4" fill="#000"/>
<rect x="1259.6" y="666.4" width="10.4" height="10.4" fill="#000"/>
<rect x="1258.2" y="663.2" width="10.4" height="10.4" fill="#000"/>
<rect x="1258.1" y="666.8" width="10.4" height="10.4" fill="#000"/>
<rect x="1254.2" y="666.8" width="10.4" height="10.4" fill="#000"/>
<rect x="1256.1" y="665.2" width="10.4" height="10.4" fill="#000"/>
<rect x="1252.6" y="668.5" width="10.4" height="10.4" fill="#000"/>
<rect x="1253.5" y="669.7" width="10.4" height="10.4" fill="#000"/>
<rect x="1251.2" y="667.1" width="10.4" height="10.4" fill="#000"/>
<rect x="1247.5" y="667.8" width="10.4" height="10.4" fill="#000"/>
<rect x="1246.4" y="668.6" width="10.4" height="10.4" fill="#000"/>
<rect x="1251.1" y="670.6" width="10.4" height="10.4" fill="#000"/>
<rect x="1243.4" y="669" width="10.4" height="10.4" fill="#000"/>
<rect x="1247.8" y="671.9" width="10.4" height="10.4" fill="#000"/>
<rect x="1243.9" y="672.6" width="10.4" height="10.4" fill="#000"/>
<rect x="1243.7" y="674.5" width="10.4" height="10.4" fill="#000"/>
<rect x="1243.5" y="672.8" width="10.4" height="10.4" fill="#000"/>
<rect x="1245.9" y="675" width="10.4" height="10.4" fill="#000"/>
<rect x="1237.2" y="672.4" width="10.4" height="10.4" fill="#000"/>
<rect x="1236.4" y="673.5" width="10.4" height="10.4" fill="#000"/>
<rect x="1234.8" y="673.5" width="10.4" height="10.4" fill="#000"/>
<rect x="1233.2" y="678.1" width="10.4" height="10.4" fill="#000"/>
<rect x="1234.2" y="677.4" width="10.4" height="10.4" fill="#000"/>
<rect x="1233" y="677.8" width="10.4" height="10.4" fill="#000"/>
<rect x="1233.1" y="675" width="10.4" height="10.4" fill="#000"/>
<rect x="1231.5" y="678.8" width="10.4" height="10.4" fill="#000"/>
<rect x="1231.4" y="678.3" width="10.4" height="10.4" fill="#000"/>
<rect x="1226.8" y="679.5" width="10.4" height="10.4" fill="#000"/>
<rect x="1231.3" y="678.1" width="10.4" height="10.4" fill="#000"/>
<rect x="1231.8" y="678.8" width="10.4" height="10.4" fill="#000"/>
<rect x="1222.3" y="680.6" width="10.4" height="10.4" fill="#000"/>
<rect x="1227" y="681.3" width="10.4" height="10.4" fill="#000"/>
<rect x="1223.9" y="683.3" width="10.4" height="10.4" fill="#000"/>
<rect x="1226.3" y="683.9" width="10.4" height="10.4" fill="#000"/>
<rect x="1222.3" y="683.8" width="10.4" height="10.4" fill="#000"/>
<rect x="1221.4" y="685.1" width="10.4" height="10.4" fill="#000"/>
<rect x="1222.1" y="684.1" width="10.4" height="10.4" fill="#000"/>
<rect x="1214.9" y="684.2" width="10.4" height="10.4" fill="#000"/>
<rect x="1216.2" y="684.5" width="10.4" height="10.4" fill="#000"/>
<rect x="1218.3" y="684.7" width="10.4" height="10.4" fill="#000"/>
<rect x="1215.2" y="686" width="10.4" height="10.4" fill="#000"/>
<rect x="1213" y="686.8" width="10.4" height="10.4" fill="#000"/>
<rect x="1214.5" y="688.4" width="10.4" height="10.4" fill="#000"/>
<rect x="1214.3" y="687.6" width="10.4" height="10.4" fill="#000"/>
<rect x="1212" y="687.7" width="10.4" height="10.4" fill="#000"/>
<rect x="1212.4" y="690.2" width="10.4" height="10.4" fill="#000"/>
<rect x="1204.6" y="691.2" width="10.4" height="10.4" fill="#000"/>
<rect x="1206.1" y="690.5" width="10.4" height="10.4" fill="#000"/>
<rect x="1207.4" y="688.5" width="10.4" height="10.4" fill="#000"/>
<rect x="1204.7" y="691" width="10.4" height="10.4" fill="#000"/>
<rect x="1204.9" y="695" width="10.4" height="10.4" fill="#000"/>
<rect x="1198.2" y="693.7" width="10.4" height="10.4" fill="#000"/>
<rect x="1203.9" y="694.4" width="10.4" height="10.4" fill="#000"/>
<rect x="1199.9" y="693.2" width="10.4" height="10.4" fill="#000"/>
<rect x="1201.6" y="696.3" width="10.4" height="10.4" fill="#000"/>
<rect x="1193.8" y="694.2" width="10.4" height="10.4" fill="#000"/>
<rect x="1199.4" y="696.7" width="10.4" height="10.4" fill="#000"/>
<rect x="1196.8" y="695.5" width="10.4" height="10.4" fill="#000"/>
<rect x="1193.8" y="695.2" width="10.4" height="10.4" fill="#000"/>
<rect x="1191.2" y="697.3" width="10.4" height="10.4" fill="#000"/>
<rect x="1191" y="696.7" width="10.4" height="10.4" fill="#000"/>
<rect x="1188.2" y="699.5" width="10.4" height="10.4" fill="#000"/>
<rect x="1187.1" y="698.8" width="10.4" height="10.4" fill="#000"/>
<rect x="1185.1" y="702.2" width="10.4" height="10.4" fill="#000"/>
<rect x="1184.6" y="703.4" width="10.4" height="10.4" fill="#000"/>
<rect x="1182.9" y="701.8" width="10.4" height="10.4" fill="#000"/>
<rect x="1182.5" y="701.2" width="10.4" height="10.4" fill="#000"/>
<rect x="1181" y="704.4" width="10.4" height="10.4" fill="#000"/>
<rect x="1178.4" y="702.7" width="10.4" height="10.4" fill="#000"/>
<rect x="1178.9" y="705.6" width="10.4" height="10.4" fill="#000"/>
<rect x="1177.6" y="706.5" width="10.4" height="10.4" fill="#000"/>
<rect x="1174.5" y="707.8" width="10.4" height="10.4" fill="#000"/>
<rect x="1176.2" y="707" width="10.4" height="10.4" fill="#000"/>
<rect x="1173.8" y="709.5" width="10.4" height="10.4" fill="#000"/>
<rect x="1169.7" y="707.3" width="10.4" height="10.4" fill="#000"/>
<rect x="1171" y="709.8" width="10.4" height="10.4" fill="#000"/>
<rect x="1172.6" y="711" width="10.4" height="10.4" fill="#000"/>
<rect x="1172" y="710.1" width="10.4" height="10.4" fill="#000"/>
<rect x="1167.7" y="713" width="10.4" height="10.4" fill="#000"/>
<rect x="1162.5" y="713.2" width="10.4" height="10.4" fill="#000"/>
<rect x="1160.6" y="711.8" width="10.4" height="10.4" fill="#000"/>
<rect x="1158.8" y="715.4" width="10.4" height="10.4" fill="#000"/>
<rect x="1162.1" y="712.3" width="10.4" height="10.4" fill="#000"/>
<rect x="1164.4" y="717.1" width="10.4" height="10.4" fill="#000"/>
<rect x="1159.2" y="715.3" width="10.4" height="10.4" fill="#000"/>
<rect x="1155.6" y="714.3" width="10.4" height="10.4" fill="#000"/>
<rect x="1156.1" y="714.4" width="10.4" height="10.4" fill="#000"/>
<rect x="1153.7" y="718" width="10.4" height="10.4" fill="#000"/>
<rect x="1151.6" y="719.1" width="10.4" height="10.4"/>
<rect x="1151.6" y="720.1" width="10.4" height="10.4" fill="#000"/>
<rect x="1150.8" y="719.4" width="10.4" height="10.4" fill="#000"/>
<rect x="1147.4" y="722.5" width="10.4" height="10.4" fill="#000"/>
<rect x="1150.9" y="724.2" width="10.4" height="10.4" fill="#000"/>
<rect x="1147.7" y="724.3" width="10.4" height="10.4" fill="#000"/>
<rect x="1145.5" y="723.8" width="10.4" height="10.4"/>
<rect x="1140.1" y="728.5" width="10.4" height="10.4" fill="#000"/>
<rect x="1143.2" y="728.9" width="10.4" height="10.4"/>
<rect x="1133" y="749.3" width="10.4" height="10.4"/>
<rect x="1133.1" y="750" width="10.4" height="10.4"/>
<rect x="1133.2" y="746.5" width="10.4" height="10.4"/>
<rect x="1133.3" y="742.5" width="10.4" height="10.4"/>
<rect x="1133.4" y="743.1" width="10.4" height="10.4"/>
<rect x="1133.4" y="739.8" width="10.4" height="10.4"/>
<rect x="1133.5" y="733.9" width="10.4" height="10.4"/>
<rect x="1133.6" y="732.1" width="10.4" height="10.4"/>
<rect x="1133.6" y="731.1" width="10.4" height="10.4"/>
<rect x="1133.7" y="730.8" width="10.4" height="10.4"/>
<rect x="1128.3" y="749.4" width="10.4" height="10.4" fill="#000"/>
<rect x="1128" y="749.1" width="10.4" height="10.4" fill="#000"/>
<rect x="1126.6" y="750.6" width="10.4" height="10.4" fill="#000"/>
<rect x="1131.3" y="751.5" width="10.4" height="10.4" fill="#000"/>
<rect x="1127.8" y="750.6" width="10.4" height="10.4" fill="#000"/>
<rect x="1127.9" y="751.4" width="10.4" height="10.4" fill="#000"/>
<rect x="1125.7" y="750.4" width="10.4" height="10.4" fill="#000"/>
<rect x="1124.1" y="751" width="10.4" height="10.4"/>
<rect x="1120.9" y="756.3" width="10.4" height="10.4" fill="#000"/>
<rect x="1120.7" y="755.5" width="10.4" height="10.4"/>
<rect x="1118.6" y="758.5" width="10.4" height="10.4" fill="#000"/>
<rect x="1118.7" y="760.3" width="10.4" height="10.4" fill="#000"/>
<rect x="1115.3" y="760.5" width="10.4" height="10.4" fill="#000"/>
<rect x="1115" y="762.3" width="10.4" height="10.4" fill="#000"/>
<rect x="1114.7" y="762.3" width="10.4" height="10.4" fill="#000"/>
<rect x="1114.5" y="762.9" width="10.4" height="10.4" fill="#000"/>
<rect x="1112.8" y="762.9" width="10.4" height="10.4"/>
<rect x="1110.3" y="766.3" width="10.4" height="10.4" fill="#000"/>
<rect x="1110.8" y="767.4" width="10.4" height="10.4" fill="#000"/>
<rect x="1108.1" y="768" width="10.4" height="10.4"/>
<rect x="1107.7" y="769.6" width="10.4" height="10.4" fill="#000"/>
<rect x="1105.6" y="769" width="10.4" height="10.4" fill="#000"/>
<rect x="1104.5" y="770.1" width="10.4" height="10.4" fill="#000"/>
<rect x="1105.3" y="773.1" width="10.4" height="10.4" fill="#000"/>
<rect x="1102.3" y="773.3" width="10.4" height="10.4" fill="#000"/>
<rect x="1101.7" y="774.3" width="10.4" height="10.4" fill="#000"/>
<rect x="1102.4" y="775.5" width="10.4" height="10.4" fill="#000"/>
<rect x="1101.8" y="775" width="10.4" height="10.4" fill="#000"/>
<rect x="1099.5" y="777.4" width="10.4" height="10.4" fill="#000"/>
<rect x="1099.1" y="778.3" width="10.4" height="10.4" fill="#000"/>
<rect x="1099.4" y="778" width="10.4" height="10.4" fill="#000"/>
<rect x="1097" y="778.9" width="10.4" height="10.4" fill="#000"/>
<rect x="1096.6" y="780.7" width="10.4" height="10.4"/>
<rect x="1094.8" y="784.9" width="10.4" height="10.4" fill="#000"/>
<rect x="1092" y="783.8" width="10.4" height="10.4" fill="#000"/>
<rect x="1092.9" y="784.7" width="10.4" height="10.4"/>
<rect x="1089.2" y="788.9" width="10.4" height="10.4" fill="#000"/>
<rect x="1088.9" y="788.3" width="10.4" height="10.4"/>
<rect x="1088.4" y="789.9" width="10.4" height="10.4"/>
<rect x="1088.3" y="792.9" width="10.4" height="10.4"/>
<rect x="1086.1" y="795" width="10.4" height="10.4"/>
<rect x="1086.5" y="795" width="10.4" height="10.4"/>
<rect x="1085.1" y="796.8" width="10.4" height="10.4" fill="#000"/>
<rect x="1085" y="799.6" width="10.4" height="10.4" fill="#000"/>
<rect x="1083.8" y="800.3" width="10.4" height="10.4" fill="#000"/>
<rect x="1081.3" y="800.7" width="10.4" height="10.4" fill="#000"/>
<rect x="1081.6" y="801.9" width="10.4" height="10.4" fill="#000"/>
<rect x="1080.9" y="801.9" width="10.4" height="10.4" fill="#000"/>
<rect x="1080.4" y="803.4" width="10.4" height="10.4" fill="#000"/>
<rect x="1080.4" y="802.2" width="10.4" height="10.4" fill="#000"/>
<rect x="1078.9" y="804.3" width="10.4" height="10.4" fill="#000"/>
<rect x="1078.5" y="805.2" width="10.4" height="10.4"/>
<rect x="1077.6" y="807.7" width="10.4" height="10.4"/>
<rect x="1075.6" y="808.8" width="10.4" height="10.4"/>
<rect x="1074.7" y="812.8" width="10.4" height="10.4" fill="#000"/>
<rect x="1074.1" y="814.9" width="10.4" height="10.4" fill="#000"/>
<rect x="1071.2" y="816.3" width="10.4" height="10.4" fill="#000"/>
<rect x="1071.5" y="815.6" width="10.4" height="10.4" fill="#000"/>
<rect x="1069.6" y="818.4" width="10.4" height="10.4" fill="#000"/>
<rect x="1070.1" y="818" width="10.4" height="10.4" fill="#000"/>
<rect x="1069.2" y="818.5" width="10.4" height="10.4" fill="#000"/>
<rect x="1068.9" y="819.6" width="10.4" height="10.4"/>
<rect x="1067.5" y="823.6" width="10.4" height="10.4"/>
<rect x="1067.2" y="826.4" width="10.4" height="10.4"/>
<rect x="1066" y="828.6" width="10.4" height="10.4"/>
<rect x="1064.5" y="835" width="10.4" height="10.4"/>
<rect x="1065.6" y="838.4" width="10.4" height="10.4"/>
<rect x="1064.6" y="841.1" width="10.4" height="10.4"/>
<rect x="1063.5" y="843.9" width="10.4" height="10.4"/>
<rect x="1063.8" y="845.4" width="10.4" height="10.4"/>
<rect x="1063.8" y="847.4" width="10.4" height="10.4"/>
<rect x="1062.7" y="850.3" width="10.4" height="10.4"/>
<rect x="1061.5" y="853.7" width="10.4" height="10.4"/>
<rect x="1061.2" y="856.9" width="10.4" height="10.4"/>
<rect x="1061" y="857.6" width="10.4" height="10.4"/>
<rect x="1059.8" y="860.6" width="10.4" height="10.4"/>
<rect x="1059" y="868" width="10.4" height="10.4"/>
<rect x="1057.9" y="870.8" width="10.4" height="10.4"/>
<rect x="1057.6" y="874.4" width="10.4" height="10.4"/>
<rect x="1057.1" y="876.6" width="10.4" height="10.4"/>
<rect x="1057" y="878" width="10.4" height="10.4"/>
<rect x="1056" y="881.3" width="10.4" height="10.4"/>
<rect x="1053.6" y="883" width="10.4" height="10.4"/>
<rect x="1053.1" y="885.3" width="10.4" height="10.4"/>
<rect x="1054.5" y="889.1" width="10.4" height="10.4"/>
<rect x="1054" y="890" width="10.4" height="10.4"/>
<rect x="1050" y="896.2" width="10.4" height="10.4"/>
<rect x="1049.9" y="897.3" width="10.4" height="10.4"/>
<rect x="1047.5" y="904.8" width="10.4" height="10.4"/>
<rect x="1047.3" y="907.7" width="10.4" height="10.4" fill="#000"/>
<rect x="1047.3" y="909" width="10.4" height="10.4"/>
<rect x="1047.3" y="901.1" width="10.4" height="10.4"/>
<rect x="1047.3" y="899.6" width="10.4" height="10.4"/>
<rect x="1047.3" y="897.2" width="10.4" height="10.4"/>
<rect x="1047.3" y="892.7" width="10.4" height="10.4"/>
<rect x="1047.3" y="890.5" width="10.4" height="10.4"/>
<rect x="1047.3" y="883.4" width="10.4" height="10.4"/>
<rect x="1047.3" y="882.5" width="10.4" height="10.4"/>
<rect x="1047.3" y="879.9" width="10.4" height="10.4"/>
<rect x="1047.3" y="872.5" width="10.4" height="10.4"/>
<rect x="1047.3" y="869.8" width="10.4" height="10.4"/>
<rect x="1047.3" y="866.9" width="10.4" height="10.4"/>
<rect x="1047.3" y="864.2" width="10.4" height="10.4"/>
<rect x="1047.3" y="862.4" width="10.4" height="10.4"/>
<rect x="1047.3" y="859.2" width="10.4" height="10.4"/>
<rect x="1047.2" y="855.8" width="10.4" height="10.4"/>
<rect x="1047.7" y="852.7" width="10.4" height="10.4"/>
<rect x="1046.2" y="850.4" width="10.4" height="10.4"/>
<rect x="1046.6" y="848.5" width="10.4" height="10.4"/>
<rect x="1045" y="846.2" width="10.4" height="10.4"/>
<rect x="1046.5" y="842.4" width="10.4" height="10.4"/>
<rect x="1043.9" y="841.3" width="10.4" height="10.4" fill="#000"/>
<rect x="1045.1" y="839.6" width="10.4" height="10.4" fill="#000"/>
<rect x="1042.8" y="841.3" width="10.4" height="10.4" fill="#000"/>
<rect x="1043" y="840.8" width="10.4" height="10.4" fill="#000"/>
<rect x="1040.7" y="840.2" width="10.4" height="10.4" fill="#000"/>
<rect x="1038.1" y="838.6" width="10.4" height="10.4" fill="#000"/>
<rect x="1038.2" y="838.7" width="10.4" height="10.4" fill="#000"/>
<rect x="1036.6" y="838.6" width="10.4" height="10.4" fill="#000"/>
<rect x="1033.2" y="840.6" width="10.4" height="10.4" fill="#000"/>
<rect x="1034.5" y="839.4" width="10.4" height="10.4" fill="#000"/>
<rect x="1032.8" y="840.9" width="10.4" height="10.4" fill="#000"/>
<rect x="1032.4" y="841.4" width="10.4" height="10.4" fill="#000"/>
<rect x="1032.1" y="841.8" width="10.4" height="10.4" fill="#000"/>
<rect x="1031.8" y="842.3" width="10.4" height="10.4" fill="#000"/>
<rect x="1031.5" y="842.7" width="10.4" height="10.4" fill="#000"/>
<rect x="1030.6" y="844" width="10.4" height="10.4" fill="#000"/>
<rect x="1030.3" y="844.4" width="10.4" height="10.4" fill="#000"/>
<rect x="1029.4" y="846.4" width="10.4" height="10.4" fill="#000"/>
<rect x="1029" y="847.3" width="10.4" height="10.4" fill="#000"/>
<rect x="1028.7" y="848.2" width="10.4" height="10.4" fill="#000"/>
<rect x="1027.4" y="850.6" width="10.4" height="10.4" fill="#000"/>
<rect x="1026.6" y="851.5" width="10.4" height="10.4" fill="#000"/>
<rect x="1024.4" y="854" width="10.4" height="10.4" fill="#000"/>
<rect x="1023.6" y="854.9" width="10.4" height="10.4" fill="#000"/>
<rect x="1022.9" y="855.7" width="10.4" height="10.4" fill="#000"/>
<rect x="1022.1" y="856.4" width="10.4" height="10.4" fill="#000"/>
<rect x="1019.9" y="858.2" width="10.4" height="10.4" fill="#000"/>
<rect x="1017.8" y="860" width="10.4" height="10.4" fill="#000"/>
<rect x="1015.6" y="861.8" width="10.4" height="10.4" fill="#000"/>
<rect x="1014.9" y="862.5" width="10.4" height="10.4" fill="#000"/>
<rect x="1014.1" y="863.1" width="10.4" height="10.4" fill="#000"/>
<rect x="1013.3" y="864" width="10.4" height="10.4" fill="#000"/>
<rect x="1012.6" y="865.1" width="10.4" height="10.4" fill="#000"/>
<rect x="1011.8" y="866.3" width="10.4" height="10.4" fill="#000"/>
<rect x="1011" y="867.4" width="10.4" height="10.4" fill="#000"/>
<rect x="1010.3" y="868.5" width="10.4" height="10.4" fill="#000"/>
<rect x="1009.5" y="869.7" width="10.4" height="10.4" fill="#000"/>
<rect x="1008.7" y="870.8" width="10.4" height="10.4" fill="#000"/>
<rect x="1008" y="872" width="10.4" height="10.4" fill="#000"/>
<rect x="1007.2" y="873.1" width="10.4" height="10.4" fill="#000"/>
<rect x="1006.5" y="874.2" width="10.4" height="10.4" fill="#000"/>
<rect x="1005.7" y="875.4" width="10.4" height="10.4" fill="#000"/>
<rect x="1004.9" y="876.5" width="10.4" height="10.4" fill="#000"/>
<rect x="1004.2" y="877.6" width="10.4" height="10.4" fill="#000"/>
<rect x="1003.4" y="878.7" width="10.4" height="10.4" fill="#000"/>
<rect x="1002.6" y="879.7" width="10.4" height="10.4" fill="#000"/>
<rect x="1001.9" y="880.6" width="10.4" height="10.4" fill="#000"/>
<rect x="999.8" y="883.7" width="10.4" height="10.4" fill="#000"/>
<rect x="999" y="885" width="10.4" height="10.4" fill="#000"/>
<rect x="998.3" y="886.3" width="10.4" height="10.4" fill="#000"/>
<rect x="997.5" y="887.6" width="10.4" height="10.4" fill="#000"/>
<rect x="996.7" y="888.9" width="10.4" height="10.4" fill="#000"/>
<rect x="996" y="890.1" width="10.4" height="10.4" fill="#000"/>
<rect x="995.2" y="891.7" width="10.4" height="10.4" fill="#000"/>
<rect x="994.5" y="893.3" width="10.4" height="10.4" fill="#000"/>
<rect x="993.7" y="894.9" width="10.4" height="10.4" fill="#000"/>
<rect x="991.6" y="899.7" width="10.4" height="10.4" fill="#000"/>
<rect x="990.9" y="901.7" width="10.4" height="10.4" fill="#000"/>
<rect x="990.1" y="903.7" width="10.4" height="10.4" fill="#000"/>
<rect x="989.4" y="905.7" width="10.4" height="10.4" fill="#000"/>
<rect x="988.6" y="907.1" width="10.4" height="10.4" fill="#000"/>
<rect x="987.9" y="908.3" width="10.4" height="10.4" fill="#000"/>
<rect x="987" y="909.5" width="10.4" height="10.4" fill="#000"/>
<rect x="986.2" y="910.6" width="10.4" height="10.4" fill="#000"/>
<rect x="985.3" y="911.8" width="10.4" height="10.4" fill="#000"/>
<rect x="984.5" y="913" width="10.4" height="10.4" fill="#000"/>
<rect x="983.7" y="914.2" width="10.4" height="10.4" fill="#000"/>
<rect x="982.8" y="915.9" width="10.4" height="10.4" fill="#000"/>
<rect x="982" y="917.6" width="10.4" height="10.4" fill="#000"/>
<rect x="981.2" y="919.4" width="10.4" height="10.4" fill="#000"/>
<rect x="980.3" y="921.2" width="10.4" height="10.4" fill="#000"/>
<rect x="979.5" y="922.9" width="10.4" height="10.4" fill="#000"/>
<rect x="978.7" y="924.6" width="10.4" height="10.4" fill="#000"/>
<rect x="977.9" y="925.9" width="10.4" height="10.4" fill="#000"/>
<rect x="977" y="927.2" width="10.4" height="10.4" fill="#000"/>
<rect x="976.2" y="928.5" width="10.4" height="10.4" fill="#000"/>
<rect x="975.4" y="929.8" width="10.4" height="10.4" fill="#000"/>
<rect x="973.1" y="935.2" width="10.4" height="10.4" fill="#000"/>
<rect x="972.3" y="937.4" width="10.4" height="10.4" fill="#000"/>
<rect x="971.7" y="939.9" width="10.4" height="10.4" fill="#000"/>
<rect x="971.2" y="942.5" width="10.4" height="10.4" fill="#000"/>
<rect x="970.6" y="945.1" width="10.4" height="10.4" fill="#000"/>
<rect x="970.1" y="947.7" width="10.4" height="10.4" fill="#000"/>
<rect x="969.6" y="950.3" width="10.4" height="10.4" fill="#000"/>
<rect x="969" y="952.3" width="10.4" height="10.4" fill="#000"/>
<rect x="968.1" y="953.1" width="10.4" height="10.4" fill="#000"/>
<rect x="967.3" y="953.9" width="10.4" height="10.4" fill="#000"/>
<rect x="966.5" y="954.7" width="10.4" height="10.4" fill="#000"/>
<rect x="965" y="960" width="10.4" height="10.4" fill="#000"/>
<rect x="964.6" y="962.6" width="10.4" height="10.4" fill="#000"/>
<rect x="963.6" y="969.7" width="10.4" height="10.4" fill="#000"/>
<rect x="963.2" y="972.3" width="10.4" height="10.4" fill="#000"/>
<rect x="962.8" y="974.9" width="10.4" height="10.4" fill="#000"/>
<rect x="962" y="975.3" width="10.4" height="10.4" fill="#000"/>
<rect x="959.7" y="976.5" width="10.4" height="10.4" fill="#000"/>
<rect x="958.9" y="976.9" width="10.4" height="10.4" fill="#000"/>
<rect x="958.6" y="979.1" width="10.4" height="10.4" fill="#000"/>
<rect x="958.4" y="981.6" width="10.4" height="10.4" fill="#000"/>
<rect x="958.2" y="984.2" width="10.4" height="10.4" fill="#000"/>
<rect x="957.6" y="991.4" width="10.4" height="10.4" fill="#000"/>
<rect x="957.4" y="994" width="10.4" height="10.4" fill="#000"/>
<rect x="957.2" y="996.6" width="10.4" height="10.4" fill="#000"/>
<rect x="957" y="999.1" width="10.4" height="10.4" fill="#000"/>
<rect x="956.7" y="1001.7" width="10.4" height="10.4" fill="#000"/>
<rect x="956.5" y="1004.3" width="10.4" height="10.4" fill="#000"/>
<rect x="956.2" y="1006.9" width="10.4" height="10.4" fill="#000"/>
<rect x="1032.8" y="839.9" width="10.4" height="10.4" fill="#000"/>
<rect x="1031.3" y="840.8" width="10.4" height="10.4" fill="#000"/>
<rect x="1030.1" y="841.5" width="10.4" height="10.4" fill="#000"/>
<rect x="1030.3" y="843.4" width="10.4" height="10.4" fill="#000"/>
<rect x="1028.9" y="842.9" width="10.4" height="10.4" fill="#000"/>
<rect x="1027.2" y="842.9" width="10.4" height="10.4" fill="#000"/>
<rect x="1027.5" y="843.8" width="10.4" height="10.4"/>
<rect x="1025.5" y="845.9" width="10.4" height="10.4" fill="#000"/>
<rect x="1022.7" y="847.9" width="10.4" height="10.4" fill="#000"/>
<rect x="1022.6" y="847" width="10.4" height="10.4"/>
<rect x="1020.2" y="850.5" width="10.4" height="10.4" fill="#000"/>
<rect x="1020.5" y="852.6" width="10.4" height="10.4"/>
<rect x="1018.1" y="854.2" width="10.4" height="10.4" fill="#000"/>
<rect x="1017.7" y="855.4" width="10.4" height="10.4" fill="#000"/>
<rect x="1017.1" y="855.2" width="10.4" height="10.4" fill="#000"/>
<rect x="1014.9" y="857" width="10.4" height="10.4"/>
<rect x="1013.9" y="858.2" width="10.4" height="10.4"/>
<rect x="1011.3" y="858.9" width="10.4" height="10.4"/>
<rect x="1009.4" y="862.3" width="10.4" height="10.4" fill="#000"/>
<rect x="1007.2" y="863.4" width="10.4" height="10.4" fill="#000"/>
<rect x="1007.3" y="863.5" width="10.4" height="10.4" fill="#000"/>
<rect x="1005.8" y="863.9" width="10.4" height="10.4" fill="#000"/>
<rect x="1005.2" y="865.9" width="10.4" height="10.4" fill="#000"/>
<rect x="1004.7" y="866" width="10.4" height="10.4" fill="#000"/>
<rect x="1004.5" y="866.7" width="10.4" height="10.4" fill="#000"/>
<rect x="1002.8" y="869.5" width="10.4" height="10.4" fill="#000"/>
<rect x="1003.4" y="870" width="10.4" height="10.4" fill="#000"/>
<rect x="1002.9" y="871.9" width="10.4" height="10.4" fill="#000"/>
<rect x="1001.9" y="872.7" width="10.4" height="10.4" fill="#000"/>
<rect x="1000.1" y="873.2" width="10.4" height="10.4" fill="#000"/>
<rect x="1000.9" y="874.7" width="10.4" height="10.4" fill="#000"/>
<rect x="999.2" y="875.7" width="10.4" height="10.4" fill="#000"/>
<rect x="999.2" y="877.6" width="10.4" height="10.4" fill="#000"/>
<rect x="998.9" y="876.4" width="10.4" height="10.4" fill="#000"/>
<rect x="996.2" y="879.8" width="10.4" height="10.4" fill="#000"/>
<rect x="995.5" y="878.5" width="10.4" height="10.4" fill="#000"/>
<rect x="995.1" y="881.6" width="10.4" height="10.4"/>
<rect x="993.2" y="883.9" width="10.4" height="10.4" fill="#000"/>
<rect x="993.3" y="884.9" width="10.4" height="10.4" fill="#000"/>
<rect x="993" y="885.2" width="10.4" height="10.4" fill="#000"/>
<rect x="990.6" y="887.2" width="10.4" height="10.4" fill="#000"/>
<rect x="989.1" y="888.5" width="10.4" height="10.4" fill="#000"/>
<rect x="990.1" y="890.8" width="10.4" height="10.4" fill="#000"/>
<rect x="989.7" y="892.8" width="10.4" height="10.4"/>
<rect x="987.3" y="892.5" width="10.4" height="10.4"/>
<rect x="987.8" y="895.7" width="10.4" height="10.4"/>
<rect x="984.8" y="898.9" width="10.4" height="10.4"/>
<rect x="983.3" y="902.5" width="10.4" height="10.4"/>
<rect x="982.9" y="902.9" width="10.4" height="10.4"/>
<rect x="982.3" y="906.2" width="10.4" height="10.4" fill="#000"/>
<rect x="983" y="906.3" width="10.4" height="10.4" fill="#000"/>
<rect x="981.9" y="908.6" width="10.4" height="10.4" fill="#000"/>
<rect x="980.6" y="909.8" width="10.4" height="10.4" fill="#000"/>
<rect x="979.1" y="911.3" width="10.4" height="10.4" fill="#000"/>
<rect x="980.4" y="911.6" width="10.4" height="10.4" fill="#000"/>
<rect x="978.1" y="912.2" width="10.4" height="10.4" fill="#000"/>
<rect x="977.2" y="913.1" width="10.4" height="10.4"/>
<rect x="975.8" y="915.9" width="10.4" height="10.4"/>
<rect x="976.3" y="918.5" width="10.4" height="10.4"/>
<rect x="976" y="919.2" width="10.4" height="10.4"/>
<rect x="975.9" y="920.7" width="10.4" height="10.4"/>
<rect x="974.9" y="923.1" width="10.4" height="10.4"/>
<rect x="972.1" y="925.6" width="10.4" height="10.4" fill="#000"/>
<rect x="973.7" y="926" width="10.4" height="10.4" fill="#000"/>
<rect x="972.6" y="926.6" width="10.4" height="10.4" fill="#000"/>
<rect x="972.4" y="927.6" width="10.4" height="10.4" fill="#000"/>
<rect x="969.5" y="929.1" width="10.4" height="10.4"/>
<rect x="968.5" y="935.8" width="10.4" height="10.4"/>
<rect x="967.2" y="937.4" width="10.4" height="10.4"/>
<rect x="967.3" y="940.3" width="10.4" height="10.4"/>
<rect x="966.8" y="942.1" width="10.4" height="10.4"/>
<rect x="965.3" y="944.1" width="10.4" height="10.4"/>
<rect x="966.5" y="948.2" width="10.4" height="10.4"/>
<rect x="965.4" y="950.1" width="10.4" height="10.4"/>
<rect x="965" y="953" width="10.4" height="10.4" fill="#000"/>
<rect x="965" y="953.5" width="10.4" height="10.4" fill="#000"/>
<rect x="963.3" y="952.7" width="10.4" height="10.4" fill="#000"/>
<rect x="961.5" y="953.8" width="10.4" height="10.4"/>
<rect x="959.9" y="958.8" width="10.4" height="10.4"/>
<rect x="960.5" y="961.8" width="10.4" height="10.4"/>
<rect x="961" y="969.3" width="10.4" height="10.4"/>
<rect x="959.3" y="972.8" width="10.4" height="10.4"/>
<rect x="959" y="973.8" width="10.4" height="10.4" fill="#000"/>
<rect x="958.5" y="975" width="10.4" height="10.4" fill="#000"/>
<rect x="957" y="976.9" width="10.4" height="10.4" fill="#000"/>
<rect x="954.8" y="978.1" width="10.4" height="10.4"/>
<rect x="955.5" y="979.8" width="10.4" height="10.4"/>
<rect x="955.3" y="981.2" width="10.4" height="10.4"/>
<rect x="955.1" y="984.4" width="10.4" height="10.4"/>
<rect x="954.6" y="992.4" width="10.4" height="10.4"/>
<rect x="954.4" y="993.6" width="10.4" height="10.4"/>
<rect x="954.2" y="996.9" width="10.4" height="10.4"/>
<rect x="954" y="998.9" width="10.4" height="10.4"/>
<rect x="953.8" y="1001.9" width="10.4" height="10.4"/>
<rect x="953.6" y="1004.2" width="10.4" height="10.4"/>
<rect x="953.3" y="1006.7" width="10.4" height="10.4"/>
<rect x="953.1" y="1009.7" width="10.4" height="10.4"/>
<rect x="952.9" y="1013" width="10.4" height="10.4"/>
<rect x="953.3" y="1020" width="10.4" height="10.4"/>
<rect x="953.5" y="1020.8" width="10.4" height="10.4"/>
<rect x="953.6" y="1026.8" width="10.4" height="10.4"/>
</g></g>
<g stroke="#000" fill="none">
<rect x="942.3" y="544.3" width="890.9" height="622.7" stroke-width="4"/>
<line x1="986.8" y1="1167" x2="986.8" y2="1159" stroke="#000" stroke-width="3.6"/>
<line x1="1031.3" y1="1167" x2="1031.3" y2="1159" stroke="#000" stroke-width="3.6"/>
<line x1="1075.9" y1="1167" x2="1075.9" y2="1159" stroke="#000" stroke-width="3.6"/>
<line x1="1120.4" y1="1167" x2="1120.4" y2="1159" stroke="#000" stroke-width="3.6"/>
<line x1="1164.9" y1="1167" x2="1164.9" y2="1151" stroke="#000" stroke-width="3.6"/>
<line x1="1209.4" y1="1167" x2="1209.4" y2="1159" stroke="#000" stroke-width="3.6"/>
<line x1="1253.9" y1="1167" x2="1253.9" y2="1159" stroke="#000" stroke-width="3.6"/>
<line x1="1298.5" y1="1167" x2="1298.5" y2="1159" stroke="#000" stroke-width="3.6"/>
<line x1="1343" y1="1167" x2="1343" y2="1159" stroke="#000" stroke-width="3.6"/>
<line x1="1387.5" y1="1167" x2="1387.5" y2="1151" stroke="#000" stroke-width="3.6"/>
<line x1="1432" y1="1167" x2="1432" y2="1159" stroke="#000" stroke-width="3.6"/>
<line x1="1476.5" y1="1167" x2="1476.5" y2="1159" stroke="#000" stroke-width="3.6"/>
<line x1="1521.1" y1="1167" x2="1521.1" y2="1159" stroke="#000" stroke-width="3.6"/>
<line x1="1565.6" y1="1167" x2="1565.6" y2="1159" stroke="#000" stroke-width="3.6"/>
<line x1="1610.1" y1="1167" x2="1610.1" y2="1151" stroke="#000" stroke-width="3.6"/>
<line x1="1654.6" y1="1167" x2="1654.6" y2="1159" stroke="#000" stroke-width="3.6"/>
<line x1="1699.1" y1="1167" x2="1699.1" y2="1159" stroke="#000" stroke-width="3.6"/>
<line x1="1743.7" y1="1167" x2="1743.7" y2="1159" stroke="#000" stroke-width="3.6"/>
<line x1="1788.2" y1="1167" x2="1788.2" y2="1159" stroke="#000" stroke-width="3.6"/>
<line x1="1810.9" y1="544.3" x2="1810.9" y2="549.9" stroke="#000" stroke-width="3.6"/>
<line x1="1744.7" y1="544.3" x2="1744.7" y2="555.8" stroke="#000" stroke-width="3.6"/>
<line x1="1681.7" y1="544.3" x2="1681.7" y2="549.9" stroke="#000" stroke-width="3.6"/>
<line x1="1621.7" y1="544.3" x2="1621.7" y2="549.9" stroke="#000" stroke-width="3.6"/>
<line x1="1564.4" y1="544.3" x2="1564.4" y2="549.9" stroke="#000" stroke-width="3.6"/>
<line x1="1509.8" y1="544.3" x2="1509.8" y2="555.8" stroke="#000" stroke-width="3.6"/>
<line x1="1457.6" y1="544.3" x2="1457.6" y2="549.9" stroke="#000" stroke-width="3.6"/>
<line x1="1407.7" y1="544.3" x2="1407.7" y2="549.9" stroke="#000" stroke-width="3.6"/>
<line x1="1359.9" y1="544.3" x2="1359.9" y2="549.9" stroke="#000" stroke-width="3.6"/>
<line x1="1314.1" y1="544.3" x2="1314.1" y2="555.8" stroke="#000" stroke-width="3.6"/>
<line x1="1270.2" y1="544.3" x2="1270.2" y2="549.9" stroke="#000" stroke-width="3.6"/>
<line x1="1228" y1="544.3" x2="1228" y2="549.9" stroke="#000" stroke-width="3.6"/>
<line x1="1187.5" y1="544.3" x2="1187.5" y2="549.9" stroke="#000" stroke-width="3.6"/>
<line x1="1148.5" y1="544.3" x2="1148.5" y2="555.8" stroke="#000" stroke-width="3.6"/>
<line x1="1111.1" y1="544.3" x2="1111.1" y2="549.9" stroke="#000" stroke-width="3.6"/>
<line x1="1075" y1="544.3" x2="1075" y2="549.9" stroke="#000" stroke-width="3.6"/>
<line x1="1040.2" y1="544.3" x2="1040.2" y2="549.9" stroke="#000" stroke-width="3.6"/>
<line x1="1006.6" y1="544.3" x2="1006.6" y2="555.8" stroke="#000" stroke-width="3.6"/>
<line x1="974.2" y1="544.3" x2="974.2" y2="549.9" stroke="#000" stroke-width="3.6"/>
<line x1="942.3" y1="855" x2="957.3" y2="855" stroke="#000" stroke-width="3.6"/>
<line x1="1833.2" y1="855" x2="1818.2" y2="855" stroke="#000" stroke-width="3.6"/>
<line x1="942.3" y1="761.3" x2="950.3" y2="761.3" stroke="#000" stroke-width="3.6"/>
<line x1="1833.2" y1="761.3" x2="1825.2" y2="761.3" stroke="#000" stroke-width="3.6"/>
<line x1="942.3" y1="706.5" x2="950.3" y2="706.5" stroke="#000" stroke-width="3.6"/>
<line x1="1833.2" y1="706.5" x2="1825.2" y2="706.5" stroke="#000" stroke-width="3.6"/>
<line x1="942.3" y1="667.6" x2="950.3" y2="667.6" stroke="#000" stroke-width="3.6"/>
<line x1="1833.2" y1="667.6" x2="1825.2" y2="667.6" stroke="#000" stroke-width="3.6"/>
<line x1="942.3" y1="637.5" x2="950.3" y2="637.5" stroke="#000" stroke-width="3.6"/>
<line x1="1833.2" y1="637.5" x2="1825.2" y2="637.5" stroke="#000" stroke-width="3.6"/>
<line x1="942.3" y1="612.8" x2="950.3" y2="612.8" stroke="#000" stroke-width="3.6"/>
<line x1="1833.2" y1="612.8" x2="1825.2" y2="612.8" stroke="#000" stroke-width="3.6"/>
<line x1="942.3" y1="592" x2="950.3" y2="592" stroke="#000" stroke-width="3.6"/>
<line x1="1833.2" y1="592" x2="1825.2" y2="592" stroke="#000" stroke-width="3.6"/>
<line x1="942.3" y1="574" x2="950.3" y2="574" stroke="#000" stroke-width="3.6"/>
<line x1="1833.2" y1="574" x2="1825.2" y2="574" stroke="#000" stroke-width="3.6"/>
<line x1="942.3" y1="558" x2="950.3" y2="558" stroke="#000" stroke-width="3.6"/>
<line x1="1833.2" y1="558" x2="1825.2" y2="558" stroke="#000" stroke-width="3.6"/>
<line x1="942.3" y1="1072.5" x2="950.3" y2="1072.5" stroke="#000" stroke-width="3.6"/>
<line x1="1833.2" y1="1072.5" x2="1825.2" y2="1072.5" stroke="#000" stroke-width="3.6"/>
<line x1="942.3" y1="1017.7" x2="950.3" y2="1017.7" stroke="#000" stroke-width="3.6"/>
<line x1="1833.2" y1="1017.7" x2="1825.2" y2="1017.7" stroke="#000" stroke-width="3.6"/>
<line x1="942.3" y1="978.8" x2="950.3" y2="978.8" stroke="#000" stroke-width="3.6"/>
<line x1="1833.2" y1="978.8" x2="1825.2" y2="978.8" stroke="#000" stroke-width="3.6"/>
<line x1="942.3" y1="948.7" x2="950.3" y2="948.7" stroke="#000" stroke-width="3.6"/>
<line x1="1833.2" y1="948.7" x2="1825.2" y2="948.7" stroke="#000" stroke-width="3.6"/>
<line x1="942.3" y1="924" x2="950.3" y2="924" stroke="#000" stroke-width="3.6"/>
<line x1="1833.2" y1="924" x2="1825.2" y2="924" stroke="#000" stroke-width="3.6"/>
<line x1="942.3" y1="903.2" x2="950.3" y2="903.2" stroke="#000" stroke-width="3.6"/>
<line x1="1833.2" y1="903.2" x2="1825.2" y2="903.2" stroke="#000" stroke-width="3.6"/>
<line x1="942.3" y1="885.2" x2="950.3" y2="885.2" stroke="#000" stroke-width="3.6"/>
<line x1="1833.2" y1="885.2" x2="1825.2" y2="885.2" stroke="#000" stroke-width="3.6"/>
<line x1="942.3" y1="869.2" x2="950.3" y2="869.2" stroke="#000" stroke-width="3.6"/>
<line x1="1833.2" y1="869.2" x2="1825.2" y2="869.2" stroke="#000" stroke-width="3.6"/>
</g>
<g class="b2">
<text x="901.5" y="570.3" font-size="70" text-anchor="end">10</text>
<text x="902" y="540.3" font-size="46.5">2</text>
<text x="901.5" y="881" font-size="70" text-anchor="end">10</text>
<text x="902" y="851" font-size="46.5">1</text>
<text x="901.5" y="1193" font-size="70" text-anchor="end">10</text>
<text x="902" y="1163" font-size="46.5">0</text>
<text x="942.8" y="1237.2" font-size="70" text-anchor="middle">40</text>
<text x="1165.4" y="1237.2" font-size="70" text-anchor="middle">45</text>
<text x="1388" y="1237.2" font-size="70" text-anchor="middle">50</text>
<text x="1610.6" y="1237.2" font-size="70" text-anchor="middle">55</text>
<text x="1833.2" y="1237.2" font-size="70" text-anchor="middle">60</text>
<text x="1007.6" y="515.3" font-size="70" text-anchor="middle">280</text>
<text x="1149.5" y="515.3" font-size="70" text-anchor="middle">260</text>
<text x="1315.1" y="515.3" font-size="70" text-anchor="middle">240</text>
<text x="1510.8" y="515.3" font-size="70" text-anchor="middle">220</text>
<text x="1745.7" y="515.3" font-size="70" text-anchor="middle">200</text>
</g>
<text transform="translate(1301 427.5) skewX(-4)" font-size="69" class="bi" stroke="#000" stroke-width="0.55">T</text>
<text transform="translate(1378 427.5) scale(1.04 1)" font-size="69" stroke="#000" stroke-width="0.72">(K)</text>
<text transform="translate(1223 1327.5) scale(1.02 1)" font-size="69" stroke="#000" stroke-width="0.72">1/k</text>
<text transform="translate(1311 1327.5) skewX(-4)" font-size="69" class="bi" stroke="#000" stroke-width="0.55">T</text>
<text transform="translate(1386 1327.5) scale(1.02 1)" font-size="69" stroke="#000" stroke-width="0.72">(eV<tspan font-size="47" dy="-28">-1</tspan><tspan dy="28">)</tspan></text>
<g transform="translate(800 987.5) rotate(-90)">
<text transform="translate(6.2 0) skewX(-8) scale(1.1 1)" font-size="69" class="bi">ρ</text>
<text transform="translate(77 0) scale(1.0 1)" font-size="69" stroke="#000" stroke-width="0.72">(</text>
<text transform="translate(99.3 0) scale(1.09 1)" font-size="69" stroke="#000" stroke-width="0.72">Ω</text>
<text transform="translate(156 0) scale(1.0 1)" font-size="69" stroke="#000" stroke-width="0.72">cm)</text>
</g>
</g>
</svg></body></html>
